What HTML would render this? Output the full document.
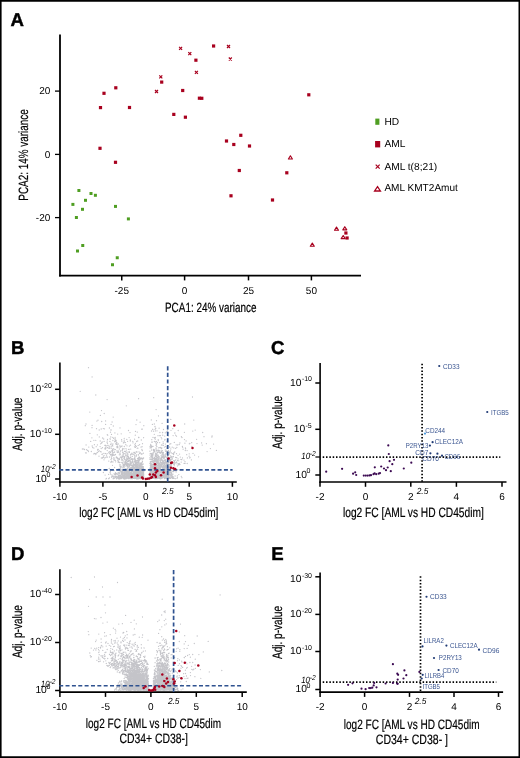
<!DOCTYPE html>
<html><head><meta charset="utf-8"><style>
html,body{margin:0;padding:0;background:#fff;}
svg{display:block;will-change:transform;}
text{font-family:"Liberation Sans", sans-serif;text-rendering:geometricPrecision;}
</style></head><body>
<svg width="520" height="758" viewBox="0 0 520 758">
<rect x="0" y="0" width="520" height="758" fill="#fff"/>
<path d="M133.2 469.7h0M132.2 465.5h0M125.7 477.8h0M121.2 469.7h0M126.9 470.8h0M134.3 478.4h0M129.9 472.1h0M138.9 469.7h0M134.9 444.6h0M140.1 474.5h0M130.2 457.4h0M131.3 477.8h0M135.6 477.5h0M120.1 477.9h0M141.0 468.1h0M131.0 477.1h0M121.4 477.8h0M135.2 474.2h0M129.1 476.1h0M128.0 477.6h0M135.3 474.3h0M129.3 477.7h0M136.5 472.8h0M123.1 471.1h0M134.7 475.1h0M131.6 459.0h0M128.7 472.7h0M113.1 478.7h0M135.9 475.0h0M121.0 471.4h0M129.6 477.9h0M122.3 471.7h0M143.4 478.7h0M142.6 471.6h0M132.7 467.7h0M128.2 474.0h0M122.1 467.8h0M139.0 478.6h0M122.5 473.3h0M135.1 473.9h0M125.5 463.1h0M131.2 459.4h0M130.9 473.7h0M120.1 474.9h0M128.3 467.2h0M124.1 464.6h0M130.0 460.3h0M129.9 477.7h0M123.3 473.1h0M134.5 461.1h0M137.2 474.2h0M135.5 475.8h0M124.5 473.4h0M123.5 476.9h0M129.2 468.4h0M129.1 449.3h0M127.9 463.1h0M138.2 471.0h0M130.9 475.9h0M118.9 469.0h0M143.8 471.6h0M120.0 471.0h0M127.9 464.6h0M143.5 478.8h0M136.1 474.7h0M141.2 466.0h0M125.7 477.4h0M127.7 466.3h0M140.5 464.5h0M132.0 469.1h0M115.5 476.8h0M131.2 477.7h0M142.6 470.6h0M135.7 473.6h0M140.6 476.8h0M138.8 475.6h0M141.3 464.9h0M120.9 476.0h0M124.6 476.7h0M124.7 470.4h0M139.6 468.7h0M139.1 472.3h0M138.6 467.6h0M138.5 468.5h0M140.7 474.9h0M129.4 452.4h0M129.2 471.4h0M131.9 476.1h0M123.7 467.0h0M125.7 477.7h0M128.2 475.7h0M128.5 470.2h0M129.6 469.9h0M133.0 464.9h0M123.1 464.7h0M129.7 474.5h0M142.3 475.8h0M132.9 475.4h0M140.7 475.0h0M131.8 472.6h0M130.2 463.6h0M136.3 469.5h0M137.4 468.0h0M142.4 476.3h0M139.6 444.7h0M133.0 477.9h0M139.2 470.8h0M142.5 469.8h0M126.8 464.4h0M132.3 458.7h0M126.8 476.6h0M138.9 460.5h0M137.3 464.8h0M118.5 476.9h0M139.1 457.4h0M132.9 461.7h0M136.1 473.4h0M127.4 467.0h0M136.5 475.4h0M141.8 464.0h0M139.2 460.8h0M134.9 465.6h0M137.4 475.0h0M130.6 473.3h0M135.0 475.1h0M140.9 466.6h0M114.1 478.0h0M130.4 476.6h0M139.9 469.0h0M139.4 473.0h0M140.6 476.6h0M121.0 475.1h0M137.1 477.7h0M140.4 471.7h0M129.5 470.1h0M138.4 459.1h0M118.2 472.4h0M139.6 465.2h0M136.1 468.8h0M133.9 471.4h0M134.9 467.0h0M134.9 477.2h0M134.0 473.2h0M142.4 467.2h0M137.0 475.1h0M143.8 475.1h0M140.6 468.6h0M140.5 477.6h0M141.7 473.1h0M134.8 457.4h0M127.9 454.6h0M136.3 471.7h0M133.5 464.0h0M143.1 458.7h0M125.5 473.4h0M119.8 472.6h0M125.0 466.3h0M136.5 475.7h0M141.2 477.7h0M139.6 474.6h0M124.1 474.7h0M140.5 474.0h0M116.9 477.2h0M143.7 472.9h0M129.7 476.3h0M133.3 476.3h0M130.9 478.6h0M142.8 469.0h0M122.4 472.0h0M140.3 458.3h0M124.4 477.4h0M129.6 465.5h0M133.9 469.2h0M119.8 475.3h0M121.9 473.2h0M140.2 459.6h0M127.9 452.2h0M142.5 443.7h0M126.2 471.2h0M133.6 471.9h0M138.9 472.8h0M134.0 474.4h0M126.6 478.2h0M125.9 478.2h0M127.2 469.1h0M132.3 476.3h0M136.0 475.3h0M143.2 476.3h0M141.3 476.4h0M142.1 475.1h0M125.0 471.0h0M136.3 478.1h0M133.9 469.0h0M142.0 464.1h0M105.9 478.9h0M123.7 465.7h0M133.8 473.9h0M132.1 465.2h0M138.4 476.6h0M124.4 479.0h0M126.2 477.9h0M138.1 470.2h0M141.7 468.7h0M126.4 475.1h0M120.7 478.2h0M133.8 473.2h0M128.9 471.8h0M130.7 449.1h0M127.1 463.7h0M136.3 467.5h0M105.1 475.1h0M135.0 472.8h0M139.9 472.5h0M128.1 475.6h0M138.2 459.0h0M135.0 462.3h0M141.2 476.3h0M129.9 477.7h0M134.2 472.2h0M132.7 469.7h0M135.1 472.6h0M138.7 472.2h0M136.2 463.2h0M127.9 474.4h0M136.0 477.3h0M138.2 476.5h0M126.4 474.5h0M126.8 463.5h0M124.4 476.8h0M141.9 477.7h0M142.0 467.7h0M116.2 476.3h0M117.2 478.0h0M117.5 473.8h0M140.1 422.2h0M131.3 477.2h0M142.4 475.5h0M115.6 474.2h0M130.7 464.6h0M135.8 462.6h0M127.7 476.4h0M130.7 468.3h0M129.1 470.3h0M141.0 463.1h0M123.5 473.2h0M140.7 465.4h0M136.2 470.1h0M126.4 473.5h0M139.2 471.5h0M138.6 458.9h0M134.0 458.7h0M137.0 466.4h0M129.1 470.8h0M129.2 478.2h0M138.4 474.1h0M136.8 420.0h0M133.2 463.4h0M128.2 476.1h0M122.1 477.7h0M126.4 476.0h0M138.8 472.3h0M133.8 467.0h0M115.4 476.9h0M132.8 470.8h0M143.7 471.2h0M114.6 460.2h0M132.8 476.1h0M123.1 465.5h0M120.2 468.8h0M141.1 475.6h0M135.7 476.2h0M126.1 476.2h0M123.3 476.0h0M112.1 476.2h0M121.3 472.8h0M142.1 475.3h0M129.9 475.1h0M132.7 476.2h0M134.4 470.8h0M137.3 472.5h0M143.6 468.8h0M137.1 473.1h0M134.5 469.6h0M142.2 466.5h0M130.6 455.1h0M136.0 475.5h0M125.1 472.1h0M134.6 478.6h0M131.7 471.9h0M138.6 477.8h0M118.6 472.9h0M135.1 476.7h0M128.4 467.3h0M134.7 474.9h0M120.8 477.4h0M127.0 477.0h0M128.2 478.1h0M141.9 470.4h0M131.7 471.4h0M129.6 473.1h0M135.2 471.7h0M103.4 472.5h0M129.7 475.8h0M139.6 470.8h0M143.3 478.3h0M130.0 474.0h0M128.0 473.5h0M124.8 476.5h0M131.8 476.6h0M125.1 476.5h0M141.2 472.8h0M126.6 465.0h0M137.4 476.1h0M135.1 472.4h0M138.9 473.1h0M128.1 459.0h0M140.9 474.0h0M118.5 476.3h0M126.4 471.2h0M143.1 467.3h0M132.4 474.2h0M142.5 461.4h0M138.6 458.9h0M132.9 474.7h0M131.5 472.6h0M132.2 474.6h0M142.6 478.5h0M128.5 465.0h0M138.4 475.6h0M132.0 465.4h0M142.7 472.1h0M127.6 474.6h0M133.4 474.7h0M130.3 476.6h0M136.8 473.4h0M132.5 476.7h0M141.1 472.6h0M127.4 478.2h0M133.0 467.1h0M140.7 478.5h0M130.1 475.3h0M132.5 466.0h0M126.4 474.3h0M120.5 470.8h0M143.4 472.5h0M140.3 476.9h0M117.9 476.5h0M131.3 476.2h0M138.0 462.0h0M124.1 474.3h0M137.0 469.8h0M141.4 468.1h0M127.9 474.3h0M138.9 474.0h0M142.4 476.6h0M136.3 472.9h0M137.2 475.3h0M140.1 469.4h0M131.3 477.4h0M128.5 458.1h0M129.7 476.7h0M134.8 475.1h0M139.6 459.8h0M139.1 473.6h0M126.4 469.9h0M141.0 447.1h0M130.0 464.4h0M130.0 468.0h0M131.6 462.6h0M138.1 464.7h0M108.7 478.7h0M134.9 474.5h0M135.0 468.4h0M143.4 453.2h0M130.7 474.9h0M126.9 464.7h0M138.3 470.0h0M138.0 467.5h0M135.3 465.1h0M135.4 473.0h0M125.3 478.0h0M133.4 475.9h0M136.1 478.0h0M141.3 440.0h0M113.0 476.0h0M138.1 473.1h0M143.5 474.5h0M130.0 469.9h0M136.6 452.0h0M126.1 454.0h0M132.3 461.3h0M137.5 467.0h0M130.7 464.7h0M126.0 474.5h0M129.6 477.6h0M142.2 458.5h0M139.9 473.4h0M143.0 478.8h0M131.9 469.1h0M131.1 474.2h0M116.6 478.2h0M125.8 476.4h0M138.9 474.7h0M143.4 476.4h0M131.3 465.6h0M137.5 464.1h0M128.1 471.0h0M122.2 467.8h0M124.1 467.7h0M142.7 466.9h0M132.1 469.7h0M131.7 471.1h0M139.6 458.1h0M139.7 472.3h0M115.1 475.1h0M114.6 467.5h0M133.3 475.2h0M137.3 470.9h0M132.6 474.8h0M142.2 477.8h0M134.3 475.3h0M126.2 470.5h0M135.4 473.0h0M142.8 478.3h0M124.1 477.7h0M124.1 469.4h0M109.4 477.9h0M123.7 476.9h0M138.8 473.5h0M136.3 464.8h0M134.8 461.3h0M132.2 473.4h0M121.2 466.3h0M137.6 474.0h0M128.2 472.8h0M125.5 473.7h0M138.1 473.3h0M135.8 474.5h0M123.5 475.9h0M142.2 458.5h0M140.7 472.0h0M135.9 471.3h0M141.4 463.1h0M121.7 474.6h0M130.9 472.3h0M141.9 449.4h0M119.2 478.2h0M124.2 474.6h0M141.7 429.2h0M122.6 473.5h0M135.0 470.7h0M109.2 468.5h0M142.4 461.7h0M126.6 473.6h0M132.4 475.8h0M134.6 476.8h0M127.5 476.9h0M137.5 458.4h0M118.2 478.0h0M116.7 478.8h0M135.1 468.6h0M123.1 475.8h0M125.3 477.5h0M134.1 469.5h0M133.9 472.1h0M134.8 467.9h0M126.0 473.7h0M119.6 477.7h0M138.7 476.5h0M132.2 474.4h0M136.2 464.1h0M126.8 477.9h0M134.0 477.2h0M142.8 464.6h0M126.5 471.6h0M131.7 473.3h0M135.7 471.5h0M118.4 478.4h0M131.1 469.0h0M136.3 472.8h0M132.4 470.5h0M137.2 478.8h0M135.9 466.4h0M137.4 472.9h0M143.1 466.7h0M130.7 474.4h0M138.9 475.1h0M134.0 474.6h0M111.5 477.2h0M121.8 462.5h0M120.6 478.5h0M131.0 468.8h0M138.5 458.0h0M138.8 462.1h0M133.6 454.1h0M139.2 456.8h0M133.5 477.1h0M137.5 477.1h0M141.1 463.4h0M133.2 474.2h0M133.7 468.0h0M134.5 468.7h0M126.7 477.4h0M139.7 471.6h0M136.7 462.4h0M136.5 472.5h0M123.6 477.2h0M126.6 476.5h0M132.2 467.1h0M128.9 473.4h0M131.8 467.5h0M127.9 463.9h0M138.2 474.9h0M140.7 477.9h0M125.7 473.3h0M127.5 471.7h0M143.3 474.5h0M121.4 471.9h0M133.6 473.7h0M120.3 477.2h0M142.5 466.5h0M135.8 461.5h0M121.4 476.2h0M142.1 459.8h0M137.1 468.5h0M135.0 474.4h0M129.0 475.3h0M128.3 475.3h0M132.8 441.4h0M141.5 466.2h0M138.4 463.2h0M135.8 478.0h0M123.3 476.5h0M124.9 470.5h0M134.3 477.2h0M111.9 474.8h0M128.2 478.5h0M137.7 440.9h0M141.2 469.2h0M137.7 468.8h0M137.1 460.4h0M141.3 470.4h0M136.7 476.8h0M123.3 452.8h0M125.2 469.7h0M135.6 465.6h0M133.1 469.4h0M138.9 437.5h0M134.5 446.8h0M136.7 469.0h0M136.2 451.8h0M131.8 473.9h0M119.4 476.7h0M135.4 468.9h0M142.3 475.5h0M134.5 475.1h0M131.8 475.5h0M137.9 475.0h0M124.5 476.9h0M140.1 459.1h0M128.3 456.4h0M121.6 476.6h0M128.8 472.9h0M143.8 425.7h0M130.0 473.2h0M132.6 473.7h0M143.3 467.4h0M131.3 471.0h0M125.0 474.3h0M136.1 475.8h0M113.8 476.8h0M143.0 476.9h0M130.7 477.0h0M139.4 472.9h0M140.6 477.8h0M112.9 476.8h0M139.4 477.0h0M130.9 469.2h0M136.1 474.0h0M126.2 477.0h0M142.7 468.1h0M129.7 471.7h0M130.5 476.3h0M134.8 455.7h0M137.4 476.3h0M136.6 475.6h0M135.1 469.7h0M143.5 478.7h0M135.7 478.2h0M134.7 474.0h0M126.9 473.3h0M134.8 469.5h0M138.6 466.8h0M130.9 477.5h0M126.2 471.8h0M138.0 478.9h0M138.7 464.7h0M123.7 478.0h0M135.4 471.2h0M134.8 446.8h0M137.8 469.5h0M114.7 474.3h0M136.4 474.4h0M137.3 475.9h0M127.7 464.7h0M141.6 475.3h0M124.8 474.9h0M135.3 465.7h0M123.5 478.2h0M143.2 477.4h0M130.9 476.3h0M143.6 457.9h0M141.0 453.7h0M140.9 467.7h0M130.7 464.9h0M141.4 474.1h0M131.4 462.8h0M123.3 475.4h0M129.8 474.2h0M141.6 469.4h0M117.0 474.0h0M132.6 476.0h0M136.6 473.2h0M127.9 473.1h0M136.0 471.5h0M125.4 461.4h0M130.7 469.3h0M141.6 469.2h0M136.8 476.6h0M140.6 474.8h0M138.4 455.1h0M140.2 471.6h0M133.1 477.8h0M140.9 477.0h0M128.5 464.5h0M121.5 473.7h0M132.4 477.8h0M141.9 470.5h0M136.1 473.9h0M130.7 475.8h0M131.1 470.1h0M124.3 476.1h0M140.1 473.1h0M134.5 465.3h0M143.0 471.5h0M120.3 475.4h0M119.1 475.3h0M139.8 457.9h0M141.2 464.0h0M131.1 475.7h0M123.4 478.7h0M136.3 465.5h0M117.4 477.5h0M124.4 456.7h0M132.1 472.8h0M141.2 457.8h0M137.3 467.6h0M120.9 467.0h0M139.2 468.9h0M123.9 477.2h0M125.1 475.6h0M142.2 466.6h0M134.3 468.9h0M123.1 478.1h0M142.8 475.0h0M139.3 472.8h0M137.6 476.6h0M120.3 476.8h0M133.9 452.4h0M134.2 474.9h0M137.9 448.2h0M139.4 475.7h0M140.1 470.5h0M130.3 468.4h0M129.8 475.9h0M137.7 476.6h0M143.2 472.1h0M127.7 476.8h0M139.1 475.5h0M134.9 478.1h0M120.7 478.4h0M140.8 473.4h0M132.7 478.6h0M135.3 476.3h0M142.2 474.7h0M126.7 474.4h0M137.0 474.0h0M128.5 475.4h0M130.5 470.2h0M123.9 469.3h0M141.4 472.2h0M137.4 468.7h0M131.9 453.1h0M138.6 437.5h0M130.5 463.4h0M137.5 472.3h0M113.7 478.5h0M124.3 472.0h0M139.5 476.7h0M140.3 467.8h0M141.0 471.6h0M131.7 475.8h0M126.9 470.4h0M129.8 465.1h0M136.3 477.8h0M114.6 474.3h0M142.4 450.7h0M143.2 478.4h0M132.7 470.8h0M131.7 474.1h0M134.0 464.8h0M143.0 468.4h0M133.6 470.0h0M136.6 477.9h0M128.7 475.8h0M128.1 467.1h0M139.6 478.0h0M128.6 474.4h0M131.9 470.2h0M126.0 470.1h0M130.9 477.8h0M121.6 478.6h0M133.1 465.7h0M136.0 478.1h0M133.4 477.2h0M132.2 476.2h0M132.6 476.5h0M123.0 472.0h0M129.2 470.6h0M126.3 472.3h0M142.2 472.7h0M141.6 472.9h0M125.4 475.6h0M137.1 460.7h0M133.0 442.8h0M127.6 477.5h0M138.4 473.0h0M115.7 473.7h0M142.8 464.5h0M130.6 468.6h0M128.8 466.8h0M143.4 476.3h0M124.4 451.4h0M137.9 461.2h0M127.2 469.9h0M136.6 478.9h0M137.1 474.6h0M139.6 459.8h0M140.0 470.3h0M122.0 474.4h0M131.7 458.8h0M139.5 453.5h0M142.6 476.0h0M135.7 471.9h0M134.7 458.6h0M132.7 478.3h0M135.4 447.4h0M143.2 473.3h0M138.6 468.7h0M138.9 466.1h0M140.0 462.9h0M132.8 467.3h0M141.2 465.1h0M119.7 478.9h0M138.3 469.4h0M123.1 470.2h0M118.7 476.6h0M138.2 469.5h0M122.8 473.2h0M135.9 472.2h0M139.7 476.7h0M142.4 466.8h0M134.1 473.0h0M136.8 477.9h0M135.6 475.7h0M139.8 476.7h0M139.2 463.8h0M122.2 470.7h0M115.2 477.6h0M116.1 476.7h0M126.6 478.4h0M128.8 475.6h0M127.1 474.9h0M137.8 473.5h0M142.6 471.2h0M131.9 464.9h0M133.5 473.0h0M123.1 477.6h0M139.4 466.3h0M135.3 435.2h0M128.8 473.6h0M126.0 474.6h0M126.5 465.8h0M127.3 475.8h0M122.1 475.0h0M126.1 477.2h0M133.7 475.1h0M139.8 475.5h0M127.7 476.4h0M133.3 464.8h0M140.2 452.6h0M131.1 478.7h0M142.4 478.4h0M115.0 476.5h0M128.0 477.3h0M125.9 473.6h0M130.0 432.6h0M136.4 470.4h0M140.1 468.9h0M142.4 469.8h0M142.1 453.9h0M132.3 471.7h0M133.9 467.8h0M135.4 443.3h0M124.0 477.9h0M137.0 477.8h0M135.5 462.9h0M138.0 470.7h0M139.3 476.8h0M141.5 469.0h0M106.5 478.3h0M136.5 456.1h0M130.6 477.2h0M139.8 475.4h0M127.2 477.3h0M143.4 475.5h0M140.5 471.5h0M135.1 471.0h0M139.3 467.5h0M127.3 477.9h0M134.2 478.4h0M143.2 477.0h0M130.5 478.7h0M135.1 476.1h0M120.6 464.9h0M140.8 473.3h0M126.4 455.9h0M131.2 474.5h0M139.5 475.9h0M128.9 478.2h0M140.0 475.2h0M126.7 474.6h0M134.0 472.1h0M135.8 472.2h0M137.6 462.4h0M135.3 470.0h0M137.5 474.3h0M133.8 470.4h0M130.0 472.0h0M132.4 454.2h0M136.4 469.8h0M137.0 452.0h0M124.0 467.4h0M140.0 469.0h0M135.0 456.7h0M139.7 466.4h0M125.9 474.2h0M133.5 476.5h0M126.4 471.9h0M123.4 475.7h0M129.7 460.5h0M136.8 477.6h0M137.5 478.3h0M140.8 473.7h0M118.9 477.9h0M139.4 477.2h0M121.8 474.6h0M131.6 475.7h0M133.4 466.2h0M128.1 476.2h0M137.6 475.3h0M132.1 475.1h0M110.1 472.5h0M142.8 458.5h0M137.6 468.9h0M143.8 476.9h0M123.9 476.7h0M112.5 465.3h0M143.4 468.4h0M139.4 477.9h0M135.4 462.4h0M140.5 475.9h0M142.6 472.7h0M136.0 471.9h0M129.9 478.6h0M143.5 473.9h0M138.9 462.1h0M140.1 463.1h0M127.7 454.3h0M138.8 465.6h0M136.7 441.5h0M125.6 478.8h0M137.8 473.2h0M143.7 474.6h0M132.0 477.1h0M128.4 474.3h0M132.8 474.4h0M125.1 475.6h0M138.3 468.6h0M142.1 450.3h0M130.2 462.5h0M125.7 462.2h0M119.2 477.7h0M138.3 465.1h0M119.0 473.8h0M116.7 478.4h0M137.6 474.2h0M129.8 474.4h0M110.8 462.2h0M137.5 477.5h0M117.8 469.3h0M118.7 478.4h0M137.0 471.1h0M138.0 468.9h0M139.9 459.5h0M121.5 471.6h0M138.5 474.5h0M122.7 475.0h0M110.4 471.4h0M136.9 466.6h0M135.4 465.7h0M134.3 475.4h0M135.6 469.9h0M135.1 472.9h0M119.2 473.4h0M123.1 466.7h0M134.5 461.8h0M138.2 476.5h0M116.8 474.0h0M120.4 478.3h0M116.5 476.3h0M131.5 473.5h0M131.3 469.3h0M130.3 475.3h0M136.7 467.9h0M126.8 463.6h0M139.6 475.9h0M139.7 477.5h0M124.2 473.9h0M119.5 458.9h0M120.4 475.2h0M129.1 477.8h0M122.5 470.5h0M125.9 469.3h0M127.3 456.1h0M131.4 476.9h0M130.4 478.5h0M135.4 445.5h0M134.6 473.4h0M136.1 471.5h0M120.0 453.0h0M140.5 474.8h0M122.8 477.5h0M131.0 477.9h0M127.7 453.7h0M131.9 471.7h0M133.8 472.2h0M140.7 471.8h0M136.1 476.5h0M129.8 465.6h0M130.5 472.2h0M135.1 467.8h0M130.7 478.5h0M140.1 478.7h0M136.8 474.6h0M122.8 476.0h0M138.2 462.2h0M116.2 476.4h0M141.1 464.4h0M134.9 465.8h0M135.2 477.4h0M126.2 475.7h0M123.6 456.0h0M141.6 467.8h0M128.1 466.6h0M138.5 478.4h0M129.0 469.6h0M142.9 468.7h0M129.1 437.6h0M129.3 474.9h0M138.4 476.2h0M130.7 475.0h0M133.3 469.2h0M143.7 471.4h0M142.7 475.9h0M136.1 472.8h0M138.7 476.1h0M125.1 474.2h0M138.5 478.6h0M139.9 457.8h0M143.7 477.6h0M140.3 476.4h0M141.0 469.5h0M132.3 477.6h0M108.6 474.4h0M136.0 476.4h0M129.5 477.4h0M134.8 452.4h0M114.0 473.8h0M143.2 478.2h0M136.4 476.5h0M133.0 466.5h0M131.8 475.5h0M139.8 475.1h0M131.0 475.3h0M139.0 471.4h0M116.2 473.5h0M141.1 477.5h0M133.7 470.0h0M136.8 473.9h0M122.4 476.6h0M140.0 470.4h0M126.5 476.5h0M142.6 467.4h0M136.7 469.5h0M130.4 475.8h0M127.8 471.0h0M137.4 477.6h0M134.9 477.6h0M135.4 476.0h0M135.9 476.7h0M122.7 473.9h0M137.6 460.5h0M135.4 477.0h0M131.8 474.8h0M124.9 473.5h0M126.4 460.1h0M141.0 472.4h0M140.6 469.1h0M125.8 478.9h0M142.9 472.6h0M137.5 466.2h0M141.5 454.2h0M127.6 475.7h0M129.7 466.4h0M136.1 478.5h0M131.8 478.7h0M138.8 475.4h0M139.8 469.5h0M135.6 476.1h0M133.5 466.6h0M143.6 437.7h0M128.7 463.9h0M137.0 463.1h0M132.3 466.2h0M136.5 460.9h0M128.3 474.7h0M133.6 465.0h0M135.0 459.0h0M133.5 464.1h0M132.0 468.4h0M138.1 474.6h0M136.0 424.6h0M135.0 478.6h0M129.2 451.4h0M133.5 476.3h0M128.7 471.1h0M131.4 474.7h0M132.1 478.0h0M130.9 467.7h0M125.3 464.1h0M132.5 474.6h0M141.8 466.7h0M138.5 475.8h0M140.0 465.1h0M139.6 470.6h0M126.2 477.2h0M135.3 468.9h0M135.5 472.2h0M142.1 473.6h0M115.5 477.3h0M139.8 472.6h0M143.0 474.0h0M131.5 477.6h0M128.2 474.1h0M124.8 453.6h0M127.4 468.7h0M141.6 473.2h0M138.0 471.7h0M138.0 476.7h0M135.8 471.9h0M122.8 473.8h0M112.9 476.8h0M140.5 473.8h0M136.6 478.1h0M139.3 474.5h0M130.9 478.5h0M136.8 477.4h0M143.2 470.6h0M134.4 469.1h0M118.2 475.7h0M133.8 477.3h0M142.9 477.8h0M138.6 398.7h0M141.7 466.6h0M130.1 472.0h0M124.0 478.4h0M123.8 472.9h0M125.7 459.6h0M139.7 478.3h0M127.1 472.8h0M129.0 474.2h0M134.0 471.7h0M125.5 478.3h0M138.5 470.3h0M143.2 466.7h0M133.6 472.7h0M137.0 470.5h0M139.5 467.9h0M129.2 465.2h0M137.8 476.2h0M133.7 478.3h0M129.8 476.5h0M132.0 471.2h0M125.9 475.8h0M135.6 464.0h0M134.5 475.1h0M131.8 471.1h0M137.6 477.8h0M137.3 477.1h0M128.7 467.1h0M120.6 478.3h0M137.6 478.3h0M142.1 446.7h0M139.2 476.3h0M143.8 476.7h0M136.5 477.7h0M114.8 474.1h0M141.3 458.4h0M128.5 471.0h0M134.4 464.6h0M140.1 478.4h0M115.2 473.1h0M143.1 464.0h0M135.4 473.0h0M129.0 469.4h0M120.0 466.3h0M130.9 474.9h0M142.7 471.5h0M118.6 478.7h0M125.1 471.6h0M131.4 475.7h0M136.1 466.7h0M139.4 475.0h0M123.1 476.9h0M138.7 468.7h0M118.8 475.9h0M138.7 465.0h0M135.1 463.8h0M133.0 469.0h0M138.6 477.2h0M134.0 454.7h0M132.9 470.7h0M137.9 478.5h0M123.8 478.0h0M115.5 474.5h0M135.0 453.5h0M142.9 472.0h0M139.7 477.3h0M134.5 466.9h0M123.4 475.1h0M140.5 466.4h0M127.4 474.3h0M132.1 465.9h0M138.8 469.3h0M136.7 476.8h0M138.8 466.9h0M138.1 476.3h0M140.4 465.2h0M130.9 472.5h0M140.9 471.1h0M134.6 468.3h0M131.1 476.9h0M143.2 478.5h0M141.8 474.3h0M139.6 478.0h0M118.9 478.9h0M126.2 474.4h0M130.0 478.7h0M133.9 470.4h0M117.9 474.3h0M123.3 464.5h0M132.1 477.3h0M127.5 475.8h0M132.1 462.2h0M141.1 476.1h0M143.3 476.0h0M121.9 474.8h0M142.1 462.3h0M136.2 477.5h0M137.5 471.4h0M133.1 475.8h0M137.2 448.2h0M135.3 466.7h0M125.3 468.9h0M139.5 465.1h0M128.6 475.2h0M133.4 467.6h0M130.0 463.5h0M128.2 470.2h0M128.4 478.6h0M134.5 473.5h0M133.7 477.6h0M138.5 476.1h0M133.9 476.0h0M137.8 477.5h0M141.6 472.2h0M135.2 464.1h0M133.5 464.9h0M127.1 474.1h0M126.9 468.8h0M114.9 478.1h0M125.7 476.3h0M130.3 475.2h0M120.4 471.0h0M130.8 469.5h0M139.4 468.3h0M126.0 474.6h0M137.9 475.7h0M127.7 472.7h0M134.7 475.0h0M137.8 470.9h0M141.4 474.6h0M132.8 478.3h0M124.2 476.1h0M129.1 476.4h0M138.2 445.4h0M134.7 473.6h0M136.8 478.8h0M122.5 476.9h0M121.9 477.3h0M128.6 476.0h0M129.9 460.2h0M110.5 474.0h0M140.9 478.1h0M135.4 475.2h0M139.3 475.8h0M139.0 451.8h0M138.3 454.6h0M139.0 470.1h0M119.9 475.3h0M132.8 470.6h0M128.5 475.5h0M138.4 471.6h0M132.7 477.1h0M143.1 472.6h0M137.7 477.7h0M119.9 473.0h0M128.6 477.2h0M127.7 456.9h0M139.6 467.6h0M119.5 464.9h0M124.9 465.4h0M131.5 478.6h0M134.0 473.7h0M135.4 459.2h0M141.4 471.0h0M133.5 474.5h0M127.1 460.7h0M120.0 475.1h0M119.5 475.6h0M123.4 478.1h0M115.5 472.7h0M135.3 461.6h0M134.4 469.9h0M125.1 478.3h0M134.6 473.7h0M142.1 477.5h0M120.3 467.9h0M138.4 465.1h0M142.6 466.5h0M125.0 478.5h0M131.6 476.0h0M143.3 475.7h0M124.1 470.2h0M130.6 473.2h0M123.2 469.4h0M142.4 477.6h0M135.4 463.5h0M122.6 475.0h0M133.4 476.2h0M134.5 458.7h0M138.5 473.1h0M139.2 472.8h0M123.3 466.8h0M137.2 465.1h0M138.4 475.5h0M128.6 470.8h0M134.1 469.5h0M139.7 473.4h0M137.4 477.0h0M114.3 478.1h0M139.3 476.7h0M114.1 470.6h0M142.4 429.1h0M135.7 460.7h0M139.2 471.2h0M138.1 460.1h0M121.2 476.9h0M136.3 473.9h0M124.2 440.2h0M121.6 439.7h0M111.5 434.4h0M102.6 458.0h0M82.4 449.0h0M104.1 455.3h0M124.3 446.5h0M116.7 443.1h0M120.3 454.7h0M84.6 449.6h0M134.1 459.3h0M97.3 434.8h0M130.7 457.5h0M110.2 452.1h0M86.6 449.6h0M122.2 455.8h0M118.5 452.0h0M112.9 444.0h0M125.8 455.9h0M93.9 448.1h0M115.1 438.7h0M112.8 453.5h0M117.2 452.2h0M111.4 457.0h0M112.2 450.4h0M102.7 457.4h0M123.0 454.3h0M106.7 457.0h0M125.0 451.4h0M109.2 446.7h0M115.5 441.2h0M122.3 459.2h0M111.1 430.0h0M107.1 453.6h0M115.4 449.6h0M90.7 441.4h0M102.7 437.8h0M101.5 443.0h0M117.7 446.2h0M112.5 445.5h0M121.2 457.8h0M117.6 446.8h0M96.1 453.6h0M119.3 449.0h0M111.2 446.3h0M99.2 430.0h0M105.3 457.3h0M102.5 447.7h0M122.9 456.6h0M127.7 456.2h0M123.2 461.9h0M130.9 459.7h0M115.6 461.8h0M132.7 459.4h0M117.9 452.6h0M125.6 451.8h0M97.5 452.3h0M128.3 456.9h0M124.5 458.3h0M107.2 450.6h0M110.9 430.0h0M128.5 449.3h0M117.7 434.1h0M112.1 422.0h0M112.9 450.3h0M110.5 439.1h0M121.9 458.8h0M116.2 440.3h0M122.6 452.7h0M105.6 445.5h0M117.9 460.4h0M97.7 449.5h0M126.4 452.2h0M91.9 437.8h0M124.4 457.7h0M122.8 448.4h0M100.6 443.8h0M110.5 452.1h0M96.9 421.1h0M112.5 454.9h0M105.3 447.7h0M107.8 447.7h0M111.3 451.1h0M115.4 460.3h0M133.6 465.1h0M120.4 451.2h0M99.0 456.2h0M101.9 442.7h0M112.5 449.2h0M109.4 428.0h0M116.9 450.8h0M107.5 443.6h0M118.1 443.6h0M97.8 450.3h0M128.8 461.4h0M111.5 461.2h0M135.5 431.4h0M137.1 462.7h0M95.1 453.6h0M98.3 449.3h0M116.9 446.7h0M92.0 427.7h0M125.8 455.5h0M107.1 399.6h0M102.2 441.9h0M114.1 458.3h0M107.5 439.5h0M110.5 444.6h0M92.7 447.5h0M132.7 467.1h0M118.0 462.0h0M129.4 458.5h0M107.1 442.6h0M94.4 444.7h0M116.7 457.1h0M88.8 447.1h0M104.5 428.8h0M100.2 441.0h0M116.9 444.6h0M94.3 453.3h0M96.2 446.7h0M135.1 460.3h0M101.1 451.9h0M116.4 444.4h0M127.1 465.4h0M117.1 447.7h0M131.0 454.2h0M108.8 452.6h0M121.5 459.9h0M120.0 427.9h0M102.5 438.1h0M132.8 461.6h0M125.7 455.7h0M121.8 441.2h0M124.5 457.9h0M111.1 454.2h0M114.6 441.7h0M125.4 442.6h0M112.6 454.3h0M97.4 444.9h0M114.3 452.3h0M120.4 450.9h0M83.8 449.0h0M111.7 458.4h0M109.4 453.6h0M129.8 458.5h0M130.7 461.5h0M118.7 459.1h0M111.1 443.2h0M130.3 440.0h0M132.6 466.1h0M125.8 460.1h0M100.1 446.6h0M127.8 459.4h0M113.9 457.7h0M132.5 460.6h0M112.8 446.1h0M125.1 464.8h0M127.6 441.3h0M109.9 441.4h0M103.2 453.3h0M126.8 462.7h0M125.9 454.2h0M122.5 449.5h0M125.8 444.7h0M121.4 457.9h0M109.5 457.0h0M121.9 460.1h0M130.7 454.5h0M118.9 458.4h0M136.4 455.0h0M127.7 465.3h0M85.3 425.7h0M122.2 457.2h0M124.5 463.8h0M124.5 457.3h0M109.9 438.8h0M115.1 437.3h0M114.6 451.9h0M126.3 450.1h0M105.0 453.3h0M123.0 460.3h0M105.5 453.6h0M116.4 456.9h0M102.2 454.5h0M111.9 444.8h0M106.1 447.9h0M121.9 446.3h0M122.0 446.0h0M112.5 452.0h0M124.5 462.2h0M119.5 459.6h0M111.4 448.2h0M120.3 457.2h0M121.1 457.0h0M119.1 462.5h0M121.2 433.8h0M110.5 432.2h0M134.6 439.2h0M125.8 460.5h0M101.4 458.0h0M103.6 456.1h0M118.2 450.8h0M131.4 463.3h0M93.9 440.3h0M86.3 452.9h0M126.4 457.9h0M114.6 455.2h0M124.1 442.5h0M130.3 441.0h0M123.4 442.9h0M127.5 464.2h0M118.9 459.4h0M122.1 450.4h0M125.2 463.9h0M101.2 429.0h0M124.1 448.8h0M113.1 452.8h0M95.8 440.3h0M117.2 446.5h0M117.6 458.8h0M119.9 462.5h0M126.5 463.0h0M124.6 465.2h0M114.9 432.9h0M127.6 455.7h0M126.9 461.3h0M110.8 455.0h0M130.7 457.1h0M127.7 465.9h0M132.3 456.4h0M100.6 451.6h0M113.8 459.2h0M104.8 445.3h0M107.1 453.7h0M122.5 463.2h0M98.5 451.6h0M112.5 449.9h0M117.7 452.4h0M128.2 464.4h0M97.0 452.7h0M101.2 448.5h0M114.2 449.7h0M120.4 447.0h0M111.9 461.8h0M101.5 410.6h0M106.5 455.2h0M124.2 441.6h0M135.3 453.4h0M101.9 454.3h0M127.0 459.0h0M123.8 458.2h0M131.2 454.2h0M123.6 454.0h0M104.2 413.5h0M128.6 460.4h0M126.8 439.4h0M112.9 440.5h0M130.3 461.9h0M120.2 447.2h0M117.4 457.9h0M120.0 446.7h0M122.9 456.2h0M116.2 457.8h0M130.5 454.9h0M110.6 452.5h0M114.9 439.8h0M126.4 464.4h0M137.3 432.1h0M103.7 439.0h0M114.2 460.2h0M98.0 420.2h0M105.5 449.0h0M107.7 435.2h0M115.8 443.6h0M88.5 451.6h0M112.6 451.1h0M115.5 454.5h0M122.4 450.9h0M127.0 445.8h0M124.2 440.1h0M104.0 459.8h0M104.8 448.8h0M93.8 453.9h0M119.9 445.3h0M107.5 457.1h0M87.3 450.3h0M126.0 448.6h0M111.9 455.1h0M128.1 461.4h0M123.5 464.2h0M130.4 464.1h0M124.2 464.1h0M119.5 459.0h0M113.3 455.3h0M113.0 461.9h0M118.1 444.2h0M107.2 441.1h0M109.9 448.0h0M85.5 452.8h0M112.9 452.5h0M115.9 444.0h0M110.4 454.7h0M124.2 438.3h0M120.8 446.8h0M105.2 445.3h0M91.3 451.5h0M88.2 450.8h0M129.5 458.8h0M86.1 444.9h0M119.3 459.1h0M99.3 436.9h0M109.3 451.6h0M111.1 424.4h0M104.8 458.0h0M113.3 454.6h0M129.4 446.1h0M128.5 430.5h0M108.8 445.3h0M113.5 438.3h0M105.4 448.5h0M115.4 440.2h0M112.8 437.4h0M117.8 447.5h0M113.2 417.1h0M133.5 464.7h0M106.0 446.2h0M119.3 454.8h0M122.8 448.9h0M89.9 433.4h0M111.0 459.4h0M130.1 462.9h0M105.6 420.9h0M125.5 464.0h0M119.2 458.8h0M133.1 462.7h0M99.5 450.8h0M128.5 457.2h0M118.5 461.2h0M130.5 445.2h0M113.7 448.7h0M110.8 437.0h0M112.3 455.8h0M116.9 442.6h0M107.3 434.7h0M109.0 448.4h0M122.1 457.3h0M127.2 461.3h0M104.1 441.4h0M107.6 447.7h0M136.3 446.4h0M132.8 460.8h0M103.3 428.6h0M114.4 455.1h0M127.9 458.5h0M107.2 445.5h0M125.4 463.6h0M92.2 446.0h0M103.4 457.3h0M95.8 454.6h0M120.0 453.5h0M108.8 461.1h0M116.2 441.9h0M124.4 459.7h0M154.1 472.4h0M181.3 476.3h0M168.5 477.7h0M163.0 474.5h0M162.2 472.4h0M156.8 473.9h0M170.6 478.4h0M151.5 442.1h0M151.4 455.7h0M153.0 466.3h0M158.1 459.0h0M162.1 473.9h0M153.4 477.1h0M162.1 423.4h0M151.5 465.4h0M155.9 461.1h0M154.7 471.8h0M164.6 466.5h0M168.7 468.0h0M153.7 467.7h0M166.4 469.9h0M152.5 466.9h0M150.3 474.2h0M158.5 476.3h0M154.1 474.2h0M151.1 470.3h0M160.0 468.9h0M154.9 471.6h0M152.5 442.1h0M163.5 473.8h0M156.4 465.0h0M161.1 465.4h0M156.0 468.1h0M159.7 471.2h0M150.8 473.2h0M160.4 435.7h0M152.6 466.2h0M162.5 474.1h0M161.8 475.9h0M155.8 472.3h0M165.3 450.0h0M155.4 472.9h0M150.6 459.1h0M152.1 464.1h0M155.9 478.0h0M161.8 448.0h0M157.8 474.2h0M159.8 469.2h0M157.6 462.7h0M154.0 473.1h0M150.2 471.2h0M153.2 474.9h0M150.1 447.9h0M173.2 477.1h0M154.2 466.6h0M161.8 473.7h0M164.4 464.3h0M156.5 454.0h0M161.6 465.5h0M153.1 472.8h0M157.1 469.8h0M152.5 476.1h0M155.4 455.5h0M160.5 478.5h0M156.1 472.6h0M152.9 474.6h0M163.2 476.8h0M168.2 476.5h0M151.4 463.8h0M159.8 467.6h0M156.7 463.2h0M164.7 465.9h0M178.8 474.6h0M161.6 459.4h0M159.5 463.4h0M149.9 451.2h0M166.6 474.0h0M150.4 467.4h0M155.1 474.2h0M150.3 465.6h0M159.9 468.4h0M152.5 472.7h0M156.3 470.8h0M167.6 476.7h0M155.1 472.2h0M154.3 470.2h0M150.4 476.9h0M159.8 465.0h0M156.6 450.3h0M155.8 472.6h0M156.1 465.5h0M150.4 474.6h0M170.6 475.2h0M150.8 470.2h0M161.2 478.5h0M151.4 471.5h0M150.6 453.6h0M156.9 475.2h0M156.2 464.8h0M152.2 469.4h0M156.0 449.0h0M155.2 456.8h0M154.7 463.2h0M166.5 475.2h0M152.7 471.9h0M158.5 464.4h0M156.1 409.6h0M156.6 459.0h0M167.9 455.9h0M153.3 470.8h0M150.4 474.7h0M149.9 473.5h0M155.5 474.2h0M158.7 475.9h0M152.2 467.0h0M156.6 454.6h0M153.8 474.6h0M151.5 446.2h0M159.2 469.2h0M152.4 473.0h0M156.9 477.8h0M173.0 474.1h0M164.6 476.7h0M162.2 472.8h0M157.7 463.7h0M154.8 463.3h0M159.7 442.6h0M164.6 475.5h0M163.3 452.3h0M168.7 474.5h0M151.8 456.2h0M156.1 476.3h0M156.2 464.3h0M160.0 471.8h0M164.7 470.8h0M150.2 478.3h0M156.9 450.2h0M159.9 465.1h0M173.1 476.6h0M155.5 459.4h0M155.6 471.9h0M167.6 476.8h0M150.5 466.9h0M155.5 475.4h0M157.7 475.8h0M154.5 457.4h0M156.1 447.9h0M165.5 474.5h0M158.0 469.9h0M166.0 472.8h0M152.3 459.9h0M158.3 463.9h0M167.8 467.3h0M151.0 474.6h0M150.6 473.1h0M159.7 476.7h0M160.6 452.8h0M158.2 457.2h0M152.7 476.5h0M150.1 471.0h0M164.4 462.9h0M162.7 455.8h0M158.2 459.4h0M160.7 464.3h0M155.8 461.2h0M164.0 462.1h0M154.4 477.2h0M172.7 474.6h0M164.6 460.3h0M162.3 473.5h0M152.4 424.4h0M166.4 475.2h0M156.4 441.4h0M157.7 475.5h0M162.2 456.1h0M150.8 467.9h0M168.4 470.9h0M150.8 474.6h0M166.2 476.0h0M158.9 472.8h0M154.9 469.1h0M161.2 458.1h0M158.2 450.2h0M160.6 458.8h0M153.6 462.9h0M166.8 470.2h0M152.8 466.2h0M150.8 473.8h0M154.8 467.7h0M158.4 473.0h0M161.6 476.8h0M169.1 477.6h0M164.2 473.3h0M164.2 477.6h0M161.5 465.9h0M171.5 477.5h0M162.0 476.8h0M158.1 457.8h0M161.5 464.2h0M157.5 474.8h0M151.0 471.2h0M163.7 475.1h0M154.8 475.2h0M164.3 462.4h0M156.5 467.8h0M159.2 467.7h0M172.4 476.5h0M164.4 447.1h0M161.5 476.6h0M154.5 477.4h0M155.4 430.9h0M152.3 468.3h0M162.0 452.1h0M176.2 471.9h0M154.0 460.6h0M154.5 476.6h0M161.4 476.7h0M163.4 472.1h0M160.2 476.6h0M166.2 478.3h0M160.6 478.9h0M167.5 471.4h0M150.0 471.1h0M159.0 471.1h0M162.9 464.2h0M162.0 474.6h0M162.0 472.6h0M154.3 471.1h0M154.5 471.1h0M166.9 457.4h0M151.4 472.5h0M155.3 439.2h0M159.8 465.5h0M155.1 469.7h0M159.5 472.3h0M162.1 472.8h0M156.4 473.8h0M164.7 474.1h0M155.5 474.0h0M158.3 466.3h0M151.1 470.2h0M152.9 455.7h0M153.0 454.5h0M152.7 474.5h0M159.2 458.3h0M156.2 444.8h0M158.4 475.6h0M153.1 466.5h0M154.6 450.7h0M158.9 470.2h0M160.6 474.5h0M154.9 468.6h0M164.6 464.6h0M165.3 475.8h0M151.2 472.6h0M166.6 472.5h0M159.7 474.5h0M151.8 471.9h0M153.7 466.1h0M163.7 467.8h0M163.9 470.3h0M156.5 458.4h0M161.2 476.8h0M154.1 470.9h0M159.1 474.9h0M166.8 478.5h0M159.6 466.4h0M163.4 466.4h0M149.8 457.8h0M159.9 474.6h0M159.5 473.4h0M156.9 469.2h0M162.7 456.2h0M157.0 430.8h0M165.9 467.7h0M157.0 472.1h0M171.2 474.4h0M160.6 478.6h0M152.0 464.6h0M153.6 475.7h0M154.1 450.4h0M159.2 463.9h0M158.3 476.5h0M151.3 475.6h0M150.7 477.0h0M161.3 471.4h0M156.4 465.4h0M161.3 478.4h0M155.1 460.0h0M149.9 468.3h0M155.0 472.9h0M151.0 469.1h0M168.3 476.0h0M169.8 477.6h0M156.4 468.5h0M161.4 445.1h0M162.1 454.4h0M156.8 471.5h0M154.9 426.7h0M165.0 476.1h0M166.5 474.0h0M151.3 419.9h0M167.2 467.9h0M162.7 475.0h0M168.8 471.9h0M165.9 470.0h0M156.2 460.9h0M155.7 428.6h0M155.4 455.8h0M165.6 470.3h0M150.8 474.3h0M156.5 478.7h0M158.2 439.6h0M153.8 469.4h0M177.9 469.6h0M155.5 468.3h0M150.5 477.1h0M158.1 450.9h0M164.0 470.2h0M157.6 469.9h0M150.0 455.1h0M160.8 471.4h0M156.0 459.5h0M152.0 476.1h0M161.6 448.7h0M169.4 469.3h0M161.4 465.8h0M156.0 465.8h0M160.4 461.2h0M168.5 472.6h0M162.0 474.3h0M158.3 475.7h0M175.1 476.0h0M165.4 477.9h0M155.0 463.8h0M168.3 478.2h0M154.2 472.4h0M152.3 469.5h0M154.3 466.9h0M150.7 470.8h0M154.4 449.8h0M155.1 426.3h0M157.5 461.3h0M150.7 464.5h0M158.8 475.8h0M161.6 466.8h0M157.0 461.4h0M160.0 475.3h0M154.3 434.3h0M155.0 429.3h0M154.4 473.7h0M153.5 431.2h0M170.7 477.8h0M153.0 469.9h0M159.0 475.4h0M152.3 477.0h0M156.6 462.0h0M151.5 431.0h0M162.5 432.7h0M155.7 474.8h0M154.1 472.5h0M154.8 464.8h0M150.4 472.3h0M158.5 468.6h0M158.1 473.7h0M161.5 451.0h0M162.2 473.4h0M161.3 472.3h0M162.7 472.4h0M177.4 477.7h0M164.4 463.7h0M158.5 477.0h0M151.3 473.6h0M162.6 467.3h0M152.6 459.0h0M153.2 471.2h0M155.6 441.8h0M152.6 470.4h0M153.9 477.7h0M155.3 476.5h0M157.1 468.5h0M154.1 472.3h0M152.3 473.6h0M150.0 474.1h0M162.5 473.0h0M161.0 477.2h0M151.7 446.0h0M161.1 457.9h0M151.9 455.4h0M153.0 437.4h0M157.5 477.7h0M159.7 447.7h0M157.1 467.7h0M169.8 477.5h0M162.0 444.9h0M154.3 476.8h0M169.3 478.0h0M152.8 466.3h0M164.7 457.0h0M171.2 468.9h0M155.6 466.8h0M162.5 472.8h0M162.5 462.4h0M153.4 450.4h0M160.9 462.8h0M156.3 471.5h0M159.0 468.1h0M160.0 470.2h0M167.7 461.0h0M154.8 478.5h0M165.5 477.6h0M154.4 460.8h0M152.5 471.3h0M167.1 462.6h0M162.0 478.3h0M160.6 469.5h0M152.1 469.2h0M154.3 460.3h0M163.8 469.5h0M159.7 475.0h0M163.9 473.7h0M163.1 474.5h0M159.9 432.5h0M167.1 469.6h0M162.8 476.8h0M159.1 476.7h0M162.7 477.5h0M177.0 478.3h0M151.7 458.8h0M154.8 458.1h0M160.2 477.8h0M166.0 469.2h0M155.3 437.5h0M155.0 467.4h0M160.8 465.7h0M154.8 451.9h0M153.1 462.7h0M162.5 462.5h0M161.0 448.0h0M157.7 471.0h0M158.3 440.6h0M151.4 467.6h0M153.7 477.1h0M153.6 474.8h0M166.6 471.8h0M157.6 466.2h0M166.4 472.6h0M155.2 472.3h0M158.4 471.5h0M158.4 472.7h0M162.6 469.3h0M153.9 473.8h0M156.9 464.8h0M163.4 463.0h0M155.6 472.2h0M151.0 461.1h0M165.7 463.3h0M163.1 470.1h0M162.1 473.2h0M156.7 468.2h0M164.2 469.5h0M152.5 469.1h0M157.9 470.9h0M162.0 477.4h0M155.5 467.4h0M153.8 477.9h0M157.9 471.7h0M154.2 472.5h0M155.1 466.4h0M154.1 460.0h0M176.5 462.4h0M162.5 470.1h0M166.7 476.7h0M153.0 464.3h0M151.3 454.2h0M162.3 467.8h0M155.3 468.0h0M158.4 450.6h0M172.6 478.4h0M151.6 468.4h0M162.8 474.6h0M156.5 478.6h0M166.9 475.9h0M158.6 477.2h0M154.1 464.4h0M159.9 466.4h0M160.7 476.7h0M169.8 474.9h0M153.3 460.8h0M164.1 472.1h0M164.8 476.2h0M150.9 476.2h0M154.5 469.4h0M159.8 474.9h0M153.1 465.4h0M162.7 432.3h0M158.8 460.5h0M153.8 473.4h0M152.1 458.8h0M160.0 452.4h0M159.9 450.9h0M151.5 450.0h0M155.5 469.9h0M161.1 475.0h0M157.3 463.2h0M153.5 460.7h0M171.5 473.4h0M158.9 473.5h0M154.7 467.7h0M162.0 476.4h0M155.1 474.1h0M153.1 478.4h0M173.9 478.4h0M157.6 478.6h0M166.0 474.0h0M160.0 477.6h0M155.0 477.4h0M159.0 477.0h0M156.4 475.1h0M169.9 472.7h0M159.1 465.8h0M166.9 469.0h0M158.2 465.3h0M170.8 475.0h0M153.7 462.0h0M158.8 473.4h0M163.5 456.8h0M150.9 473.7h0M158.7 477.8h0M152.6 475.6h0M155.6 472.7h0M154.3 464.0h0M156.2 455.9h0M156.3 474.2h0M152.7 457.0h0M170.5 474.8h0M151.0 470.2h0M160.4 447.5h0M152.8 475.1h0M152.1 476.5h0M158.0 458.3h0M158.2 465.1h0M160.8 466.8h0M161.7 473.3h0M152.9 465.6h0M151.0 467.0h0M160.8 478.4h0M161.7 470.4h0M155.2 471.0h0M155.9 477.1h0M158.0 435.7h0M152.7 429.4h0M150.7 444.4h0M165.8 465.6h0M150.5 476.7h0M165.4 460.5h0M154.4 467.9h0M165.8 467.6h0M164.3 460.0h0M163.6 472.2h0M155.4 472.4h0M156.9 476.6h0M160.6 476.7h0M158.8 462.4h0M152.4 457.3h0M157.5 476.9h0M154.8 459.4h0M155.4 476.6h0M157.2 471.3h0M162.4 472.3h0M158.2 455.2h0M154.8 463.1h0M162.1 476.6h0M154.7 472.2h0M168.5 468.6h0M150.2 446.5h0M169.6 472.1h0M154.1 472.0h0M161.0 464.6h0M156.8 466.7h0M162.4 476.3h0M154.1 476.1h0M153.1 446.3h0M155.9 442.9h0M157.8 452.4h0M155.7 475.9h0M154.6 464.8h0M156.2 468.6h0M161.1 452.5h0M156.3 473.5h0M154.4 473.8h0M156.7 460.6h0M158.7 475.9h0M160.3 476.7h0M164.6 470.2h0M168.9 476.0h0M162.5 461.3h0M161.0 465.5h0M164.9 474.7h0M151.3 447.8h0M150.9 456.4h0M164.3 478.7h0M153.8 467.3h0M162.3 461.0h0M163.0 476.5h0M155.3 475.1h0M153.6 475.7h0M150.0 446.3h0M163.8 473.7h0M164.0 469.7h0M156.4 470.2h0M153.2 475.4h0M158.5 477.6h0M170.0 478.4h0M173.8 471.7h0M158.6 464.8h0M158.8 475.2h0M150.2 473.0h0M151.2 459.3h0M165.3 476.8h0M165.9 473.6h0M160.9 465.5h0M154.2 463.7h0M155.7 453.3h0M154.3 467.0h0M149.8 470.7h0M150.8 472.7h0M157.3 473.2h0M151.4 475.9h0M156.6 474.6h0M158.2 476.2h0M163.2 443.5h0M155.4 476.4h0M152.9 467.7h0M151.0 475.2h0M154.1 471.1h0M165.1 473.3h0M163.0 477.3h0M155.9 465.1h0M157.9 477.7h0M164.4 466.5h0M163.2 463.9h0M155.8 478.5h0M165.8 478.0h0M162.5 474.2h0M152.3 473.6h0M167.1 467.0h0M166.1 473.1h0M155.7 455.1h0M160.2 477.7h0M157.5 476.5h0M150.6 471.0h0M153.1 467.4h0M159.8 478.1h0M168.7 478.5h0M156.5 420.7h0M159.3 478.5h0M152.1 467.1h0M157.6 476.4h0M165.7 472.0h0M152.9 466.9h0M163.9 473.3h0M160.6 462.3h0M151.5 476.6h0M153.9 469.3h0M158.4 477.1h0M156.3 475.2h0M158.9 471.2h0M152.0 474.1h0M172.3 477.9h0M155.4 470.9h0M150.6 475.9h0M156.6 468.8h0M161.4 464.4h0M163.4 457.3h0M159.2 463.1h0M170.6 471.9h0M170.8 474.0h0M163.5 429.5h0M156.6 467.3h0M158.8 461.1h0M154.3 474.0h0M171.3 473.9h0M153.4 453.0h0M161.2 471.9h0M151.2 474.2h0M159.3 475.6h0M175.9 471.8h0M171.8 475.5h0M154.4 473.0h0M157.1 474.3h0M165.7 471.4h0M166.9 469.2h0M159.5 475.2h0M171.5 470.7h0M149.9 472.4h0M157.5 442.5h0M165.6 451.3h0M161.7 472.9h0M153.5 465.1h0M158.5 415.9h0M154.1 470.2h0M164.6 470.7h0M162.3 475.1h0M173.0 477.6h0M159.3 478.5h0M150.8 470.2h0M164.5 472.1h0M168.5 473.0h0M153.4 449.4h0M173.0 478.2h0M151.5 476.9h0M152.8 469.8h0M160.5 467.6h0M151.0 475.5h0M169.5 471.9h0M151.3 475.1h0M157.9 461.2h0M155.4 471.1h0M165.3 469.5h0M154.1 460.0h0M164.8 472.1h0M161.4 476.7h0M152.8 466.2h0M163.6 461.8h0M152.3 476.4h0M163.0 476.5h0M162.1 471.2h0M168.9 475.8h0M165.7 471.6h0M156.7 460.3h0M169.6 470.5h0M161.3 476.1h0M167.2 472.9h0M150.8 462.5h0M160.2 472.1h0M150.7 466.7h0M155.0 460.3h0M156.9 467.2h0M163.5 471.3h0M173.4 468.4h0M155.0 456.9h0M158.9 469.3h0M153.9 467.5h0M156.3 459.8h0M156.3 463.6h0M160.9 474.5h0M155.7 470.9h0M154.2 470.4h0M157.1 477.5h0M157.0 467.5h0M154.4 441.5h0M156.0 478.4h0M159.1 478.1h0M156.0 462.8h0M153.9 451.6h0M164.0 475.5h0M157.2 454.0h0M158.1 476.0h0M164.6 474.5h0M155.4 466.5h0M175.3 478.7h0M163.7 471.1h0M160.7 453.4h0M159.1 472.3h0M161.6 478.2h0M162.6 475.3h0M154.5 438.0h0M152.7 453.2h0M164.4 465.9h0M157.5 469.9h0M155.7 475.3h0M156.6 475.8h0M152.6 461.7h0M157.0 474.0h0M156.1 463.9h0M157.4 465.7h0M162.3 478.1h0M157.2 455.7h0M153.2 476.3h0M156.0 453.2h0M162.9 474.6h0M155.8 470.2h0M151.0 469.7h0M157.8 470.3h0M151.3 463.9h0M156.8 475.1h0M150.3 473.4h0M155.0 478.0h0M158.7 469.5h0M156.2 471.1h0M155.7 475.8h0M150.7 474.2h0M160.2 461.8h0M151.3 471.3h0M151.1 472.4h0M152.2 455.0h0M160.3 464.4h0M152.0 478.4h0M150.8 469.0h0M157.4 452.4h0M157.4 460.5h0M164.9 474.0h0M157.5 467.9h0M152.4 461.5h0M165.6 471.0h0M154.9 477.8h0M168.5 475.1h0M162.0 476.2h0M152.3 469.3h0M162.3 469.7h0M157.0 474.7h0M167.2 473.7h0M159.5 476.4h0M172.9 471.2h0M156.1 470.7h0M161.3 463.8h0M158.7 475.8h0M155.3 470.3h0M152.1 459.5h0M158.8 476.5h0M162.5 475.0h0M153.9 470.0h0M150.6 470.0h0M156.8 472.0h0M163.6 473.1h0M152.4 459.6h0M165.0 476.2h0M154.0 460.7h0M152.7 472.4h0M162.0 475.5h0M155.2 455.1h0M158.9 471.0h0M152.8 476.9h0M149.9 478.3h0M153.9 470.6h0M149.8 477.3h0M156.5 475.7h0M159.4 471.4h0M161.4 474.9h0M160.4 468.4h0M155.0 464.7h0M160.4 470.8h0M155.8 473.6h0M159.7 467.3h0M167.5 472.0h0M157.9 469.9h0M158.5 478.1h0M156.2 477.4h0M167.3 467.2h0M155.4 454.0h0M162.6 473.6h0M156.0 460.1h0M169.7 470.9h0M164.0 477.1h0M172.7 471.4h0M166.3 447.1h0M155.3 474.1h0M163.1 476.4h0M154.2 469.1h0M156.9 466.4h0M156.4 473.1h0M167.7 472.4h0M163.2 476.7h0M152.6 473.3h0M164.5 472.6h0M158.8 463.7h0M159.6 470.2h0M162.5 474.6h0M154.1 466.1h0M163.0 471.7h0M156.3 457.0h0M150.8 464.7h0M154.2 476.6h0M161.2 437.6h0M167.6 469.9h0M170.1 476.3h0M163.0 470.2h0M156.8 462.7h0M159.8 478.3h0M162.5 469.3h0M149.8 463.3h0M156.0 474.2h0M162.1 466.3h0M166.4 475.1h0M163.5 476.8h0M160.5 458.8h0M162.4 450.7h0M163.5 475.8h0M162.8 470.8h0M155.3 461.0h0M152.1 461.5h0M158.7 476.7h0M156.8 474.2h0M165.5 473.8h0M157.8 459.1h0M169.4 473.3h0M150.9 470.2h0M160.1 471.5h0M162.1 465.1h0M156.6 456.7h0M164.7 473.8h0M156.3 463.7h0M151.2 457.3h0M166.3 474.6h0M158.6 471.4h0M165.4 461.3h0M167.3 465.2h0M164.4 458.0h0M157.1 468.5h0M163.5 469.6h0M169.4 469.7h0M151.6 469.9h0M162.6 474.2h0M161.1 478.4h0M163.3 463.8h0M156.1 472.4h0M159.1 428.2h0M150.8 467.2h0M165.2 469.8h0M166.0 477.9h0M165.5 476.6h0M155.8 456.0h0M155.0 437.6h0M171.2 472.1h0M156.8 446.4h0M157.6 463.0h0M166.7 478.3h0M164.9 469.6h0M155.0 472.7h0M154.4 469.6h0M160.7 460.5h0M150.7 461.5h0M158.3 468.7h0M155.7 475.7h0M164.9 468.4h0M155.9 458.6h0M151.4 471.3h0M153.6 476.2h0M162.9 453.7h0M153.0 477.5h0M170.4 472.6h0M156.4 470.8h0M164.7 478.4h0M157.2 468.1h0M164.2 474.3h0M161.4 463.4h0M150.7 445.4h0M150.0 459.4h0M161.3 470.2h0M156.2 467.0h0M156.2 467.3h0M155.3 476.7h0M150.8 476.9h0M163.2 474.9h0M153.7 463.4h0M158.7 464.0h0M151.8 456.1h0M181.9 477.7h0M158.4 473.8h0M150.2 461.8h0M150.6 463.3h0M151.3 472.1h0M151.9 466.0h0M157.5 475.8h0M151.3 474.3h0M168.8 466.7h0M158.3 469.4h0M164.8 467.0h0M159.0 476.9h0M166.1 475.1h0M150.6 470.0h0M161.2 452.5h0M155.6 473.4h0M152.7 470.4h0M154.8 463.6h0M153.5 452.6h0M151.3 471.7h0M157.6 470.3h0M161.7 463.1h0M156.1 445.4h0M153.7 397.7h0M166.0 466.3h0M164.8 473.7h0M159.4 477.4h0M158.5 469.5h0M149.9 468.2h0M154.8 464.3h0M158.4 465.3h0M163.9 463.2h0M157.5 476.4h0M152.0 456.9h0M162.5 463.8h0M170.6 457.7h0M161.2 470.0h0M152.0 454.4h0M151.4 476.2h0M160.4 462.8h0M150.2 453.3h0M150.6 475.6h0M155.7 428.2h0M153.5 477.5h0M158.7 469.6h0M157.5 461.9h0M155.3 459.3h0M174.0 478.1h0M152.8 429.5h0M168.4 474.9h0M155.5 476.1h0M152.2 466.4h0M154.3 424.0h0M152.3 469.4h0M162.8 477.1h0M168.0 469.1h0M156.2 463.8h0M160.8 472.8h0M166.4 471.3h0M163.6 462.2h0M166.3 473.8h0M158.5 473.2h0M154.5 469.5h0M158.9 470.8h0M152.9 477.8h0M154.5 471.8h0M161.8 438.8h0M158.2 473.8h0M160.1 469.4h0M164.4 460.5h0M169.2 468.5h0M160.7 459.5h0M169.8 466.5h0M164.3 476.0h0M158.1 472.6h0M170.0 451.9h0M159.9 432.6h0M151.8 439.7h0M158.5 470.2h0M155.6 475.2h0M151.2 447.3h0M151.5 476.6h0M152.2 471.2h0M154.0 467.8h0M151.0 476.6h0M154.9 478.8h0M159.5 452.8h0M162.1 464.6h0M154.8 474.3h0M150.3 471.8h0M157.8 469.2h0M153.7 475.4h0M162.9 457.5h0M155.4 460.7h0M156.3 451.0h0M167.6 466.1h0M162.1 460.3h0M158.0 467.7h0M150.0 472.8h0M158.4 447.8h0M154.6 450.0h0M161.1 455.6h0M154.7 465.5h0M166.0 475.7h0M164.5 477.1h0M154.4 461.5h0M163.1 475.9h0M162.5 463.6h0M154.1 470.1h0M151.0 465.8h0M153.7 463.5h0M156.6 444.0h0M166.7 478.0h0M157.2 460.2h0M163.8 458.6h0M158.9 465.6h0M165.6 471.6h0M161.5 458.1h0M158.6 467.1h0M156.6 475.6h0M167.5 474.1h0M156.5 468.0h0M169.8 472.2h0M159.1 470.6h0M169.4 474.3h0M152.1 476.7h0M151.2 471.9h0M150.4 464.9h0M161.7 458.6h0M153.7 469.3h0M155.1 463.5h0M153.6 478.3h0M153.9 458.7h0M171.3 465.3h0M159.7 469.7h0M156.4 477.1h0M154.8 476.5h0M154.5 469.6h0M178.5 464.6h0M152.5 459.5h0M151.1 468.5h0M154.5 471.1h0M166.3 478.6h0M153.3 476.4h0M158.1 470.9h0M154.7 471.7h0M169.8 472.1h0M151.9 453.3h0M164.9 469.4h0M152.9 458.0h0M160.8 469.8h0M156.7 474.9h0M160.5 462.7h0M158.9 451.9h0M157.7 469.8h0M162.4 478.0h0M165.6 475.1h0M173.0 478.3h0M159.0 450.3h0M150.8 469.7h0M162.0 476.2h0M159.4 457.0h0M157.1 473.4h0M164.3 478.0h0M166.6 475.2h0M152.1 446.7h0M153.6 469.4h0M166.6 470.8h0M157.8 470.2h0M159.7 435.7h0M154.0 473.1h0M152.0 470.9h0M156.9 457.0h0M162.2 463.5h0M158.7 474.6h0M150.7 469.2h0M168.4 462.6h0M161.8 475.6h0M153.9 477.6h0M154.0 466.9h0M153.1 477.0h0M153.8 471.8h0M162.9 473.1h0M159.3 476.5h0M159.1 476.4h0M160.7 471.8h0M161.0 475.9h0M155.4 474.4h0M166.4 471.1h0M167.5 430.9h0M151.7 455.2h0M157.5 457.5h0M171.8 473.0h0M150.3 476.3h0M151.4 476.0h0M157.5 468.7h0M170.1 470.9h0M153.8 472.3h0M154.2 470.6h0M157.7 473.2h0M160.9 469.2h0M165.1 464.9h0M165.9 473.8h0M154.5 459.8h0M159.6 465.5h0M152.2 468.9h0M150.8 478.7h0M150.1 469.2h0M151.5 464.4h0M177.4 475.9h0M171.3 476.1h0M154.8 478.4h0M163.3 472.5h0M153.0 462.2h0M156.5 474.1h0M152.6 474.5h0M151.3 469.7h0M160.3 478.6h0M161.2 457.2h0M155.2 461.6h0M152.5 468.1h0M155.8 477.5h0M165.9 469.3h0M164.3 476.3h0M157.4 461.2h0M170.6 462.4h0M163.4 465.6h0M151.0 472.9h0M151.4 471.3h0M167.7 473.4h0M154.7 465.9h0M162.3 474.9h0M154.1 478.0h0M153.8 472.3h0M159.4 460.0h0M162.5 476.4h0M158.5 456.3h0M155.6 453.7h0M162.8 476.2h0M151.6 461.5h0M157.6 471.7h0M152.1 456.3h0M172.2 447.2h0M168.6 466.7h0M172.0 457.3h0M165.3 461.9h0M167.1 464.2h0M166.8 467.9h0M184.5 439.6h0M176.2 444.8h0M162.6 452.7h0M185.1 463.3h0M163.9 458.1h0M164.1 466.6h0M173.9 453.0h0M170.1 465.5h0M167.7 458.4h0M176.7 462.4h0M164.4 463.3h0M178.3 463.6h0M165.4 466.5h0M168.8 464.8h0M165.3 462.1h0M174.6 460.9h0M171.8 456.3h0M206.4 443.7h0M204.0 436.7h0M163.0 455.7h0M187.1 450.6h0M182.0 437.5h0M197.0 443.6h0M166.0 462.4h0M180.9 459.4h0M168.9 454.5h0M185.3 450.5h0M167.5 445.8h0M172.7 453.6h0M164.8 440.0h0M176.5 453.7h0M170.8 419.4h0M185.0 461.7h0M169.1 458.7h0M165.4 444.1h0M165.7 453.8h0M166.8 466.7h0M191.4 459.9h0M179.2 444.5h0M178.7 464.6h0M174.7 452.0h0M165.0 439.4h0M175.8 459.9h0M173.4 464.2h0M178.0 455.3h0M171.1 464.9h0M171.0 464.2h0M169.9 460.2h0M169.3 460.7h0M168.7 464.6h0M164.2 455.1h0M176.7 457.7h0M162.0 459.7h0M174.7 433.1h0M174.4 461.6h0M163.5 452.9h0M173.8 447.9h0M168.9 458.6h0M184.1 463.4h0M166.9 448.7h0M166.6 469.0h0M179.6 454.1h0M186.7 454.7h0M164.7 462.7h0M167.1 463.3h0M170.4 460.4h0M168.4 450.4h0M177.0 463.9h0M196.6 439.3h0M166.4 465.1h0M175.6 457.3h0M169.3 464.7h0M168.9 461.1h0M172.4 459.0h0M170.0 460.6h0M171.5 452.9h0M169.7 464.9h0M190.1 457.3h0M170.9 457.1h0M185.4 448.0h0M163.4 462.1h0M161.4 462.5h0M170.6 462.4h0M168.8 468.6h0M167.7 456.5h0M165.6 446.3h0M167.5 460.1h0M168.0 466.4h0M170.6 461.0h0M176.6 462.0h0M167.8 457.7h0M193.0 453.4h0M165.9 463.3h0M162.7 461.7h0M170.4 450.8h0M166.7 465.1h0M187.2 463.5h0M164.2 468.7h0M185.7 448.8h0M168.6 452.5h0M163.2 467.0h0M163.3 465.5h0M181.2 462.1h0M202.7 432.5h0M170.2 463.8h0M210.4 448.6h0M175.4 462.9h0M198.6 456.8h0M165.1 454.8h0M167.6 451.4h0M170.2 461.1h0M178.8 460.8h0M165.8 465.6h0M167.9 445.4h0M166.2 464.8h0M166.9 461.6h0M178.1 458.9h0M163.1 441.8h0M169.6 453.3h0M170.7 463.8h0M177.6 460.5h0M178.7 465.0h0M167.4 456.2h0M202.2 445.1h0M162.4 466.8h0M169.8 447.1h0M179.3 463.4h0M163.7 456.4h0M173.6 454.5h0M189.2 453.8h0M191.7 442.7h0M182.7 447.3h0M170.9 460.1h0M163.0 467.8h0M172.9 462.6h0M191.8 446.3h0M170.5 455.8h0M165.2 456.4h0M166.4 431.9h0M166.7 463.2h0M194.6 455.1h0M180.3 457.1h0M174.5 464.7h0M164.9 469.4h0M187.4 457.9h0M162.9 463.3h0M179.9 442.9h0M165.3 455.3h0M170.6 461.6h0M172.0 458.0h0M167.6 459.5h0M162.8 457.5h0M168.2 463.9h0M171.0 430.3h0M178.2 430.5h0M184.0 460.1h0M169.3 457.9h0M173.9 463.6h0M167.6 465.5h0M216.4 450.4h0M174.5 463.0h0M162.1 463.2h0M168.8 469.1h0M189.3 443.8h0M171.2 459.5h0M163.4 462.0h0M172.3 462.7h0M178.8 464.2h0M169.2 462.2h0M162.1 464.7h0M179.9 464.5h0M167.4 446.1h0M167.6 457.6h0M163.3 460.9h0M207.1 451.6h0M165.8 456.9h0M168.2 436.1h0M166.7 467.3h0M177.4 465.9h0M170.8 443.7h0M171.8 466.9h0M183.1 449.2h0M186.1 440.9h0M166.6 451.5h0M166.8 452.6h0M176.5 436.2h0M169.3 452.1h0M167.5 461.2h0M165.5 459.7h0M166.3 453.9h0M201.6 442.9h0M176.8 447.4h0M170.8 448.9h0M169.5 447.0h0M164.4 463.2h0M166.6 451.0h0M174.1 465.8h0M182.5 457.9h0M161.6 460.1h0M174.3 442.4h0M162.4 459.9h0M173.7 460.7h0M163.8 454.8h0M169.2 459.2h0M173.5 464.0h0M162.6 456.4h0M170.8 467.1h0M162.0 457.3h0M162.9 468.8h0M173.6 453.1h0M189.1 456.2h0M162.5 469.4h0M164.2 468.1h0M173.1 456.6h0M168.3 464.1h0M167.7 464.2h0M167.4 468.4h0M170.6 459.3h0M189.7 457.9h0M162.8 453.6h0M163.4 454.6h0M163.6 466.3h0M165.7 456.8h0M164.0 469.2h0M167.4 466.5h0M174.8 462.9h0M174.4 461.3h0M162.2 456.8h0M181.8 459.7h0M167.8 468.1h0M173.4 456.7h0M166.8 465.8h0M174.6 463.2h0M174.9 460.7h0M184.9 443.2h0M175.6 435.2h0M184.4 432.3h0M192.8 431.1h0M170.0 452.3h0M165.3 432.8h0M169.8 444.2h0M172.8 428.7h0M192.5 397.0h0M162.7 435.2h0M189.8 443.5h0M168.6 432.9h0M184.7 424.0h0M173.1 435.6h0M164.8 436.1h0M195.2 430.1h0M193.8 420.1h0M175.7 448.4h0M182.4 446.5h0M181.4 436.7h0M163.3 445.4h0M212.1 435.9h0M174.9 432.9h0M177.6 444.9h0M213.6 444.1h0M167.1 441.7h0M211.9 437.0h0M88.5 367.7h0M92.1 376.9h0M80.2 391.3h0M95.8 395.0h0M126.3 405.8h0M89.8 412.1h0M100.4 415.4h0M101.7 421.5h0M105.6 424.4h0M86.0 424.0h0M92.1 425.4h0M113.3 426.0h0M96.5 428.7h0" stroke="#c4c4c9" stroke-width="1.3" stroke-linecap="round" fill="none"/>
<path d="M137.9 672.4h0M131.9 686.6h0M139.3 670.5h0M144.2 688.1h0M130.4 689.6h0M124.6 689.8h0M144.2 689.4h0M132.7 681.4h0M119.9 689.8h0M141.4 688.1h0M143.4 687.6h0M143.2 683.1h0M147.5 684.5h0M145.1 669.7h0M127.8 686.4h0M141.6 670.8h0M135.3 684.2h0M135.9 689.9h0M135.6 686.8h0M130.7 689.1h0M134.3 689.8h0M128.4 686.4h0M131.2 687.6h0M136.9 681.0h0M137.4 687.6h0M143.3 666.4h0M135.8 690.3h0M138.8 689.6h0M147.3 681.7h0M146.2 687.0h0M126.8 684.9h0M141.4 685.3h0M119.9 688.9h0M141.0 669.5h0M141.2 671.1h0M133.7 688.4h0M145.2 682.7h0M136.9 678.1h0M121.4 681.1h0M137.2 684.2h0M140.8 690.1h0M127.7 683.2h0M148.2 684.8h0M144.1 679.2h0M134.1 688.5h0M142.3 686.2h0M147.7 685.7h0M137.6 684.9h0M137.0 664.9h0M132.6 689.9h0M143.0 681.9h0M143.6 686.5h0M146.4 684.7h0M137.2 686.7h0M131.5 682.1h0M135.0 676.7h0M132.0 686.9h0M130.3 687.5h0M139.2 671.7h0M148.1 675.2h0M140.6 679.9h0M147.0 685.8h0M138.2 683.1h0M129.6 688.9h0M133.6 676.9h0M146.5 684.2h0M135.4 687.1h0M130.0 689.7h0M141.6 683.9h0M141.3 644.7h0M135.6 687.0h0M132.8 688.0h0M138.7 685.2h0M137.0 688.6h0M133.3 680.2h0M141.9 674.3h0M145.3 683.2h0M145.9 671.2h0M131.3 684.0h0M144.2 676.5h0M137.5 690.3h0M143.5 688.5h0M126.6 688.2h0M143.2 681.1h0M139.5 678.3h0M148.5 687.2h0M125.8 687.7h0M141.0 675.9h0M133.9 681.6h0M139.4 654.2h0M144.1 648.1h0M133.0 681.9h0M147.1 684.9h0M147.0 684.4h0M132.6 686.7h0M132.5 688.9h0M143.2 678.6h0M143.6 677.6h0M142.7 680.1h0M132.6 687.9h0M137.8 683.7h0M132.8 685.3h0M147.7 686.9h0M133.9 687.8h0M143.0 686.5h0M124.4 682.8h0M147.8 682.9h0M144.8 670.4h0M139.1 667.6h0M129.8 677.7h0M141.5 683.1h0M147.3 685.8h0M142.1 685.0h0M138.4 688.3h0M146.8 678.1h0M133.3 688.2h0M128.3 686.1h0M128.0 682.7h0M147.3 686.7h0M136.5 675.6h0M142.0 652.3h0M145.3 690.0h0M146.8 684.8h0M123.5 685.6h0M131.1 659.7h0M143.0 660.4h0M138.2 659.1h0M131.5 681.5h0M147.1 676.1h0M140.6 675.8h0M136.5 687.5h0M125.3 688.5h0M143.4 677.9h0M145.5 667.8h0M139.8 664.6h0M146.6 677.1h0M131.9 684.0h0M134.5 678.6h0M144.3 685.1h0M146.6 687.4h0M136.9 687.5h0M140.6 655.5h0M125.5 686.0h0M140.0 672.6h0M138.2 680.7h0M134.3 673.6h0M137.7 671.7h0M135.3 682.1h0M131.7 687.7h0M134.6 685.0h0M129.5 676.9h0M147.3 687.6h0M136.5 673.8h0M144.6 685.0h0M141.1 687.5h0M141.0 688.8h0M147.8 680.3h0M130.3 686.9h0M141.2 686.1h0M140.0 687.6h0M136.5 672.7h0M124.8 689.4h0M135.8 682.3h0M138.6 685.1h0M137.1 682.0h0M134.4 689.0h0M148.4 686.4h0M138.2 684.4h0M140.8 685.8h0M140.9 688.3h0M126.7 688.8h0M140.6 681.9h0M128.6 645.4h0M134.6 671.9h0M135.8 686.2h0M140.6 686.5h0M139.7 671.3h0M132.7 673.4h0M144.0 682.1h0M140.3 684.8h0M140.2 683.0h0M142.4 688.2h0M138.9 681.1h0M139.9 684.9h0M133.1 688.4h0M134.4 670.4h0M134.6 686.8h0M127.4 672.3h0M141.1 688.8h0M128.6 674.0h0M142.1 680.8h0M135.6 682.6h0M131.1 688.4h0M137.6 680.9h0M137.9 667.1h0M145.4 687.9h0M142.6 635.0h0M138.2 662.2h0M145.5 679.5h0M147.4 677.3h0M126.6 687.1h0M145.0 686.7h0M142.0 687.3h0M134.8 686.9h0M130.6 684.5h0M134.4 684.7h0M128.6 683.6h0M118.8 690.4h0M123.8 680.7h0M127.7 684.9h0M136.6 674.4h0M133.0 680.2h0M147.4 687.7h0M123.5 689.5h0M133.1 682.8h0M143.6 689.4h0M136.4 688.6h0M144.1 678.6h0M144.9 687.1h0M134.8 681.1h0M142.4 662.6h0M138.8 678.5h0M147.7 669.5h0M143.8 688.4h0M135.1 686.9h0M148.2 682.6h0M132.9 681.5h0M142.3 679.6h0M141.5 690.2h0M135.4 676.8h0M141.2 676.4h0M143.3 687.5h0M147.3 664.3h0M132.3 688.9h0M146.1 683.8h0M125.2 677.2h0M134.7 688.3h0M135.2 683.5h0M144.8 688.2h0M137.9 666.0h0M125.4 683.5h0M137.4 677.1h0M143.0 685.9h0M145.1 685.1h0M129.4 688.4h0M147.8 686.3h0M140.0 687.8h0M135.5 677.8h0M140.2 688.3h0M138.2 666.1h0M147.6 663.7h0M145.0 670.2h0M125.5 683.6h0M146.7 677.5h0M138.1 681.1h0M145.2 684.8h0M147.0 688.5h0M138.2 687.6h0M147.5 677.8h0M130.8 687.6h0M134.0 670.8h0M142.7 686.6h0M137.9 688.6h0M144.6 682.3h0M135.2 686.9h0M146.7 679.6h0M134.2 679.6h0M146.5 688.4h0M134.4 686.9h0M138.3 685.1h0M129.4 685.1h0M146.3 667.5h0M146.1 689.9h0M135.6 688.9h0M147.2 663.2h0M133.4 683.2h0M147.3 681.5h0M140.3 684.1h0M141.4 681.3h0M139.4 679.1h0M124.3 685.2h0M128.0 686.6h0M134.8 678.8h0M142.5 679.3h0M140.9 675.6h0M146.4 678.8h0M127.3 685.7h0M145.7 680.8h0M147.3 677.2h0M145.2 680.9h0M144.5 680.7h0M141.6 653.0h0M142.4 682.2h0M140.7 677.6h0M140.6 683.8h0M140.7 685.2h0M146.8 686.0h0M142.6 684.3h0M143.2 684.4h0M139.0 681.6h0M142.7 666.5h0M123.7 689.5h0M132.9 682.8h0M137.2 675.9h0M132.6 689.6h0M136.2 675.0h0M138.2 683.7h0M146.0 668.4h0M145.8 688.2h0M134.9 670.4h0M143.0 689.7h0M132.6 681.3h0M133.5 685.4h0M138.5 686.4h0M146.0 686.4h0M122.8 689.0h0M147.7 688.6h0M139.5 681.6h0M143.4 681.0h0M137.0 687.3h0M127.1 687.1h0M140.0 657.4h0M147.3 685.1h0M147.3 681.3h0M140.5 675.1h0M147.2 687.6h0M136.4 688.0h0M146.0 683.4h0M135.6 683.5h0M130.9 688.7h0M143.9 688.2h0M130.3 685.3h0M131.8 683.4h0M140.5 664.1h0M135.0 680.3h0M139.8 660.8h0M142.2 689.1h0M133.7 680.8h0M136.1 686.5h0M139.6 680.1h0M128.9 679.1h0M148.3 686.9h0M134.5 683.9h0M142.3 681.3h0M134.7 687.5h0M127.8 683.2h0M138.3 686.0h0M148.1 675.3h0M135.0 674.7h0M127.7 689.8h0M142.5 678.3h0M146.0 670.7h0M127.5 689.7h0M142.9 681.3h0M136.8 688.5h0M147.5 686.5h0M141.9 681.2h0M124.4 688.7h0M136.6 671.9h0M127.7 687.6h0M138.1 689.6h0M139.3 680.4h0M143.9 689.3h0M141.4 685.9h0M144.4 685.9h0M134.7 684.8h0M135.4 679.8h0M136.8 656.3h0M138.8 669.8h0M132.9 683.7h0M131.5 687.6h0M126.8 647.5h0M120.9 685.2h0M135.9 682.2h0M127.4 688.3h0M135.7 687.2h0M145.2 660.0h0M134.5 673.9h0M143.0 685.8h0M146.7 670.9h0M136.9 660.1h0M134.5 679.0h0M140.4 686.0h0M145.7 679.3h0M142.3 686.7h0M140.8 686.2h0M137.8 675.2h0M137.3 685.0h0M142.0 686.9h0M137.4 688.7h0M141.2 683.8h0M128.9 686.4h0M144.0 647.8h0M143.8 683.1h0M135.6 690.0h0M137.0 665.6h0M131.3 685.0h0M142.1 683.8h0M135.8 683.9h0M129.7 682.0h0M142.2 688.7h0M145.7 687.5h0M142.3 687.1h0M140.2 687.6h0M138.2 679.0h0M142.2 674.8h0M147.4 682.2h0M130.1 684.5h0M133.0 685.4h0M135.1 682.5h0M135.9 689.8h0M147.1 687.1h0M127.9 688.9h0M131.2 687.2h0M129.7 670.6h0M139.4 688.4h0M133.4 686.8h0M143.9 666.5h0M137.1 687.8h0M144.7 689.2h0M139.8 686.6h0M148.1 684.8h0M133.5 673.9h0M137.4 688.7h0M145.5 685.0h0M139.9 688.5h0M136.6 680.2h0M142.1 687.3h0M135.9 680.3h0M130.8 689.2h0M142.8 679.1h0M140.9 684.3h0M138.5 666.2h0M140.9 669.6h0M146.3 689.2h0M127.0 677.6h0M133.5 683.8h0M127.6 686.9h0M147.3 688.0h0M143.7 686.0h0M146.9 688.1h0M136.7 676.3h0M137.5 670.9h0M132.3 686.2h0M142.5 617.0h0M133.3 684.3h0M138.0 672.4h0M125.4 682.0h0M147.6 690.3h0M135.7 683.2h0M139.3 689.3h0M137.2 686.0h0M130.6 685.5h0M141.6 686.5h0M144.3 685.8h0M139.4 685.5h0M143.9 690.4h0M136.7 687.8h0M130.6 687.6h0M144.2 689.3h0M144.7 688.7h0M138.9 686.3h0M137.4 668.5h0M131.0 685.2h0M124.6 686.6h0M137.6 688.3h0M140.1 681.4h0M142.7 687.1h0M141.1 687.4h0M131.0 689.8h0M123.5 689.9h0M132.0 684.5h0M146.7 678.2h0M140.8 689.1h0M146.1 687.3h0M138.1 677.0h0M142.3 681.8h0M125.1 676.9h0M140.3 661.4h0M132.7 685.4h0M138.5 689.8h0M143.2 683.7h0M138.0 672.1h0M139.3 682.9h0M124.8 689.3h0M137.0 680.0h0M134.3 680.9h0M141.4 685.3h0M137.3 679.7h0M132.7 687.3h0M136.7 688.2h0M140.1 669.2h0M138.0 668.4h0M136.1 684.6h0M129.2 664.9h0M129.3 680.2h0M138.1 688.8h0M134.9 685.8h0M144.6 669.0h0M129.7 680.6h0M138.3 688.6h0M136.6 651.2h0M135.3 684.0h0M127.3 683.0h0M141.5 688.4h0M133.1 681.4h0M142.5 673.2h0M140.0 687.8h0M147.7 676.7h0M121.3 685.2h0M139.9 686.7h0M129.9 684.1h0M147.4 688.9h0M139.0 671.0h0M146.1 685.0h0M136.1 684.4h0M137.7 687.0h0M137.5 688.5h0M132.0 689.4h0M133.0 676.9h0M148.4 679.1h0M129.6 688.1h0M137.1 687.3h0M128.3 671.6h0M143.7 686.2h0M136.7 679.3h0M142.2 681.0h0M145.9 687.6h0M137.7 679.5h0M139.0 681.4h0M136.4 683.1h0M126.3 690.0h0M139.9 688.5h0M145.7 682.5h0M148.4 686.8h0M131.3 675.1h0M144.3 687.0h0M143.7 682.0h0M144.0 682.1h0M129.5 689.4h0M132.9 688.8h0M130.5 686.2h0M130.1 686.3h0M125.7 685.1h0M144.5 660.4h0M142.1 673.8h0M132.4 685.6h0M144.7 684.1h0M145.3 676.8h0M137.4 681.7h0M140.7 689.0h0M143.3 674.6h0M132.1 677.0h0M138.7 678.6h0M125.0 682.5h0M137.7 682.9h0M147.7 688.2h0M139.2 672.0h0M146.7 685.5h0M134.7 685.9h0M135.6 687.7h0M144.2 671.3h0M128.0 687.5h0M144.2 684.9h0M133.8 685.2h0M139.4 670.7h0M126.2 688.2h0M140.8 689.0h0M136.9 688.5h0M144.7 665.3h0M146.2 687.3h0M127.9 688.3h0M139.2 689.5h0M146.9 673.5h0M135.3 682.1h0M136.4 672.9h0M136.6 680.6h0M145.1 689.4h0M135.9 687.1h0M147.5 687.4h0M136.5 689.9h0M133.3 670.4h0M140.4 689.4h0M142.1 685.1h0M137.9 678.7h0M132.8 674.2h0M141.9 679.0h0M146.2 660.7h0M137.4 681.6h0M144.1 686.9h0M139.7 667.9h0M136.1 669.2h0M146.3 682.8h0M146.9 682.5h0M148.2 688.2h0M137.0 667.0h0M132.0 684.5h0M133.1 678.6h0M135.9 687.6h0M118.9 689.3h0M120.7 684.0h0M146.7 661.9h0M142.9 670.3h0M136.4 663.9h0M148.1 681.6h0M128.3 686.7h0M143.7 680.8h0M143.9 675.7h0M132.8 670.3h0M137.8 674.9h0M144.4 687.7h0M135.3 686.4h0M140.1 686.0h0M135.8 675.9h0M139.8 665.4h0M142.1 682.7h0M140.7 681.9h0M138.1 673.7h0M133.4 683.8h0M142.3 682.9h0M146.1 680.8h0M133.2 676.7h0M126.4 677.6h0M129.9 690.5h0M143.0 671.7h0M135.8 667.9h0M131.1 688.8h0M133.1 679.5h0M129.8 685.4h0M143.6 656.6h0M144.1 685.9h0M138.6 664.9h0M127.3 687.0h0M119.7 682.1h0M130.6 675.5h0M140.1 684.5h0M131.3 687.1h0M142.6 681.2h0M137.0 674.5h0M137.2 688.5h0M138.6 676.2h0M131.4 687.0h0M138.5 683.0h0M137.5 688.7h0M140.0 684.9h0M136.9 682.1h0M144.2 685.5h0M128.9 687.0h0M139.9 680.8h0M140.9 690.2h0M141.3 678.3h0M138.9 661.2h0M135.5 671.7h0M143.0 674.2h0M143.1 671.6h0M140.6 654.7h0M134.4 678.8h0M135.3 687.6h0M139.5 674.9h0M138.6 686.9h0M141.5 689.4h0M131.8 681.0h0M121.7 687.5h0M138.7 683.0h0M134.5 679.9h0M141.3 686.3h0M134.9 661.7h0M148.3 688.3h0M131.6 673.6h0M142.8 690.2h0M142.6 678.7h0M146.2 685.7h0M144.3 686.0h0M132.4 687.3h0M142.8 682.5h0M125.7 682.3h0M137.6 649.2h0M138.9 688.5h0M128.5 682.2h0M138.5 683.5h0M136.6 686.0h0M137.5 677.1h0M138.1 682.0h0M142.7 685.9h0M137.1 674.8h0M139.2 686.9h0M144.1 684.7h0M143.3 651.2h0M134.7 683.6h0M147.0 687.7h0M137.8 672.0h0M125.0 688.6h0M137.5 658.1h0M146.7 675.5h0M135.9 683.7h0M137.3 687.4h0M142.4 674.6h0M135.5 680.1h0M137.9 683.7h0M136.3 687.1h0M144.5 671.7h0M140.8 690.5h0M124.6 688.8h0M123.9 687.0h0M125.4 684.7h0M142.0 681.8h0M145.8 689.5h0M129.4 682.1h0M141.9 678.2h0M146.9 684.1h0M137.7 689.5h0M129.6 688.7h0M131.2 687.2h0M145.7 660.7h0M133.5 677.5h0M142.3 685.8h0M143.5 682.2h0M129.4 687.8h0M145.0 687.8h0M139.0 687.3h0M129.1 676.0h0M132.3 685.2h0M134.7 679.6h0M137.7 666.4h0M146.2 684.2h0M137.8 678.5h0M140.6 677.0h0M139.5 689.5h0M134.5 671.9h0M142.9 671.5h0M133.9 681.8h0M123.4 689.1h0M137.7 682.6h0M130.7 688.0h0M143.6 685.8h0M119.4 684.7h0M134.4 687.8h0M140.2 654.8h0M144.5 677.3h0M134.0 689.9h0M146.6 677.5h0M142.1 686.3h0M137.1 670.0h0M147.1 685.8h0M125.2 688.7h0M142.8 673.9h0M145.2 685.7h0M119.8 689.5h0M143.3 689.8h0M133.2 679.8h0M143.1 686.6h0M145.2 686.1h0M134.7 678.3h0M147.9 688.4h0M139.9 678.1h0M136.4 687.7h0M130.0 666.8h0M134.5 669.5h0M145.0 661.9h0M138.8 678.2h0M143.2 685.6h0M135.7 681.8h0M142.1 687.3h0M138.5 690.2h0M144.2 690.1h0M144.3 676.0h0M146.6 684.8h0M146.0 682.2h0M139.4 689.0h0M132.6 687.2h0M136.7 667.4h0M144.9 661.0h0M137.7 686.4h0M140.1 687.3h0M139.8 686.6h0M139.7 685.3h0M143.1 680.8h0M137.3 685.7h0M142.4 673.9h0M136.1 683.7h0M146.2 681.7h0M136.5 680.1h0M137.4 679.9h0M127.4 687.7h0M145.0 682.9h0M129.7 688.9h0M146.6 687.0h0M136.1 680.7h0M135.0 666.4h0M137.2 686.2h0M144.4 688.3h0M123.3 686.0h0M137.4 685.7h0M135.0 683.3h0M143.5 677.2h0M139.7 683.1h0M134.9 675.8h0M143.3 660.7h0M142.1 680.4h0M145.2 684.7h0M144.8 674.6h0M140.7 689.1h0M139.9 688.9h0M131.7 678.9h0M146.9 676.2h0M140.8 678.8h0M131.6 690.1h0M141.7 686.0h0M141.6 683.1h0M147.1 680.2h0M128.3 690.3h0M124.5 684.9h0M146.8 689.8h0M141.0 668.9h0M144.6 684.4h0M137.9 673.5h0M129.8 684.3h0M146.4 680.9h0M127.7 678.7h0M133.8 688.4h0M138.3 672.9h0M131.9 688.7h0M139.7 668.7h0M130.2 681.0h0M133.2 686.6h0M136.0 690.3h0M130.1 669.4h0M121.5 686.5h0M139.6 680.2h0M131.5 689.6h0M141.6 683.7h0M137.3 676.6h0M143.8 684.8h0M148.4 685.1h0M140.3 687.0h0M129.2 690.0h0M143.0 674.1h0M134.2 646.0h0M146.6 678.3h0M138.0 678.6h0M148.2 681.2h0M131.3 683.8h0M136.0 666.8h0M145.5 669.7h0M139.0 689.9h0M140.3 690.0h0M130.6 687.7h0M131.5 685.0h0M138.6 689.7h0M144.4 687.4h0M135.0 677.5h0M147.9 681.8h0M138.9 681.2h0M133.0 675.7h0M137.7 684.1h0M133.9 689.6h0M124.3 687.8h0M142.0 678.9h0M142.6 690.2h0M136.7 688.0h0M133.6 687.8h0M133.2 677.8h0M133.3 689.4h0M137.8 668.2h0M136.6 681.6h0M125.3 689.3h0M137.5 688.2h0M147.5 689.1h0M125.4 681.7h0M138.1 667.0h0M147.4 689.8h0M135.2 689.3h0M135.4 666.3h0M141.3 680.0h0M128.2 683.1h0M142.6 673.7h0M135.1 683.1h0M137.1 679.8h0M141.2 680.2h0M137.8 684.1h0M144.6 681.4h0M133.1 680.1h0M147.1 689.3h0M137.6 671.0h0M138.4 680.4h0M146.7 669.0h0M145.6 682.8h0M139.3 690.2h0M143.8 675.9h0M124.9 680.7h0M133.9 682.6h0M136.7 681.8h0M127.7 689.1h0M136.1 687.4h0M145.1 674.3h0M140.3 686.4h0M129.8 688.5h0M144.3 681.6h0M142.4 682.9h0M147.0 688.7h0M127.1 683.2h0M140.9 686.2h0M146.5 684.0h0M145.8 690.1h0M139.1 681.2h0M133.5 661.7h0M135.8 679.6h0M147.3 678.7h0M134.5 681.5h0M141.7 677.9h0M145.3 685.2h0M141.1 674.1h0M145.0 682.3h0M139.8 672.2h0M137.3 687.3h0M142.2 679.5h0M133.9 681.8h0M129.5 683.5h0M137.0 684.8h0M136.6 665.4h0M133.7 680.3h0M122.5 686.1h0M135.5 687.0h0M140.6 689.6h0M139.0 673.1h0M136.3 685.8h0M140.6 674.3h0M131.7 664.5h0M140.4 680.0h0M142.0 683.9h0M143.5 680.3h0M136.0 666.7h0M136.6 664.6h0M130.7 685.3h0M135.3 663.5h0M138.4 688.9h0M145.5 689.2h0M123.3 687.5h0M137.9 684.1h0M139.1 687.2h0M138.8 683.2h0M130.3 690.1h0M143.3 689.0h0M129.2 681.2h0M134.6 682.6h0M142.8 678.2h0M134.9 688.0h0M147.1 681.2h0M142.1 680.7h0M131.9 672.0h0M143.6 687.1h0M126.9 671.6h0M144.1 680.1h0M144.1 689.2h0M139.1 690.3h0M137.2 646.9h0M134.4 690.1h0M130.8 686.7h0M140.7 673.9h0M131.6 685.0h0M137.6 684.8h0M144.6 659.7h0M146.6 686.5h0M145.9 687.8h0M146.1 676.6h0M147.6 683.2h0M125.2 674.1h0M133.0 683.1h0M139.6 669.3h0M140.5 680.5h0M138.3 681.3h0M134.2 673.5h0M143.1 681.3h0M133.7 689.7h0M148.2 686.0h0M138.7 688.1h0M145.8 662.0h0M148.5 690.4h0M134.8 662.3h0M132.0 684.1h0M143.9 677.8h0M140.0 676.3h0M134.9 689.9h0M136.7 685.2h0M137.3 684.0h0M132.3 671.4h0M146.1 687.9h0M141.8 682.2h0M131.2 687.2h0M130.3 683.8h0M146.8 669.5h0M137.5 679.7h0M132.3 683.0h0M139.6 681.0h0M143.9 681.9h0M140.9 682.2h0M140.5 674.0h0M148.3 687.4h0M141.8 685.7h0M136.9 684.8h0M138.2 688.5h0M141.6 688.9h0M145.4 689.9h0M141.3 660.3h0M147.4 670.7h0M123.7 686.8h0M127.6 686.5h0M129.8 679.4h0M146.9 687.6h0M145.0 675.7h0M140.2 680.2h0M146.3 688.7h0M145.1 686.1h0M139.3 690.3h0M140.5 685.4h0M137.0 686.0h0M129.8 687.0h0M135.2 682.2h0M146.9 688.9h0M139.0 682.1h0M138.5 686.5h0M140.0 680.3h0M143.1 688.3h0M147.3 681.5h0M141.8 678.5h0M144.3 686.0h0M138.5 679.8h0M138.8 690.3h0M138.9 688.4h0M138.1 684.4h0M122.3 686.1h0M142.1 690.0h0M135.9 673.7h0M124.1 685.3h0M142.5 683.9h0M145.6 684.7h0M135.4 681.6h0M134.4 685.6h0M145.9 689.0h0M132.7 682.7h0M140.0 679.3h0M139.5 687.3h0M143.7 674.1h0M142.4 683.8h0M131.8 687.5h0M137.1 681.9h0M127.4 686.9h0M126.0 686.1h0M147.5 677.9h0M131.3 676.5h0M131.3 683.8h0M144.2 675.9h0M133.7 690.1h0M138.9 676.0h0M137.8 671.3h0M144.1 682.1h0M125.4 688.2h0M121.0 684.7h0M128.7 659.0h0M130.5 672.3h0M136.0 677.5h0M135.4 690.1h0M142.7 679.2h0M126.5 683.7h0M128.4 688.7h0M145.0 689.3h0M134.1 682.4h0M140.7 686.5h0M147.6 680.5h0M140.6 686.5h0M139.1 686.4h0M124.9 681.8h0M139.6 683.3h0M143.9 690.2h0M141.1 674.5h0M146.7 677.7h0M147.8 689.9h0M130.5 678.1h0M131.7 666.8h0M142.6 685.1h0M142.6 684.7h0M136.1 677.2h0M137.9 681.1h0M147.9 688.5h0M132.3 681.7h0M125.8 685.0h0M140.0 685.2h0M142.3 675.1h0M128.2 689.6h0M140.7 680.6h0M123.9 686.1h0M139.3 686.3h0M143.5 679.3h0M143.3 681.5h0M143.2 679.2h0M146.8 676.3h0M128.8 672.1h0M137.5 666.0h0M125.1 685.9h0M144.0 689.8h0M134.4 628.9h0M144.3 688.2h0M139.6 684.5h0M134.8 688.5h0M131.3 685.6h0M146.6 686.8h0M140.6 687.7h0M139.8 669.7h0M129.5 688.4h0M146.6 687.7h0M136.0 689.3h0M132.0 679.2h0M129.3 680.3h0M116.6 687.4h0M143.9 682.0h0M137.4 680.4h0M144.2 663.3h0M134.9 682.4h0M128.3 683.5h0M142.5 687.2h0M145.0 681.1h0M135.2 680.0h0M133.2 684.2h0M146.6 674.5h0M146.3 684.8h0M140.2 680.4h0M144.0 685.9h0M141.6 679.4h0M131.6 654.5h0M133.6 669.4h0M126.7 682.9h0M143.2 673.2h0M148.3 686.5h0M145.1 681.7h0M135.2 681.0h0M145.0 683.6h0M133.4 680.7h0M132.6 678.4h0M139.9 675.9h0M141.4 686.3h0M138.1 664.6h0M133.3 688.2h0M139.9 681.6h0M140.2 654.5h0M137.9 687.0h0M136.7 689.3h0M143.8 676.0h0M133.0 681.2h0M144.6 686.7h0M146.5 673.0h0M137.2 675.6h0M138.9 687.2h0M140.3 689.7h0M139.4 665.0h0M138.2 677.5h0M128.8 687.2h0M127.9 675.2h0M141.3 677.1h0M145.9 674.5h0M133.1 653.5h0M142.8 677.3h0M123.4 687.6h0M126.9 684.1h0M139.7 685.4h0M146.2 671.5h0M131.7 687.5h0M143.6 682.4h0M141.5 684.7h0M142.3 689.3h0M137.2 685.7h0M147.4 681.6h0M141.9 680.3h0M138.0 690.3h0M134.7 680.6h0M125.6 683.4h0M141.9 677.5h0M140.9 688.2h0M126.3 686.5h0M137.1 689.9h0M137.6 666.2h0M148.2 684.9h0M140.5 682.4h0M147.4 681.5h0M132.8 667.1h0M141.5 689.5h0M131.5 678.5h0M141.6 665.6h0M132.7 689.7h0M143.4 684.6h0M146.0 688.3h0M140.0 683.4h0M144.6 682.9h0M136.2 686.2h0M130.1 684.6h0M147.8 689.0h0M141.9 684.7h0M145.5 683.1h0M142.7 682.7h0M141.7 686.3h0M147.8 678.8h0M128.1 682.6h0M145.0 688.8h0M134.0 684.0h0M138.7 688.4h0M143.1 677.2h0M138.6 683.4h0M127.5 670.9h0M134.1 660.7h0M134.3 665.0h0M133.6 687.2h0M139.2 684.4h0M142.3 686.9h0M137.5 683.1h0M126.8 682.2h0M147.5 682.4h0M135.1 684.4h0M143.7 673.0h0M129.6 683.3h0M138.4 677.8h0M142.5 681.4h0M134.1 679.1h0M142.3 680.0h0M142.6 686.6h0M130.2 683.8h0M137.6 669.0h0M130.5 685.4h0M135.0 685.7h0M147.1 687.2h0M132.5 682.8h0M130.5 690.1h0M134.8 683.9h0M148.2 668.3h0M134.0 679.3h0M134.3 674.9h0M142.4 664.7h0M146.4 674.2h0M143.2 676.5h0M148.5 683.9h0M133.4 678.2h0M142.1 677.6h0M117.5 687.0h0M138.2 669.2h0M134.2 685.9h0M136.8 680.4h0M139.2 688.5h0M129.7 682.1h0M145.5 687.1h0M129.6 686.6h0M137.2 665.7h0M134.7 689.6h0M139.1 688.4h0M125.2 689.1h0M144.6 690.2h0M132.7 682.0h0M146.4 690.3h0M136.0 662.5h0M129.1 686.8h0M144.5 690.0h0M146.9 685.5h0M130.8 687.7h0M139.1 683.3h0M139.9 677.9h0M136.6 687.9h0M127.9 679.6h0M141.4 667.4h0M133.8 686.8h0M136.3 679.2h0M144.2 686.0h0M135.0 684.5h0M136.0 665.2h0M122.9 689.8h0M148.0 689.4h0M144.0 687.9h0M128.0 685.3h0M145.4 686.8h0M141.8 675.6h0M141.4 674.8h0M128.4 686.1h0M143.7 677.8h0M131.9 685.5h0M134.2 678.6h0M134.8 679.1h0M124.4 682.4h0M138.3 689.6h0M140.7 674.7h0M137.7 688.9h0M142.6 670.4h0M130.3 687.2h0M143.1 683.0h0M140.6 679.9h0M133.2 685.5h0M145.8 685.7h0M141.0 660.1h0M139.6 674.0h0M132.2 682.0h0M134.3 680.0h0M119.3 687.2h0M136.9 682.4h0M137.3 676.0h0M128.9 688.4h0M137.7 675.6h0M137.7 679.6h0M126.0 687.5h0M134.4 676.4h0M133.3 689.1h0M129.5 684.5h0M137.5 669.0h0M133.4 678.6h0M135.0 685.7h0M135.4 687.4h0M139.0 680.8h0M140.1 683.0h0M146.6 664.1h0M136.4 689.8h0M129.2 680.6h0M123.7 688.9h0M144.6 657.5h0M137.7 683.8h0M139.0 685.0h0M129.8 680.5h0M133.5 675.4h0M145.3 668.7h0M142.0 678.1h0M147.8 688.8h0M138.3 682.5h0M141.6 688.1h0M128.4 676.7h0M128.1 679.7h0M145.6 672.9h0M129.8 674.4h0M140.2 689.8h0M147.6 688.1h0M141.1 679.7h0M129.4 683.6h0M138.0 686.8h0M143.8 680.1h0M138.8 685.6h0M139.1 685.4h0M133.6 684.4h0M145.7 689.1h0M124.1 687.8h0M138.2 683.1h0M126.9 687.5h0M129.7 687.1h0M139.7 686.9h0M138.9 683.0h0M141.6 687.6h0M130.6 688.1h0M126.2 687.9h0M138.5 682.4h0M142.1 689.1h0M128.0 689.7h0M136.0 678.6h0M133.7 670.0h0M140.2 677.4h0M131.8 675.9h0M135.1 688.1h0M146.2 688.3h0M140.2 677.8h0M140.9 685.1h0M137.4 688.0h0M128.6 688.0h0M134.6 678.7h0M142.9 672.9h0M143.8 681.1h0M141.5 677.0h0M146.0 690.0h0M134.2 669.7h0M135.4 687.5h0M136.7 665.9h0M127.9 677.7h0M138.3 677.5h0M146.9 687.6h0M138.6 685.2h0M144.9 689.6h0M115.2 689.3h0M127.7 681.6h0M139.3 670.1h0M128.6 684.3h0M133.4 679.6h0M131.8 688.6h0M145.5 679.2h0M133.1 676.0h0M135.6 663.1h0M138.7 684.2h0M135.6 687.6h0M142.3 688.8h0M138.6 683.5h0M133.4 676.1h0M138.4 686.8h0M141.7 678.6h0M135.5 686.3h0M143.6 686.1h0M146.9 682.7h0M136.8 671.0h0M128.2 689.3h0M138.7 686.5h0M146.7 679.2h0M142.6 683.3h0M141.4 688.1h0M135.1 686.5h0M146.8 686.7h0M138.9 658.5h0M142.9 684.6h0M121.6 680.8h0M146.0 667.8h0M131.6 685.1h0M139.1 677.4h0M136.9 685.3h0M136.6 676.2h0M121.9 683.9h0M137.3 687.1h0M141.3 690.2h0M128.8 684.3h0M134.8 677.0h0M142.1 687.8h0M134.7 675.5h0M134.3 680.8h0M139.0 685.2h0M145.0 680.8h0M135.1 677.5h0M133.2 687.8h0M148.3 676.0h0M135.9 672.5h0M135.4 680.8h0M146.8 684.2h0M139.9 674.2h0M137.5 684.0h0M133.6 689.7h0M121.9 689.7h0M134.4 682.0h0M138.4 674.7h0M139.5 680.4h0M143.9 685.4h0M138.4 677.8h0M145.7 687.5h0M136.2 687.7h0M147.3 688.1h0M139.9 687.4h0M146.2 673.1h0M138.3 676.3h0M133.2 679.9h0M143.7 679.1h0M142.3 673.7h0M130.7 687.1h0M142.8 686.7h0M136.2 682.8h0M139.1 675.3h0M146.4 685.1h0M141.5 661.6h0M148.3 688.8h0M135.7 689.1h0M146.9 681.4h0M139.3 674.7h0M127.4 688.6h0M133.5 685.4h0M143.8 688.9h0M134.3 686.2h0M147.1 669.4h0M139.4 689.0h0M130.3 689.2h0M128.4 672.3h0M141.5 684.9h0M114.6 690.1h0M142.2 637.3h0M123.4 681.8h0M144.9 683.3h0M138.8 678.1h0M144.4 678.6h0M142.0 686.6h0M134.8 688.2h0M140.0 681.5h0M147.8 684.4h0M135.9 688.1h0M147.3 680.0h0M137.5 684.3h0M136.1 684.3h0M147.7 687.1h0M135.0 685.5h0M134.1 690.4h0M143.4 660.8h0M134.6 670.9h0M135.8 681.9h0M141.7 688.1h0M140.5 689.7h0M145.9 687.9h0M134.4 686.5h0M142.4 688.1h0M131.4 678.8h0M131.5 683.3h0M146.4 680.6h0M120.2 688.3h0M136.0 686.8h0M124.8 685.1h0M139.0 685.0h0M132.2 676.1h0M136.8 687.8h0M138.0 689.6h0M141.6 687.6h0M137.6 668.4h0M142.6 680.5h0M144.9 687.4h0M134.8 675.7h0M143.6 676.3h0M141.2 685.8h0M134.1 676.2h0M145.5 681.1h0M143.5 689.4h0M142.1 687.6h0M139.7 687.5h0M122.3 689.8h0M143.5 679.7h0M143.0 683.6h0M132.8 678.7h0M135.2 685.5h0M141.2 678.4h0M137.0 686.0h0M131.6 679.7h0M131.2 685.7h0M132.3 684.6h0M134.9 681.8h0M140.8 676.5h0M144.5 670.6h0M135.0 677.1h0M145.4 677.2h0M139.8 689.8h0M147.0 690.3h0M142.6 686.2h0M142.5 669.6h0M140.1 689.0h0M148.2 685.0h0M139.5 683.2h0M147.0 675.6h0M145.2 687.2h0M132.2 682.2h0M136.2 687.2h0M139.2 680.6h0M141.4 679.3h0M139.0 667.6h0M132.4 673.2h0M139.2 689.1h0M128.1 690.4h0M132.9 681.1h0M138.8 687.5h0M147.3 682.1h0M137.8 687.7h0M139.8 685.0h0M116.5 688.7h0M121.4 687.3h0M148.3 689.3h0M131.4 688.1h0M140.9 687.5h0M143.8 686.3h0M144.1 687.9h0M126.6 685.8h0M143.7 684.2h0M140.9 683.9h0M133.6 657.6h0M142.7 688.4h0M137.3 677.3h0M139.3 637.2h0M133.0 686.0h0M134.0 673.2h0M138.9 684.6h0M133.6 667.0h0M139.8 679.8h0M141.0 670.9h0M136.0 681.9h0M136.7 684.7h0M142.4 677.0h0M126.8 687.6h0M130.1 678.4h0M139.4 677.8h0M146.1 685.4h0M142.4 675.5h0M125.4 689.1h0M133.1 685.1h0M135.5 686.8h0M142.2 679.0h0M139.5 688.9h0M134.9 689.7h0M124.2 678.5h0M141.3 681.8h0M141.0 684.1h0M131.3 684.9h0M136.6 682.2h0M145.9 689.5h0M130.8 681.3h0M141.2 687.4h0M129.3 685.4h0M130.8 689.6h0M133.1 685.5h0M129.9 685.8h0M139.0 685.5h0M142.8 678.3h0M148.5 689.3h0M138.3 687.9h0M136.0 676.6h0M126.5 681.9h0M140.3 687.8h0M126.3 681.9h0M141.6 672.6h0M135.6 681.1h0M147.8 689.1h0M143.8 667.5h0M139.3 676.8h0M140.4 663.8h0M141.3 677.4h0M133.4 685.3h0M118.0 684.7h0M122.1 687.8h0M135.0 672.6h0M131.9 683.7h0M134.3 685.5h0M139.8 685.1h0M128.6 680.7h0M140.5 687.1h0M137.1 685.3h0M135.7 670.7h0M131.7 690.1h0M128.4 680.3h0M136.4 650.2h0M141.8 675.1h0M136.2 656.2h0M140.9 671.4h0M133.2 663.4h0M133.6 681.5h0M140.7 681.3h0M129.8 688.8h0M134.7 687.1h0M138.8 688.7h0M136.8 689.9h0M134.6 684.0h0M133.7 689.6h0M142.2 687.6h0M136.9 689.8h0M140.3 688.8h0M133.3 681.8h0M136.9 688.4h0M135.6 688.3h0M137.3 689.1h0M135.0 680.6h0M133.0 680.0h0M147.2 686.3h0M126.8 674.8h0M141.0 686.3h0M135.3 679.2h0M126.1 674.7h0M145.4 673.6h0M137.2 686.6h0M140.3 681.4h0M129.3 685.1h0M145.7 683.0h0M146.1 686.1h0M146.0 670.0h0M142.1 688.0h0M134.5 668.1h0M131.7 685.8h0M134.5 684.8h0M130.6 689.0h0M134.5 689.1h0M130.7 686.2h0M140.6 685.6h0M148.0 679.2h0M134.0 685.5h0M132.7 688.9h0M141.1 683.7h0M147.3 672.2h0M128.2 680.2h0M132.3 667.8h0M146.4 688.5h0M134.4 687.2h0M148.0 688.1h0M142.4 664.1h0M137.3 681.0h0M147.3 666.8h0M127.8 688.8h0M134.3 678.4h0M145.5 677.2h0M126.9 674.2h0M142.8 688.3h0M130.9 674.6h0M144.4 686.5h0M131.0 690.3h0M143.9 665.8h0M137.2 664.2h0M138.9 677.2h0M134.6 670.3h0M145.0 656.2h0M145.2 686.7h0M143.0 687.3h0M148.0 687.9h0M146.0 680.3h0M141.1 687.8h0M138.9 685.6h0M122.5 688.5h0M135.7 690.3h0M139.7 690.0h0M130.6 673.4h0M136.8 684.8h0M147.2 688.7h0M135.5 673.3h0M143.9 687.0h0M138.4 689.4h0M142.8 687.0h0M143.0 669.5h0M131.8 674.8h0M134.6 683.6h0M134.0 684.2h0M144.9 673.6h0M122.6 688.1h0M118.6 687.1h0M146.6 666.9h0M141.0 683.4h0M144.1 676.8h0M136.3 679.3h0M143.0 679.8h0M146.1 688.0h0M133.3 688.9h0M136.7 675.5h0M134.6 689.4h0M134.1 687.1h0M136.1 688.6h0M134.9 680.9h0M146.4 679.4h0M143.5 664.9h0M141.5 661.4h0M146.5 679.4h0M135.7 683.0h0M131.8 680.3h0M138.2 672.7h0M145.1 683.5h0M132.9 676.5h0M143.8 680.3h0M128.6 678.7h0M146.1 679.8h0M141.6 677.6h0M131.5 674.3h0M129.9 683.1h0M140.4 680.9h0M141.5 663.3h0M147.3 679.2h0M134.3 690.4h0M138.2 684.9h0M140.2 689.0h0M135.6 689.8h0M121.1 685.0h0M131.6 688.2h0M133.2 687.6h0M136.7 688.6h0M138.5 669.5h0M143.8 685.8h0M127.4 684.7h0M137.8 675.4h0M134.8 659.7h0M137.8 685.4h0M130.8 687.0h0M144.2 671.4h0M142.6 677.2h0M136.9 678.3h0M137.3 656.7h0M143.4 680.9h0M145.9 685.8h0M141.9 686.2h0M129.9 683.3h0M122.0 684.2h0M130.8 669.2h0M148.1 688.2h0M128.1 689.8h0M141.7 679.9h0M123.4 689.2h0M130.6 688.6h0M137.0 679.1h0M120.9 690.3h0M142.0 685.4h0M140.5 681.6h0M135.0 679.8h0M145.5 666.9h0M137.6 678.6h0M138.6 683.2h0M136.4 688.4h0M127.5 677.5h0M138.2 686.2h0M145.6 683.4h0M130.7 685.6h0M140.9 689.5h0M131.4 685.1h0M143.4 689.7h0M143.7 684.2h0M145.4 650.9h0M130.3 682.6h0M132.0 682.6h0M138.3 654.5h0M142.7 687.8h0M139.9 689.2h0M136.5 672.6h0M133.4 688.3h0M145.3 686.1h0M128.3 685.6h0M141.9 677.3h0M148.5 686.9h0M134.7 681.4h0M130.2 682.1h0M121.5 688.2h0M140.2 682.0h0M141.4 671.4h0M142.8 685.2h0M119.7 688.2h0M145.8 678.8h0M115.3 688.9h0M127.6 686.1h0M136.0 671.8h0M143.8 679.3h0M140.4 685.9h0M147.4 690.4h0M142.2 675.2h0M134.0 681.5h0M145.4 687.1h0M135.0 683.7h0M142.4 669.0h0M144.9 689.5h0M141.8 686.2h0M144.8 689.9h0M131.7 690.1h0M125.9 669.6h0M144.2 688.6h0M126.5 686.4h0M142.8 686.9h0M135.0 685.0h0M140.9 687.2h0M140.6 673.4h0M136.6 688.8h0M137.6 686.1h0M145.2 686.1h0M139.3 676.6h0M138.3 672.4h0M140.5 657.2h0M133.0 689.8h0M140.9 676.1h0M139.4 683.1h0M131.5 685.2h0M136.8 661.4h0M135.3 678.5h0M138.7 674.3h0M135.8 687.8h0M136.6 667.2h0M126.4 688.5h0M122.9 689.3h0M131.2 689.8h0M144.3 686.8h0M126.5 681.1h0M146.0 677.0h0M140.3 682.3h0M138.5 686.0h0M144.6 678.4h0M137.0 662.5h0M135.6 680.8h0M135.3 679.2h0M143.0 684.3h0M133.4 678.6h0M135.5 676.2h0M137.8 685.0h0M138.0 675.9h0M143.8 684.0h0M133.6 673.2h0M134.6 675.0h0M140.2 688.9h0M132.3 680.7h0M138.7 675.3h0M126.2 690.4h0M130.5 680.0h0M139.5 675.5h0M126.0 680.4h0M134.8 689.2h0M143.6 686.4h0M128.9 680.3h0M139.0 675.1h0M134.7 683.4h0M134.9 688.3h0M130.1 687.4h0M130.6 687.9h0M144.7 684.0h0M127.9 683.8h0M121.0 681.9h0M142.5 671.4h0M140.9 676.8h0M146.9 674.3h0M136.3 686.2h0M141.0 685.4h0M134.6 676.5h0M124.2 689.6h0M130.6 674.4h0M133.3 678.4h0M144.2 684.6h0M123.5 690.1h0M144.3 686.0h0M121.9 687.9h0M134.3 684.5h0M132.1 683.1h0M140.5 663.9h0M136.8 682.1h0M146.6 686.8h0M143.5 676.4h0M137.4 687.7h0M130.9 689.1h0M133.3 684.3h0M125.1 675.2h0M146.8 684.0h0M136.7 671.5h0M119.7 681.2h0M139.4 662.0h0M147.2 689.6h0M147.0 685.9h0M145.5 681.7h0M128.4 680.6h0M140.2 689.6h0M142.7 689.7h0M146.0 683.2h0M132.1 685.8h0M133.7 688.0h0M148.5 678.5h0M147.0 683.1h0M145.3 682.9h0M129.6 683.7h0M145.7 675.0h0M124.8 689.4h0M143.2 686.8h0M143.5 681.2h0M137.5 690.0h0M118.4 683.0h0M133.6 674.8h0M133.5 673.7h0M135.6 673.5h0M131.9 681.8h0M142.8 685.9h0M147.4 683.3h0M128.2 685.6h0M140.1 689.6h0M130.7 690.5h0M138.2 675.9h0M136.1 670.2h0M136.1 676.9h0M126.9 689.7h0M126.7 688.9h0M137.9 679.5h0M144.7 684.7h0M129.3 686.2h0M140.9 689.3h0M144.9 687.1h0M145.2 689.7h0M139.4 679.5h0M138.0 688.1h0M133.3 674.3h0M135.7 682.1h0M142.5 689.9h0M133.0 684.1h0M143.5 675.7h0M141.4 648.0h0M138.6 670.1h0M138.6 672.0h0M144.8 680.2h0M131.2 688.9h0M119.7 686.7h0M134.7 682.4h0M138.4 684.2h0M136.3 681.1h0M141.3 678.6h0M144.7 674.9h0M139.9 675.8h0M129.8 683.3h0M146.3 671.2h0M116.9 689.9h0M148.2 664.3h0M142.8 663.1h0M141.2 688.3h0M132.8 680.9h0M141.4 682.5h0M134.2 685.9h0M147.8 687.4h0M139.4 672.8h0M142.7 690.1h0M135.0 686.5h0M131.4 659.2h0M148.0 640.2h0M131.9 683.9h0M137.9 683.3h0M147.6 686.2h0M134.6 686.3h0M133.2 676.2h0M146.1 690.3h0M143.0 686.5h0M144.9 687.5h0M137.6 677.7h0M136.7 667.5h0M127.2 676.0h0M125.0 688.6h0M141.2 689.1h0M128.3 677.1h0M139.0 687.6h0M136.8 673.8h0M122.9 659.9h0M125.0 665.2h0M130.7 668.4h0M102.8 646.8h0M129.7 667.7h0M124.8 644.9h0M122.7 672.4h0M129.3 669.9h0M125.2 669.0h0M90.8 657.1h0M117.9 666.3h0M135.1 649.4h0M91.2 648.1h0M127.5 656.6h0M128.4 654.9h0M130.5 679.1h0M100.4 661.1h0M116.7 661.2h0M120.0 653.1h0M108.0 643.5h0M104.6 632.7h0M134.7 676.1h0M125.5 661.7h0M122.5 662.3h0M136.5 675.9h0M127.1 671.1h0M118.4 663.5h0M115.6 655.4h0M128.4 663.6h0M123.5 641.4h0M118.9 667.7h0M115.2 640.4h0M122.3 657.9h0M130.0 670.3h0M131.7 670.1h0M118.8 665.6h0M115.0 661.7h0M115.4 660.8h0M132.8 664.7h0M116.0 663.6h0M132.9 678.2h0M134.5 665.0h0M115.3 657.7h0M114.9 643.3h0M120.3 667.7h0M132.9 671.4h0M95.6 641.6h0M99.2 650.8h0M124.4 665.3h0M129.0 673.9h0M109.6 654.4h0M121.7 662.8h0M116.7 665.2h0M125.6 667.7h0M128.4 672.4h0M132.9 675.7h0M126.6 654.6h0M120.0 663.8h0M125.3 647.9h0M138.5 653.7h0M120.8 650.3h0M116.5 660.4h0M119.8 662.5h0M132.9 666.7h0M103.6 658.2h0M128.9 643.7h0M136.3 623.8h0M134.9 675.5h0M121.0 642.8h0M122.8 671.7h0M124.9 670.2h0M136.9 666.5h0M115.5 657.0h0M134.6 674.4h0M135.5 644.4h0M126.6 674.1h0M113.8 658.7h0M133.8 672.8h0M101.1 639.0h0M125.1 663.5h0M124.2 657.2h0M117.6 661.8h0M124.8 666.3h0M126.3 674.8h0M127.7 655.6h0M118.0 644.5h0M137.3 671.4h0M113.9 665.0h0M123.0 674.3h0M129.5 656.5h0M133.5 660.6h0M122.9 667.1h0M132.2 668.9h0M98.5 649.6h0M113.7 653.1h0M124.7 674.4h0M121.1 656.6h0M118.3 666.6h0M121.7 664.3h0M125.0 652.1h0M127.2 642.6h0M132.7 675.2h0M106.2 641.9h0M130.1 668.5h0M98.8 652.5h0M133.6 675.8h0M132.9 677.7h0M130.3 668.4h0M126.6 675.6h0M135.5 678.3h0M107.7 658.5h0M127.6 657.9h0M134.4 673.9h0M114.6 660.0h0M131.9 670.3h0M134.2 643.8h0M129.5 666.8h0M126.8 654.6h0M88.8 634.7h0M122.8 670.2h0M133.7 664.3h0M105.0 658.6h0M127.8 656.5h0M133.6 673.8h0M129.9 673.4h0M126.2 658.1h0M104.6 656.6h0M132.7 676.7h0M100.9 655.8h0M102.4 657.5h0M130.7 673.8h0M125.0 640.0h0M131.7 663.5h0M132.3 648.2h0M119.8 646.3h0M112.5 649.3h0M118.9 668.3h0M108.9 662.4h0M117.0 638.2h0M119.1 648.0h0M110.6 655.5h0M133.9 657.5h0M130.2 661.8h0M116.6 664.8h0M122.4 669.6h0M115.2 656.3h0M105.5 612.8h0M131.8 667.6h0M104.8 636.2h0M113.2 664.8h0M132.3 664.1h0M130.3 673.3h0M121.4 670.7h0M135.2 675.6h0M127.8 650.2h0M131.8 668.3h0M128.1 657.2h0M122.0 659.5h0M131.0 654.8h0M115.9 668.4h0M136.0 672.4h0M125.9 655.9h0M115.3 654.3h0M133.1 645.1h0M116.9 667.9h0M135.2 642.4h0M133.0 668.3h0M116.7 666.0h0M130.2 673.7h0M125.8 668.7h0M116.4 661.1h0M128.3 670.4h0M127.9 677.4h0M126.2 667.5h0M95.9 650.0h0M132.8 665.3h0M132.1 644.2h0M125.9 667.4h0M122.4 623.7h0M124.4 637.5h0M127.2 657.4h0M114.5 667.9h0M124.7 646.2h0M127.0 672.5h0M114.3 646.4h0M118.3 659.3h0M130.0 647.1h0M131.1 670.6h0M123.9 670.6h0M119.3 672.4h0M116.0 653.1h0M133.6 665.7h0M116.6 662.6h0M124.3 664.4h0M130.7 659.1h0M133.1 670.3h0M123.1 668.8h0M112.2 653.0h0M110.8 648.6h0M122.6 655.2h0M138.6 675.4h0M132.1 662.5h0M112.1 659.8h0M128.9 663.2h0M115.2 666.0h0M129.8 674.9h0M129.6 673.6h0M122.6 660.3h0M134.1 675.7h0M115.0 642.6h0M112.0 660.6h0M115.1 659.2h0M134.6 677.0h0M120.1 664.6h0M123.2 638.7h0M115.7 653.7h0M131.7 676.2h0M119.4 662.9h0M132.6 670.1h0M127.9 669.4h0M112.0 664.6h0M136.4 668.2h0M111.6 665.2h0M111.4 641.0h0M122.2 664.8h0M133.3 670.2h0M123.7 671.8h0M112.6 663.3h0M112.8 652.1h0M115.6 633.1h0M120.1 658.5h0M122.2 670.0h0M127.3 672.3h0M136.1 679.0h0M132.7 665.4h0M105.1 656.2h0M123.5 666.7h0M130.3 675.8h0M112.2 657.4h0M137.2 676.1h0M118.9 654.8h0M122.5 673.5h0M113.6 646.7h0M136.1 677.7h0M128.4 670.5h0M127.4 668.8h0M126.0 665.4h0M121.8 654.7h0M129.8 672.0h0M128.3 667.7h0M125.2 655.8h0M132.7 673.3h0M129.7 668.2h0M120.9 656.5h0M117.6 668.8h0M135.8 663.1h0M127.8 669.6h0M107.2 649.5h0M130.2 651.9h0M110.6 666.8h0M106.2 646.1h0M134.1 672.0h0M109.3 663.7h0M130.3 676.3h0M129.5 670.5h0M113.2 656.8h0M103.6 661.8h0M124.8 660.2h0M125.0 672.1h0M116.8 650.0h0M129.9 643.3h0M113.2 653.2h0M114.4 661.6h0M131.7 646.9h0M125.9 665.0h0M125.8 670.0h0M137.3 645.5h0M125.7 664.2h0M105.0 656.1h0M131.9 676.4h0M118.1 655.9h0M136.7 681.3h0M128.7 676.2h0M106.9 665.4h0M125.3 635.8h0M123.7 632.5h0M128.6 667.4h0M119.5 672.1h0M112.7 644.2h0M115.1 667.3h0M129.8 667.8h0M134.6 668.9h0M129.4 678.4h0M123.5 657.5h0M127.0 637.9h0M118.8 624.1h0M135.4 679.5h0M100.6 647.4h0M132.0 663.3h0M130.2 670.5h0M118.8 651.0h0M129.3 673.0h0M115.4 669.6h0M133.4 660.2h0M108.5 666.0h0M119.0 652.3h0M120.2 650.9h0M123.2 652.2h0M125.2 667.7h0M118.2 645.9h0M128.8 667.2h0M132.6 663.5h0M127.8 666.3h0M137.8 673.1h0M105.6 642.9h0M138.2 676.3h0M125.3 661.2h0M115.3 641.8h0M134.1 664.0h0M134.8 661.6h0M113.7 664.0h0M133.7 663.5h0M98.5 661.6h0M133.0 660.7h0M117.3 671.9h0M125.1 670.0h0M131.5 675.4h0M129.7 677.1h0M91.4 656.7h0M116.8 667.8h0M120.5 637.1h0M134.8 680.6h0M131.0 622.4h0M134.2 673.3h0M88.3 631.6h0M112.4 658.4h0M132.7 674.8h0M109.3 645.3h0M135.1 663.7h0M123.5 656.8h0M116.5 665.6h0M111.5 654.6h0M98.7 657.2h0M121.3 653.3h0M127.6 670.9h0M134.9 671.7h0M135.1 675.1h0M121.9 662.4h0M117.6 664.2h0M124.6 668.0h0M107.5 666.0h0M120.9 671.7h0M119.9 661.5h0M131.9 676.7h0M123.7 672.2h0M125.5 671.4h0M127.3 676.4h0M127.5 676.1h0M133.9 655.2h0M94.4 618.6h0M123.4 656.4h0M111.8 660.8h0M129.8 672.7h0M120.3 648.0h0M119.7 663.0h0M136.1 677.8h0M117.9 647.2h0M115.9 660.9h0M113.0 660.6h0M130.7 658.1h0M103.0 655.8h0M138.4 647.3h0M125.1 665.9h0M124.5 666.1h0M127.7 657.1h0M122.2 664.9h0M136.3 677.2h0M126.8 660.5h0M129.6 645.1h0M129.6 664.1h0M101.2 645.9h0M126.8 657.0h0M132.0 674.0h0M135.6 668.1h0M128.2 670.1h0M121.2 666.8h0M123.0 665.8h0M126.9 648.4h0M130.4 673.2h0M104.6 658.9h0M138.9 676.2h0M133.7 670.2h0M134.2 679.3h0M118.2 670.4h0M123.8 673.9h0M122.7 663.4h0M121.0 641.9h0M131.8 678.3h0M123.6 671.5h0M134.0 665.2h0M131.3 659.9h0M111.2 658.5h0M125.9 670.2h0M139.1 659.5h0M125.1 662.8h0M129.5 674.3h0M125.1 667.5h0M109.5 654.5h0M131.1 668.4h0M106.4 635.8h0M123.8 660.3h0M130.9 658.6h0M118.5 655.3h0M129.9 641.5h0M130.9 677.5h0M105.9 652.2h0M113.6 662.1h0M120.2 646.0h0M111.4 643.0h0M126.6 671.5h0M112.6 649.4h0M115.6 660.5h0M111.2 652.5h0M121.7 665.5h0M114.3 650.9h0M130.8 664.8h0M106.3 663.4h0M123.6 652.6h0M137.2 681.4h0M112.8 652.1h0M136.0 674.0h0M134.6 665.9h0M137.1 664.0h0M113.5 667.6h0M117.5 662.7h0M126.1 655.4h0M129.6 674.1h0M123.6 654.4h0M131.7 662.7h0M114.6 663.1h0M125.8 671.2h0M122.1 664.7h0M112.8 659.6h0M119.7 649.1h0M89.8 653.0h0M123.0 633.0h0M120.0 672.8h0M127.9 648.3h0M129.3 674.1h0M93.5 650.1h0M126.0 674.4h0M124.9 670.6h0M135.2 679.5h0M132.7 668.5h0M102.0 656.0h0M115.1 629.4h0M113.4 628.2h0M110.3 662.7h0M115.8 630.9h0M120.1 649.9h0M136.9 676.3h0M101.2 642.3h0M130.2 656.0h0M128.4 676.0h0M129.6 673.5h0M112.2 665.9h0M128.8 660.7h0M110.4 652.3h0M129.5 642.1h0M119.6 648.5h0M135.6 671.3h0M133.2 672.2h0M132.2 673.2h0M130.6 675.9h0M125.2 671.2h0M125.6 615.4h0M128.4 671.0h0M115.1 664.7h0M126.8 645.2h0M126.7 631.5h0M96.9 660.3h0M121.6 656.0h0M123.6 672.1h0M99.1 661.5h0M132.9 676.2h0M134.6 678.2h0M111.7 663.7h0M110.7 646.2h0M123.0 671.4h0M122.4 665.4h0M99.2 654.7h0M131.3 660.7h0M126.3 665.4h0M123.0 665.3h0M125.0 658.5h0M111.0 664.4h0M126.0 653.1h0M137.4 667.5h0M132.8 670.4h0M98.7 647.6h0M131.0 675.6h0M129.8 673.5h0M96.7 648.2h0M135.1 670.7h0M116.7 669.6h0M104.5 654.7h0M109.3 665.4h0M134.9 634.5h0M132.6 667.6h0M88.5 606.3h0M127.0 657.8h0M118.5 664.6h0M122.2 653.5h0M128.3 667.0h0M110.2 634.6h0M134.3 667.3h0M131.3 650.9h0M124.5 666.4h0M124.8 663.9h0M112.8 654.8h0M105.8 660.8h0M111.4 660.9h0M110.4 651.0h0M130.5 674.3h0M123.6 645.2h0M102.8 650.4h0M112.5 653.3h0M123.6 662.0h0M110.2 667.5h0M120.5 665.6h0M120.9 666.6h0M127.7 667.0h0M138.7 665.7h0M129.8 677.0h0M98.5 659.0h0M127.1 655.5h0M129.1 662.2h0M122.3 661.6h0M114.8 663.6h0M126.5 663.8h0M134.2 659.4h0M116.9 666.3h0M122.5 658.3h0M130.3 640.8h0M129.4 664.8h0M138.3 670.0h0M127.2 634.7h0M138.1 680.7h0M105.0 652.7h0M131.7 672.5h0M127.2 658.1h0M136.0 673.3h0M90.3 655.7h0M129.0 664.6h0M137.3 673.8h0M121.7 663.4h0M100.5 648.0h0M128.4 672.4h0M124.9 657.7h0M101.7 645.5h0M112.4 658.1h0M113.9 640.8h0M132.0 675.8h0M98.8 634.1h0M117.6 666.8h0M131.1 677.8h0M99.9 659.1h0M94.8 648.5h0M117.0 667.3h0M134.7 679.2h0M136.4 655.9h0M115.5 666.6h0M130.8 671.9h0M131.5 673.3h0M96.2 640.1h0M136.0 651.3h0M134.7 678.2h0M122.6 640.5h0M129.0 666.3h0M111.5 639.4h0M134.2 662.8h0M125.5 647.8h0M128.5 650.4h0M127.8 664.1h0M135.7 664.5h0M121.3 665.2h0M135.1 677.2h0M138.0 672.0h0M122.5 673.5h0M136.0 660.9h0M121.2 662.9h0M107.2 622.1h0M128.2 671.4h0M135.7 671.0h0M129.5 657.7h0M130.7 675.7h0M126.2 666.7h0M132.8 660.6h0M114.7 654.9h0M121.9 665.8h0M114.7 666.2h0M130.7 671.7h0M132.4 653.9h0M137.8 670.1h0M132.6 663.4h0M117.2 642.9h0M137.7 672.5h0M129.3 653.6h0M109.6 663.7h0M131.7 665.9h0M129.4 670.3h0M138.2 671.9h0M137.2 680.3h0M112.9 665.7h0M126.2 662.0h0M102.9 623.1h0M125.5 649.0h0M129.9 662.1h0M120.9 655.9h0M122.0 649.8h0M123.8 664.7h0M133.2 635.0h0M129.0 677.0h0M133.8 678.2h0M130.9 650.9h0M137.1 667.7h0M127.1 674.6h0M127.5 663.0h0M134.2 620.2h0M122.8 660.7h0M125.5 665.3h0M128.9 671.8h0M113.0 667.9h0M131.2 662.4h0M118.2 640.9h0M131.0 676.2h0M162.5 689.1h0M156.2 676.0h0M177.5 689.9h0M165.6 675.6h0M156.3 685.9h0M168.8 675.6h0M159.8 687.8h0M161.6 687.0h0M167.1 687.0h0M157.9 678.1h0M159.7 689.6h0M166.9 672.8h0M163.7 683.0h0M162.6 676.0h0M170.2 683.9h0M166.2 682.8h0M170.0 686.1h0M167.3 685.3h0M174.9 683.7h0M161.1 676.6h0M159.3 650.4h0M158.5 680.1h0M164.9 666.5h0M157.5 659.2h0M160.8 683.5h0M161.4 665.2h0M159.7 682.5h0M170.2 681.9h0M159.7 679.5h0M162.6 674.1h0M170.3 689.2h0M157.9 660.0h0M158.9 675.7h0M158.0 677.5h0M160.2 682.3h0M157.4 680.0h0M169.5 682.8h0M159.8 686.1h0M168.8 686.9h0M168.3 682.1h0M154.3 683.8h0M160.1 668.5h0M155.2 689.3h0M164.7 652.7h0M164.9 690.2h0M174.2 689.1h0M171.5 690.0h0M164.8 671.4h0M163.7 652.3h0M157.9 687.3h0M177.1 688.5h0M161.7 684.4h0M160.6 660.5h0M154.3 687.8h0M154.2 677.2h0M163.9 684.0h0M167.7 680.8h0M161.7 681.1h0M172.4 686.2h0M164.8 658.9h0M161.3 689.4h0M158.1 686.3h0M165.9 680.0h0M168.5 682.9h0M161.2 676.5h0M165.5 686.5h0M153.4 687.5h0M161.7 687.3h0M158.7 665.2h0M171.6 685.0h0M167.3 686.8h0M157.7 686.0h0M160.0 689.1h0M161.4 670.2h0M172.3 680.8h0M170.2 679.7h0M166.6 679.7h0M168.5 680.2h0M157.4 673.9h0M171.4 689.1h0M157.0 689.0h0M158.8 648.6h0M166.7 686.8h0M167.7 656.9h0M165.0 688.3h0M161.4 690.1h0M171.3 687.1h0M169.5 687.2h0M163.5 667.9h0M164.6 684.2h0M161.2 670.6h0M165.9 671.2h0M163.4 688.4h0M159.5 686.9h0M164.8 682.7h0M165.1 683.8h0M167.7 686.8h0M168.4 684.6h0M159.8 678.4h0M166.7 669.0h0M154.5 690.1h0M163.5 676.5h0M181.6 685.1h0M168.1 680.8h0M168.8 689.9h0M177.8 688.5h0M174.2 688.5h0M153.5 678.7h0M159.7 675.9h0M156.3 689.6h0M172.3 677.7h0M162.1 664.2h0M154.3 689.4h0M168.1 683.7h0M157.0 686.3h0M154.8 684.7h0M165.3 682.8h0M158.3 684.3h0M154.2 674.3h0M165.8 684.2h0M165.8 681.9h0M167.3 683.5h0M159.4 675.2h0M163.2 677.9h0M165.6 690.1h0M161.5 676.4h0M159.1 679.8h0M177.5 689.4h0M177.4 687.9h0M168.6 687.2h0M168.7 685.1h0M154.8 676.1h0M166.2 671.7h0M165.7 619.2h0M164.8 682.3h0M165.7 688.3h0M161.4 671.4h0M154.2 685.4h0M166.4 642.9h0M166.3 685.6h0M166.6 686.5h0M177.8 690.2h0M166.9 666.9h0M164.5 685.2h0M161.2 684.6h0M153.8 688.2h0M156.5 685.2h0M163.7 687.1h0M161.6 674.9h0M163.2 689.2h0M162.5 670.4h0M160.9 683.2h0M168.2 689.2h0M161.9 688.9h0M155.4 676.3h0M164.6 676.6h0M162.6 679.2h0M163.9 654.8h0M165.5 678.8h0M156.4 689.8h0M163.3 683.5h0M166.8 672.8h0M158.8 685.8h0M166.7 689.7h0M162.9 666.4h0M166.9 676.8h0M170.6 686.1h0M167.8 687.6h0M170.7 689.1h0M158.6 670.3h0M163.6 678.8h0M158.1 675.9h0M164.0 685.8h0M158.9 683.6h0M166.0 660.8h0M161.0 680.8h0M165.5 689.3h0M161.8 626.8h0M170.6 687.7h0M156.6 688.4h0M156.8 689.1h0M171.0 687.8h0M160.6 663.8h0M168.7 679.3h0M160.2 677.3h0M163.0 680.1h0M160.8 667.0h0M157.3 672.6h0M154.7 677.9h0M168.3 687.6h0M160.6 654.7h0M160.5 670.3h0M169.9 689.6h0M160.7 678.3h0M159.5 681.6h0M157.7 689.2h0M168.0 685.7h0M160.2 687.8h0M161.1 688.9h0M163.9 682.2h0M169.0 678.2h0M164.3 682.8h0M164.2 681.3h0M163.1 677.5h0M166.1 672.5h0M162.2 676.2h0M168.3 670.0h0M171.1 685.9h0M165.0 681.4h0M163.8 687.4h0M171.2 682.6h0M159.3 683.0h0M163.5 658.0h0M167.9 681.6h0M159.9 679.1h0M165.9 678.9h0M160.9 680.2h0M164.2 672.0h0M169.8 688.8h0M168.5 673.0h0M169.6 686.6h0M158.4 680.2h0M158.6 679.3h0M159.2 686.6h0M172.4 688.9h0M169.2 686.1h0M159.9 683.5h0M161.3 685.3h0M166.1 665.8h0M162.0 684.5h0M169.7 675.8h0M166.7 669.6h0M164.9 681.7h0M163.0 682.0h0M158.4 689.9h0M165.6 660.5h0M164.0 688.4h0M161.0 676.9h0M160.3 645.7h0M164.0 666.4h0M165.2 675.2h0M166.6 682.0h0M162.5 655.2h0M155.4 680.7h0M161.5 683.9h0M168.3 677.0h0M162.0 656.5h0M156.9 681.1h0M155.7 688.5h0M167.0 683.7h0M168.2 688.3h0M166.7 643.7h0M164.2 678.2h0M158.5 646.3h0M173.4 679.2h0M168.7 676.3h0M168.6 687.5h0M159.8 686.7h0M154.4 682.8h0M161.8 688.7h0M171.4 681.4h0M164.6 684.7h0M164.5 667.2h0M160.8 672.6h0M158.3 677.5h0M167.4 688.5h0M161.6 685.8h0M158.0 686.0h0M164.3 659.4h0M168.3 683.2h0M164.0 683.0h0M157.6 670.4h0M169.3 676.7h0M165.6 676.8h0M166.3 672.9h0M161.2 686.6h0M156.1 686.0h0M155.4 685.9h0M163.2 647.2h0M156.5 685.4h0M164.2 667.7h0M167.2 685.9h0M158.3 669.2h0M159.2 620.2h0M154.8 686.2h0M163.3 671.0h0M161.7 645.1h0M172.0 679.1h0M162.5 674.8h0M154.0 689.5h0M160.5 681.4h0M164.8 683.3h0M172.3 684.2h0M163.4 672.0h0M164.8 678.7h0M174.1 687.2h0M161.8 679.1h0M167.3 686.4h0M155.1 657.8h0M166.7 659.8h0M158.8 660.1h0M164.7 680.8h0M162.7 673.2h0M161.4 688.5h0M158.3 688.2h0M169.8 676.4h0M158.4 678.2h0M155.7 680.7h0M158.3 687.0h0M163.6 669.2h0M159.8 663.1h0M170.5 687.5h0M158.4 674.8h0M165.3 689.1h0M165.7 683.8h0M157.9 688.5h0M167.1 690.2h0M160.2 659.9h0M159.5 663.5h0M156.2 687.1h0M162.7 653.5h0M169.2 684.6h0M167.7 673.5h0M162.8 689.1h0M153.3 681.8h0M162.7 673.8h0M165.0 669.0h0M159.4 643.2h0M164.0 675.8h0M162.7 675.2h0M156.4 682.5h0M173.5 689.0h0M161.5 685.2h0M161.9 683.0h0M158.2 663.3h0M169.8 668.6h0M164.0 683.1h0M163.9 674.2h0M155.0 687.2h0M160.3 688.2h0M164.2 684.2h0M169.5 670.6h0M162.7 673.6h0M166.3 623.8h0M169.6 690.3h0M157.9 670.4h0M164.1 675.4h0M172.3 686.8h0M171.1 670.7h0M159.9 679.0h0M159.2 681.7h0M157.9 675.4h0M154.4 684.5h0M169.1 653.2h0M169.3 689.3h0M157.3 688.7h0M167.0 680.9h0M170.9 690.3h0M171.5 684.8h0M159.9 685.8h0M172.3 689.3h0M160.3 674.6h0M153.2 689.1h0M164.6 690.3h0M167.2 679.8h0M157.8 668.3h0M156.2 676.7h0M158.0 679.4h0M169.9 678.9h0M163.6 639.0h0M162.4 678.5h0M155.4 685.6h0M159.6 674.8h0M154.2 689.9h0M171.1 688.7h0M160.0 658.9h0M164.1 685.4h0M164.1 670.7h0M167.2 688.7h0M160.4 688.7h0M161.7 682.0h0M170.9 688.8h0M159.0 666.1h0M153.8 688.9h0M162.1 657.8h0M170.2 688.6h0M161.9 657.8h0M164.0 667.6h0M163.3 682.3h0M160.9 673.7h0M162.1 681.2h0M160.9 681.7h0M173.7 683.0h0M156.6 654.8h0M158.4 689.2h0M166.2 661.9h0M171.2 657.9h0M162.8 688.4h0M155.6 684.6h0M155.0 678.5h0M153.3 687.3h0M159.1 665.7h0M163.5 672.9h0M154.4 673.5h0M166.6 654.5h0M158.9 674.5h0M162.2 677.9h0M167.9 655.3h0M154.6 685.3h0M160.8 689.1h0M163.4 690.4h0M162.4 667.9h0M162.9 687.9h0M165.8 673.3h0M154.4 681.0h0M172.2 685.8h0M164.9 674.1h0M159.8 685.0h0M153.8 685.5h0M163.4 679.7h0M159.1 685.0h0M156.7 685.8h0M160.6 687.9h0M161.0 675.0h0M166.4 641.0h0M165.3 682.4h0M168.4 674.6h0M168.6 686.2h0M158.3 677.4h0M161.0 684.4h0M178.6 690.3h0M162.0 681.6h0M167.4 685.2h0M160.4 666.3h0M167.0 679.6h0M168.0 688.7h0M166.8 676.4h0M172.4 685.2h0M169.8 685.1h0M154.3 689.8h0M169.2 689.8h0M169.0 674.8h0M172.5 685.6h0M163.7 664.6h0M170.8 688.8h0M168.9 689.4h0M159.9 682.8h0M157.9 681.6h0M153.2 687.9h0M166.8 681.2h0M155.1 687.7h0M165.8 688.0h0M158.1 682.8h0M163.7 650.5h0M156.8 684.6h0M169.1 680.9h0M158.8 682.4h0M175.4 687.5h0M159.9 629.7h0M157.0 679.6h0M157.0 687.3h0M158.6 682.9h0M164.7 673.6h0M175.7 687.2h0M173.0 690.2h0M156.5 686.5h0M155.3 683.6h0M175.9 689.8h0M167.9 684.7h0M170.6 686.1h0M163.9 671.9h0M154.1 683.6h0M158.9 676.5h0M162.1 662.3h0M157.2 674.0h0M165.7 686.5h0M155.5 679.8h0M159.9 671.8h0M173.7 688.1h0M160.3 684.8h0M156.5 660.9h0M164.5 640.7h0M167.8 660.4h0M167.6 679.1h0M157.7 669.1h0M166.0 685.4h0M158.7 684.8h0M175.0 689.4h0M170.0 686.7h0M164.3 688.6h0M163.1 682.5h0M165.8 661.0h0M164.3 680.8h0M169.0 683.5h0M166.9 681.1h0M164.1 688.9h0M154.4 687.5h0M168.5 678.4h0M157.5 684.2h0M167.8 683.4h0M160.9 683.1h0M161.0 685.6h0M167.2 679.5h0M163.2 683.2h0M163.4 676.4h0M161.7 682.6h0M153.4 688.0h0M165.7 677.9h0M161.5 674.7h0M165.5 687.1h0M160.3 652.2h0M168.7 680.1h0M166.4 690.1h0M166.0 660.5h0M157.7 621.6h0M162.7 669.7h0M173.8 687.8h0M160.9 671.9h0M162.3 677.9h0M161.9 681.8h0M164.4 687.4h0M156.5 679.7h0M154.5 690.2h0M162.8 675.5h0M161.6 689.8h0M160.6 686.2h0M156.8 665.5h0M167.5 673.0h0M157.7 684.0h0M173.3 688.3h0M161.6 673.9h0M163.8 666.8h0M166.2 689.5h0M157.5 662.9h0M166.2 664.9h0M160.7 659.3h0M164.8 624.9h0M164.6 662.8h0M163.8 685.0h0M156.5 684.5h0M167.0 669.6h0M154.7 677.5h0M169.7 686.7h0M158.2 682.0h0M166.4 683.9h0M168.3 685.5h0M167.8 682.4h0M160.8 669.8h0M154.6 682.2h0M168.6 688.9h0M155.1 662.7h0M163.3 680.2h0M155.5 680.2h0M157.4 669.0h0M165.2 683.2h0M173.0 690.3h0M163.2 655.3h0M154.6 681.7h0M163.7 688.7h0M163.9 646.3h0M161.7 683.8h0M159.7 679.0h0M160.8 678.5h0M161.1 684.7h0M171.7 685.3h0M163.4 679.4h0M162.3 671.6h0M160.6 678.0h0M167.5 678.1h0M174.8 686.6h0M159.7 687.4h0M161.9 683.2h0M160.2 683.7h0M161.5 653.2h0M163.7 688.8h0M176.1 689.5h0M169.6 685.1h0M171.8 689.0h0M171.1 689.4h0M155.5 689.7h0M164.9 671.8h0M162.6 682.6h0M164.0 689.5h0M160.1 676.4h0M164.9 688.5h0M162.4 675.5h0M161.6 677.5h0M158.1 686.3h0M163.7 668.2h0M167.6 649.7h0M164.4 648.9h0M158.3 679.9h0M158.3 689.5h0M164.3 685.6h0M167.3 660.3h0M162.6 671.8h0M166.9 650.1h0M154.7 682.4h0M166.1 669.8h0M172.8 690.0h0M163.0 677.2h0M165.7 678.5h0M157.1 642.5h0M163.2 688.8h0M163.0 678.6h0M165.6 671.1h0M170.6 687.3h0M163.9 677.9h0M154.2 687.6h0M167.6 663.3h0M161.1 664.2h0M155.0 679.8h0M166.1 657.9h0M166.2 680.7h0M167.6 663.7h0M160.5 688.4h0M160.9 686.9h0M160.5 671.8h0M165.6 687.2h0M172.7 687.9h0M165.3 684.2h0M164.5 684.2h0M168.0 664.4h0M172.8 686.9h0M164.3 687.9h0M169.8 680.9h0M168.8 678.9h0M169.2 669.4h0M169.2 689.5h0M159.1 670.5h0M173.1 682.8h0M160.0 689.1h0M159.0 687.6h0M162.3 664.6h0M166.0 686.1h0M160.9 650.3h0M159.9 689.5h0M157.2 671.5h0M161.4 687.3h0M163.8 685.3h0M170.7 682.3h0M162.1 649.1h0M159.6 675.9h0M167.3 680.3h0M171.7 685.5h0M161.7 687.8h0M157.9 689.9h0M154.4 687.7h0M167.1 687.3h0M167.8 670.8h0M159.4 665.2h0M170.8 675.3h0M173.1 684.5h0M168.0 689.8h0M160.6 677.5h0M156.3 679.9h0M160.3 684.3h0M165.5 688.7h0M171.3 689.1h0M157.2 657.8h0M162.4 653.6h0M160.0 685.8h0M161.4 664.1h0M159.1 685.4h0M169.1 682.2h0M157.8 686.1h0M172.1 686.7h0M156.9 682.1h0M155.2 674.0h0M158.5 682.0h0M160.6 684.2h0M161.6 687.5h0M162.5 653.0h0M168.4 653.6h0M167.3 689.7h0M164.7 642.4h0M168.1 687.9h0M166.2 660.4h0M157.3 689.3h0M161.4 680.5h0M159.3 676.8h0M163.3 687.0h0M166.5 685.7h0M153.9 687.8h0M167.3 682.4h0M155.8 689.1h0M163.8 676.2h0M153.6 681.1h0M164.1 611.7h0M162.5 673.5h0M154.8 689.6h0M163.3 665.2h0M163.8 682.0h0M164.7 686.6h0M159.3 681.5h0M158.6 663.5h0M163.7 676.2h0M166.6 671.3h0M155.2 689.8h0M171.7 680.8h0M170.0 687.3h0M162.1 671.0h0M167.0 690.2h0M160.9 685.4h0M166.0 689.3h0M166.4 686.2h0M163.1 677.2h0M154.2 688.5h0M163.4 687.6h0M167.8 679.9h0M167.3 686.8h0M158.6 633.4h0M159.7 687.8h0M165.1 668.3h0M159.5 676.7h0M165.5 667.2h0M164.6 683.9h0M156.1 681.0h0M159.8 674.5h0M167.3 683.5h0M157.5 684.1h0M159.6 685.1h0M156.5 686.0h0M156.4 688.6h0M161.7 636.7h0M165.0 677.0h0M157.1 681.1h0M157.7 688.0h0M162.6 670.4h0M169.6 680.9h0M162.2 674.6h0M169.1 690.2h0M163.8 689.8h0M153.7 686.4h0M163.3 676.6h0M175.0 689.8h0M156.3 681.2h0M158.4 683.3h0M161.6 677.4h0M166.9 680.6h0M169.3 689.2h0M160.4 668.7h0M161.5 679.6h0M171.3 686.1h0M171.8 686.9h0M168.0 682.9h0M163.4 656.8h0M172.0 681.3h0M165.1 681.3h0M162.5 657.3h0M167.3 682.0h0M167.2 667.5h0M172.4 688.4h0M155.0 680.6h0M162.4 677.4h0M167.3 688.4h0M166.1 681.2h0M161.5 675.2h0M167.9 664.4h0M167.7 689.1h0M163.4 682.4h0M157.1 667.1h0M160.6 687.9h0M168.6 659.6h0M168.1 677.7h0M160.1 676.3h0M165.7 673.4h0M155.1 689.4h0M164.4 678.5h0M158.2 682.2h0M162.1 669.4h0M159.0 687.1h0M157.0 675.3h0M162.9 678.5h0M164.0 684.8h0M157.4 679.2h0M161.9 665.9h0M169.2 686.7h0M164.6 687.6h0M167.1 666.6h0M160.4 669.6h0M165.9 679.4h0M160.7 666.7h0M162.5 680.1h0M154.6 683.3h0M164.5 684.2h0M160.0 675.5h0M153.8 685.8h0M176.6 679.6h0M158.6 680.9h0M161.3 659.1h0M154.0 689.0h0M164.7 688.2h0M169.2 680.5h0M172.7 688.7h0M172.3 687.4h0M166.6 684.2h0M173.5 689.2h0M159.4 687.5h0M162.4 677.3h0M157.8 677.2h0M165.1 687.5h0M156.6 685.5h0M164.0 684.4h0M174.8 687.5h0M157.4 685.1h0M158.6 671.8h0M163.5 689.7h0M165.3 686.6h0M165.6 689.3h0M161.1 656.2h0M172.8 683.4h0M168.3 688.0h0M165.7 663.4h0M163.5 675.0h0M157.6 676.9h0M165.2 667.3h0M173.6 685.8h0M166.3 676.0h0M161.2 666.5h0M158.3 689.9h0M167.7 673.3h0M169.0 666.0h0M156.5 685.1h0M157.5 683.5h0M168.0 686.8h0M159.3 666.5h0M162.9 679.0h0M166.7 666.3h0M164.4 683.5h0M164.1 677.0h0M173.7 686.8h0M157.5 657.6h0M172.2 688.0h0M166.2 687.1h0M171.3 678.4h0M173.5 681.1h0M171.8 689.3h0M160.8 670.6h0M168.4 680.2h0M166.1 683.3h0M167.6 657.6h0M159.1 650.5h0M170.9 682.0h0M156.7 684.9h0M166.4 669.0h0M169.7 676.2h0M163.1 687.0h0M161.4 686.0h0M172.4 687.5h0M154.6 687.6h0M168.6 682.0h0M163.9 687.1h0M163.0 646.0h0M156.0 686.4h0M174.9 687.7h0M161.7 615.0h0M163.2 676.9h0M182.9 688.9h0M164.5 685.5h0M181.1 689.8h0M162.8 688.0h0M153.4 678.7h0M163.4 683.0h0M155.1 686.0h0M154.7 690.0h0M164.6 666.9h0M167.1 687.3h0M157.9 686.4h0M162.2 668.2h0M167.0 685.3h0M171.8 689.0h0M174.5 689.1h0M164.2 681.1h0M166.7 656.7h0M163.5 686.8h0M164.9 645.6h0M162.6 687.2h0M159.6 679.3h0M157.1 661.2h0M158.6 690.2h0M172.8 681.1h0M154.8 684.5h0M158.5 667.4h0M166.0 680.2h0M167.4 672.6h0M167.6 683.5h0M155.8 689.8h0M157.3 652.6h0M169.2 678.8h0M162.3 679.9h0M162.0 682.0h0M162.4 689.8h0M161.0 683.9h0M157.9 689.2h0M167.7 685.3h0M163.7 680.7h0M166.6 680.5h0M155.6 677.5h0M163.4 676.1h0M160.5 653.0h0M162.5 683.8h0M167.0 672.7h0M153.3 689.7h0M166.9 684.0h0M161.8 689.8h0M169.6 678.6h0M166.7 672.5h0M163.7 684.3h0M167.1 688.4h0M165.1 681.3h0M164.6 681.1h0M158.2 657.3h0M163.5 685.6h0M166.7 676.8h0M159.4 677.8h0M166.1 642.0h0M167.6 665.3h0M162.3 667.3h0M166.7 668.6h0M158.2 681.3h0M167.4 668.5h0M165.5 688.9h0M161.2 688.7h0M155.8 689.4h0M155.7 671.1h0M160.5 683.9h0M163.2 680.3h0M159.8 685.4h0M159.0 663.3h0M171.1 687.9h0M161.8 656.0h0M157.5 681.3h0M163.0 677.8h0M161.6 687.5h0M168.3 649.3h0M165.8 688.5h0M157.5 686.2h0M160.6 684.5h0M158.7 688.3h0M160.9 674.4h0M164.0 677.8h0M172.0 684.7h0M169.6 684.3h0M169.1 689.2h0M167.4 683.9h0M159.2 676.4h0M173.6 676.1h0M162.6 680.6h0M162.2 666.0h0M164.5 684.1h0M161.3 687.4h0M160.8 664.2h0M155.8 689.0h0M172.3 673.2h0M158.6 687.7h0M166.0 684.8h0M167.7 682.1h0M168.4 681.1h0M161.4 665.3h0M160.8 659.0h0M164.1 689.6h0M171.7 686.7h0M158.9 676.6h0M164.0 685.3h0M155.2 689.7h0M171.1 683.3h0M159.4 683.4h0M163.4 682.0h0M158.0 680.6h0M164.6 686.7h0M159.1 669.7h0M172.4 683.0h0M155.8 671.5h0M166.4 678.6h0M170.0 688.5h0M161.2 690.1h0M160.2 669.6h0M169.5 678.4h0M167.0 690.1h0M163.4 657.8h0M165.2 680.7h0M154.9 684.9h0M164.7 672.4h0M153.8 683.5h0M165.1 611.0h0M161.8 688.1h0M164.6 678.8h0M153.8 685.7h0M164.8 683.2h0M168.1 682.2h0M157.5 676.5h0M166.4 681.9h0M157.8 683.1h0M166.2 681.7h0M167.8 681.4h0M165.6 665.5h0M156.3 688.7h0M168.0 681.9h0M156.4 688.1h0M162.3 682.2h0M154.5 683.0h0M154.1 689.9h0M165.4 684.8h0M158.0 678.1h0M153.8 687.2h0M155.1 682.2h0M161.0 688.9h0M172.5 678.5h0M170.2 675.3h0M168.8 680.4h0M162.7 657.3h0M165.8 660.7h0M170.5 678.7h0M167.2 689.5h0M161.9 683.2h0M166.8 682.8h0M163.9 686.0h0M164.5 656.9h0M159.8 662.2h0M170.6 688.8h0M168.7 679.5h0M159.2 688.5h0M173.8 675.5h0M168.5 686.6h0M171.4 688.8h0M159.7 670.8h0M171.8 688.8h0M165.3 675.5h0M160.1 677.9h0M171.8 685.1h0M155.9 680.6h0M160.6 676.4h0M167.4 646.7h0M162.4 687.6h0M154.9 674.7h0M164.2 689.7h0M154.0 685.5h0M154.4 680.8h0M163.2 685.8h0M163.9 675.8h0M159.8 680.9h0M153.9 676.9h0M167.0 656.6h0M168.2 677.0h0M168.2 684.4h0M161.9 681.1h0M157.1 678.9h0M160.5 687.8h0M170.9 684.5h0M168.9 687.4h0M163.9 687.7h0M160.0 645.6h0M159.8 690.1h0M159.9 688.7h0M169.0 680.1h0M161.4 680.0h0M169.8 647.8h0M155.0 670.0h0M175.3 681.5h0M162.1 676.9h0M165.1 685.3h0M159.6 669.1h0M173.7 688.2h0M164.7 649.7h0M157.5 651.5h0M163.9 666.7h0M171.8 682.7h0M158.9 680.0h0M162.9 681.9h0M160.5 685.7h0M163.0 664.6h0M169.9 678.4h0M163.9 682.4h0M163.7 678.4h0M159.6 680.6h0M157.6 685.1h0M153.3 684.0h0M154.6 683.4h0M166.2 660.3h0M165.2 683.2h0M167.0 665.0h0M163.9 676.6h0M160.7 688.9h0M166.4 681.3h0M160.2 677.8h0M164.4 684.4h0M167.8 688.9h0M159.1 665.7h0M166.2 685.4h0M160.9 686.7h0M164.0 652.1h0M164.9 671.9h0M156.6 663.9h0M160.2 676.3h0M162.4 687.3h0M161.9 648.2h0M164.1 657.2h0M160.0 688.1h0M169.1 683.9h0M168.7 675.9h0M174.9 689.7h0M157.7 680.0h0M162.4 678.6h0M162.7 675.5h0M167.0 669.1h0M163.4 666.1h0M158.0 666.3h0M163.1 682.1h0M160.5 687.6h0M166.6 678.8h0M158.8 681.0h0M162.7 663.1h0M164.7 672.3h0M161.7 665.9h0M166.3 689.7h0M169.2 686.6h0M156.3 666.1h0M156.6 679.9h0M164.4 685.2h0M161.1 684.3h0M171.0 690.4h0M160.4 654.1h0M168.6 688.2h0M163.3 677.9h0M159.5 685.1h0M163.9 689.0h0M158.0 688.7h0M161.6 688.2h0M162.5 668.3h0M159.5 673.4h0M153.4 685.9h0M168.9 683.4h0M154.2 687.9h0M156.2 682.2h0M162.0 676.7h0M154.1 684.4h0M164.6 665.1h0M156.4 671.8h0M154.1 682.8h0M167.2 680.1h0M161.8 682.8h0M156.9 687.4h0M160.6 674.8h0M160.6 684.1h0M167.7 681.1h0M156.7 650.7h0M161.7 686.8h0M157.8 687.7h0M170.3 671.6h0M156.8 679.9h0M170.6 685.7h0M168.3 658.8h0M164.0 666.9h0M158.2 669.8h0M164.8 686.4h0M160.5 671.9h0M167.4 688.4h0M174.7 686.0h0M155.0 682.2h0M165.9 644.2h0M167.1 676.6h0M164.6 678.8h0M159.6 678.3h0M163.0 671.0h0M160.8 688.3h0M162.7 652.8h0M162.1 674.2h0M163.3 663.9h0M159.3 688.2h0M166.4 689.6h0M164.4 689.3h0M162.9 684.7h0M164.9 685.6h0M155.8 681.9h0M161.8 686.2h0M155.9 686.2h0M158.9 685.3h0M154.9 676.2h0M162.9 647.1h0M156.3 679.7h0M163.1 669.6h0M158.1 678.2h0M161.0 672.0h0M168.0 667.7h0M174.9 680.3h0M160.5 685.0h0M159.1 684.8h0M154.0 685.8h0M160.6 690.3h0M158.5 676.1h0M177.3 689.8h0M162.7 687.9h0M167.2 689.5h0M162.9 689.0h0M167.2 685.0h0M164.6 670.0h0M160.0 675.3h0M156.4 690.4h0M160.7 680.7h0M171.0 687.2h0M157.4 680.4h0M169.1 686.1h0M163.9 658.5h0M155.7 668.5h0M158.2 684.5h0M153.7 684.8h0M154.6 685.5h0M161.6 663.1h0M153.7 684.9h0M155.0 671.1h0M158.7 680.4h0M165.5 677.5h0M168.5 673.6h0M169.6 681.8h0M162.3 684.5h0M164.0 671.6h0M162.6 672.1h0M158.1 685.9h0M154.2 680.2h0M160.9 674.6h0M163.8 683.1h0M157.4 689.8h0M168.0 684.9h0M162.2 599.2h0M166.5 666.0h0M159.1 678.7h0M166.1 688.6h0M163.0 690.1h0M167.8 676.1h0M164.4 686.7h0M170.3 684.9h0M162.7 676.0h0M159.0 685.1h0M158.8 667.4h0M166.1 684.7h0M175.6 689.7h0M157.1 675.6h0M162.3 682.9h0M156.1 680.3h0M158.4 683.3h0M163.8 668.8h0M159.2 670.1h0M165.8 665.6h0M157.3 681.1h0M158.2 689.4h0M162.6 685.9h0M161.6 681.8h0M164.4 681.2h0M161.7 688.1h0M167.6 687.1h0M157.7 670.3h0M161.7 684.3h0M168.7 662.0h0M164.1 689.0h0M163.2 689.5h0M154.3 683.4h0M167.7 683.9h0M165.6 688.6h0M158.5 680.9h0M161.4 679.7h0M172.7 687.3h0M164.9 682.7h0M156.2 685.4h0M165.1 612.6h0M155.8 681.2h0M165.8 639.5h0M163.1 689.4h0M165.8 673.0h0M161.0 682.8h0M157.7 663.8h0M157.7 684.3h0M172.8 687.4h0M168.0 688.2h0M171.7 681.5h0M155.0 686.7h0M158.2 676.5h0M157.5 683.7h0M173.4 680.4h0M170.0 683.3h0M168.4 657.3h0M162.3 670.0h0M157.3 684.6h0M157.4 689.3h0M158.1 684.5h0M160.1 651.8h0M164.1 690.3h0M173.1 687.9h0M155.1 685.0h0M156.7 671.5h0M156.0 678.0h0M161.3 665.4h0M168.2 664.6h0M155.7 686.9h0M169.1 684.7h0M161.0 682.2h0M163.7 686.4h0M169.0 688.3h0M171.0 654.8h0M170.2 688.0h0M166.4 655.9h0M157.8 688.4h0M160.0 679.5h0M160.2 677.8h0M168.1 686.6h0M167.8 676.3h0M167.3 680.3h0M173.9 687.8h0M168.2 672.6h0M165.1 684.7h0M163.6 686.9h0M165.4 670.2h0M165.9 687.7h0M159.0 690.1h0M162.7 647.4h0M169.9 686.3h0M153.9 682.7h0M167.1 687.9h0M164.7 671.9h0M166.4 675.1h0M160.4 686.2h0M161.7 668.9h0M167.2 674.1h0M167.9 689.2h0M166.0 669.1h0M159.1 684.3h0M165.5 670.8h0M157.0 669.1h0M162.3 640.1h0M160.2 681.8h0M157.5 672.6h0M163.6 686.2h0M169.1 682.4h0M161.3 678.7h0M166.5 659.0h0M168.6 676.3h0M155.5 689.7h0M160.7 651.2h0M173.3 688.2h0M160.9 679.6h0M156.6 685.7h0M174.7 686.1h0M168.5 682.6h0M156.5 685.5h0M167.2 690.0h0M169.2 678.3h0M162.4 690.1h0M158.1 684.5h0M164.0 673.4h0M167.8 689.0h0M158.2 689.9h0M154.7 684.0h0M162.7 669.5h0M154.3 685.3h0M162.7 684.5h0M159.9 676.7h0M169.2 690.0h0M171.3 682.5h0M160.7 663.2h0M163.7 688.0h0M153.4 680.7h0M164.6 680.7h0M153.9 688.0h0M154.3 666.3h0M162.2 686.4h0M164.8 687.1h0M164.6 669.6h0M160.1 688.0h0M160.8 686.7h0M164.2 680.5h0M167.2 686.9h0M171.3 678.7h0M165.4 685.9h0M160.5 674.1h0M166.3 686.1h0M161.0 660.3h0M165.2 683.3h0M166.7 686.9h0M158.6 667.8h0M162.4 681.5h0M164.2 684.5h0M161.3 690.1h0M166.4 675.9h0M176.6 685.7h0M155.9 682.7h0M164.6 688.2h0M153.5 686.1h0M168.4 674.8h0M163.3 688.8h0M158.0 685.0h0M159.7 688.0h0M164.5 673.9h0M164.0 666.4h0M162.3 679.1h0M158.0 685.8h0M162.8 665.7h0M169.3 678.2h0M164.0 675.1h0M171.8 684.9h0M156.3 681.0h0M162.4 671.3h0M161.6 670.5h0M158.7 683.4h0M157.7 670.2h0M160.3 683.5h0M172.2 685.5h0M161.7 689.2h0M172.6 689.8h0M160.6 688.7h0M167.3 679.6h0M159.5 682.0h0M166.4 686.0h0M159.7 688.5h0M166.6 667.2h0M158.7 673.2h0M167.3 689.8h0M155.0 688.3h0M154.3 670.1h0M159.4 685.5h0M162.5 681.5h0M153.9 685.5h0M167.1 677.8h0M159.0 666.9h0M154.7 688.9h0M166.8 680.1h0M169.7 687.9h0M160.6 686.2h0M159.4 672.6h0M159.3 671.1h0M160.5 674.8h0M161.7 676.8h0M158.8 673.3h0M164.1 688.5h0M155.5 678.8h0M159.9 686.3h0M166.0 689.5h0M162.8 677.5h0M158.7 674.6h0M155.6 685.6h0M177.5 689.1h0M160.1 665.8h0M166.5 680.4h0M160.9 674.2h0M163.7 673.9h0M164.7 685.7h0M163.0 663.4h0M168.6 674.8h0M166.8 686.9h0M164.2 660.7h0M162.5 677.5h0M161.9 658.1h0M164.7 681.8h0M170.3 683.7h0M157.5 665.2h0M156.1 676.1h0M161.6 687.3h0M172.4 687.8h0M159.5 680.3h0M160.3 684.0h0M161.4 683.7h0M162.1 681.0h0M158.7 677.4h0M168.0 681.7h0M163.0 678.3h0M170.6 690.0h0M176.2 687.1h0M165.8 664.1h0M172.8 687.2h0M169.5 686.0h0M176.8 686.4h0M163.2 664.0h0M160.9 687.3h0M162.7 669.7h0M160.8 667.3h0M171.3 689.3h0M168.8 680.4h0M171.8 685.5h0M169.2 677.8h0M161.0 661.2h0M165.7 681.0h0M153.9 685.8h0M170.5 686.9h0M156.0 688.1h0M166.6 677.7h0M167.0 688.0h0M167.3 690.1h0M167.7 683.2h0M172.8 689.7h0M164.3 674.7h0M164.3 689.7h0M162.7 683.8h0M167.6 676.1h0M154.1 690.2h0M167.1 678.5h0M158.0 681.8h0M162.3 672.5h0M159.3 681.9h0M167.8 673.9h0M159.8 685.4h0M170.5 688.9h0M162.9 682.2h0M167.3 679.8h0M167.3 687.3h0M170.6 677.0h0M162.2 668.2h0M161.3 676.2h0M159.3 681.6h0M159.7 680.4h0M165.9 679.0h0M169.6 682.9h0M159.5 678.0h0M167.9 672.5h0M157.5 676.5h0M164.3 620.6h0M157.9 682.8h0M168.0 689.0h0M169.7 677.4h0M164.8 686.3h0M159.2 668.9h0M173.6 687.8h0M157.1 679.3h0M157.4 677.8h0M160.6 673.1h0M162.1 656.8h0M166.6 667.4h0M163.8 674.7h0M159.1 662.5h0M171.9 679.4h0M166.5 678.6h0M155.0 673.1h0M154.7 686.4h0M159.3 682.4h0M164.3 686.6h0M163.3 665.1h0M174.5 688.5h0M159.9 670.2h0M162.2 687.6h0M168.7 671.0h0M165.7 667.8h0M155.1 658.2h0M170.7 686.4h0M160.0 659.5h0M163.3 656.6h0M157.4 682.7h0M162.9 683.8h0M165.0 678.6h0M164.6 663.0h0M163.3 664.3h0M160.3 643.2h0M167.3 689.0h0M169.8 673.7h0M156.9 680.2h0M165.4 686.7h0M161.9 685.3h0M159.0 680.8h0M163.0 680.7h0M164.2 675.2h0M160.4 686.5h0M158.9 677.8h0M157.9 668.5h0M169.3 669.3h0M165.9 681.1h0M160.8 686.2h0M165.7 686.5h0M167.3 661.5h0M158.0 690.3h0M166.5 686.9h0M162.4 685.2h0M159.4 684.1h0M164.9 680.6h0M159.3 686.3h0M173.5 677.4h0M160.2 685.7h0M163.1 688.2h0M159.7 685.3h0M158.2 678.9h0M169.9 682.6h0M159.6 687.6h0M161.2 682.9h0M158.9 686.8h0M170.0 681.2h0M169.7 678.3h0M164.7 667.1h0M163.3 664.5h0M169.0 681.0h0M159.9 681.6h0M167.2 672.5h0M162.7 673.0h0M167.2 689.8h0M175.6 683.4h0M167.8 687.0h0M154.6 672.3h0M166.9 654.8h0M164.2 681.0h0M164.6 663.7h0M163.0 673.7h0M159.0 680.8h0M165.0 667.5h0M166.6 681.4h0M162.0 675.9h0M172.9 680.0h0M197.7 665.5h0M191.8 669.3h0M178.1 648.2h0M181.9 679.1h0M179.3 641.5h0M179.8 651.3h0M179.5 663.7h0M176.2 651.3h0M177.9 678.2h0M181.0 668.2h0M176.8 676.9h0M184.2 643.9h0M220.1 594.9h0M177.5 673.0h0M187.1 648.4h0M200.4 669.6h0M188.3 645.3h0M179.5 659.9h0M185.5 641.6h0M190.4 657.2h0M184.7 635.7h0M195.1 665.0h0M179.3 675.6h0M208.2 641.4h0M176.6 648.8h0M185.5 673.5h0M187.2 667.4h0M179.9 670.5h0M175.7 683.5h0M185.0 678.6h0M172.0 654.4h0M198.9 654.6h0M186.6 668.2h0M173.7 682.5h0M187.6 655.5h0M177.8 658.7h0M184.2 648.6h0M190.4 672.6h0M195.3 659.2h0M197.2 636.0h0M195.4 668.3h0M221.8 670.5h0M186.5 676.0h0M194.9 676.7h0M194.3 643.5h0M186.0 662.4h0M188.0 678.1h0M180.5 624.1h0M175.5 671.0h0M173.7 684.7h0M183.9 676.6h0M173.3 668.2h0M179.9 649.7h0M189.9 662.5h0M179.1 677.4h0M177.2 675.9h0M176.2 671.8h0M200.8 678.3h0M191.6 666.3h0M184.4 657.7h0M182.6 667.4h0M187.0 678.3h0M186.3 681.5h0M178.2 665.4h0M192.7 654.5h0M181.0 665.6h0M181.6 666.3h0M192.9 669.9h0M179.7 670.1h0M190.5 675.6h0M189.3 654.6h0M180.8 677.7h0M192.7 662.5h0M181.9 678.4h0M182.0 662.1h0M209.3 671.9h0M185.5 656.4h0M203.3 651.9h0M193.8 669.2h0M181.7 661.1h0M172.1 669.2h0M177.5 660.7h0M185.4 670.2h0M180.7 681.8h0M187.0 663.8h0M184.2 657.5h0M174.6 657.4h0M183.6 673.7h0M179.3 632.0h0M71.2 577.5h0M94.5 577.0h0M117.5 582.5h0M89.5 589.5h0M102.5 587.0h0M96.2 597.0h0M103.0 597.0h0M110.0 597.0h0M105.0 605.0h0M96.0 618.8h0M101.0 617.5h0" stroke="#c4c4c9" stroke-width="1.3" stroke-linecap="round" fill="none"/>
<text x="10.60" y="25.90" font-size="18.6" font-weight="bold" stroke="#000" stroke-width="0.45">A</text>
<text x="11.00" y="353.50" font-size="18.6" font-weight="bold" stroke="#000" stroke-width="0.45">B</text>
<text x="270.90" y="353.60" font-size="18.6" font-weight="bold" stroke="#000" stroke-width="0.45">C</text>
<text x="11.00" y="559.60" font-size="18.6" font-weight="bold" stroke="#000" stroke-width="0.45">D</text>
<text x="271.20" y="559.60" font-size="18.6" font-weight="bold" stroke="#000" stroke-width="0.45">E</text>
<line x1="60.00" y1="34.50" x2="60.00" y2="276.40" stroke="#000" stroke-width="1.8"/>
<line x1="59.10" y1="275.60" x2="361.00" y2="275.60" stroke="#000" stroke-width="1.8"/>
<line x1="55.00" y1="91.10" x2="60.00" y2="91.10" stroke="#000" stroke-width="1.3"/>
<text x="50.30" y="94.40" font-size="10" text-anchor="end">20</text>
<line x1="55.00" y1="154.40" x2="60.00" y2="154.40" stroke="#000" stroke-width="1.3"/>
<text x="50.30" y="157.70" font-size="10" text-anchor="end">0</text>
<line x1="55.00" y1="217.60" x2="60.00" y2="217.60" stroke="#000" stroke-width="1.3"/>
<text x="50.30" y="220.90" font-size="10" text-anchor="end">-20</text>
<line x1="121.75" y1="275.60" x2="121.75" y2="280.40" stroke="#000" stroke-width="1.5"/>
<text x="121.75" y="293.70" font-size="10" text-anchor="middle">-25</text>
<line x1="184.60" y1="275.60" x2="184.60" y2="280.40" stroke="#000" stroke-width="1.5"/>
<text x="184.60" y="293.70" font-size="10" text-anchor="middle">0</text>
<line x1="248.50" y1="275.60" x2="248.50" y2="280.40" stroke="#000" stroke-width="1.5"/>
<text x="248.50" y="293.70" font-size="10" text-anchor="middle">25</text>
<line x1="311.40" y1="275.60" x2="311.40" y2="280.40" stroke="#000" stroke-width="1.5"/>
<text x="311.40" y="293.70" font-size="10" text-anchor="middle">50</text>
<text x="165.00" y="311.70" font-size="13.4" textLength="91.50" lengthAdjust="spacingAndGlyphs" stroke="#000" stroke-width="0.2">PCA1: 24% variance</text>
<text x="28.40" y="200.70" font-size="13.4" textLength="91.50" lengthAdjust="spacingAndGlyphs" transform="rotate(-90 28.40 200.70)" stroke="#000" stroke-width="0.2">PCA2: 14% variance</text>
<rect x="77.40" y="189.00" width="3.0" height="3.0" fill="#4f9e22"/>
<rect x="89.50" y="192.00" width="3.0" height="3.0" fill="#4f9e22"/>
<rect x="93.90" y="193.80" width="3.0" height="3.0" fill="#4f9e22"/>
<rect x="84.00" y="198.80" width="3.0" height="3.0" fill="#4f9e22"/>
<rect x="71.40" y="202.90" width="3.0" height="3.0" fill="#4f9e22"/>
<rect x="81.00" y="207.80" width="3.0" height="3.0" fill="#4f9e22"/>
<rect x="114.00" y="204.90" width="3.0" height="3.0" fill="#4f9e22"/>
<rect x="74.90" y="216.00" width="3.0" height="3.0" fill="#4f9e22"/>
<rect x="126.90" y="217.40" width="3.0" height="3.0" fill="#4f9e22"/>
<rect x="81.25" y="244.00" width="3.0" height="3.0" fill="#4f9e22"/>
<rect x="76.00" y="249.50" width="3.0" height="3.0" fill="#4f9e22"/>
<rect x="115.75" y="256.25" width="3.0" height="3.0" fill="#4f9e22"/>
<rect x="111.00" y="263.25" width="3.0" height="3.0" fill="#4f9e22"/>
<rect x="98.90" y="106.00" width="3.2" height="3.2" fill="#a8001e"/>
<rect x="102.40" y="91.70" width="3.2" height="3.2" fill="#a8001e"/>
<rect x="114.20" y="86.20" width="3.2" height="3.2" fill="#a8001e"/>
<rect x="127.90" y="105.90" width="3.2" height="3.2" fill="#a8001e"/>
<rect x="160.10" y="80.50" width="3.2" height="3.2" fill="#a8001e"/>
<rect x="172.20" y="112.80" width="3.2" height="3.2" fill="#a8001e"/>
<rect x="194.30" y="58.60" width="3.2" height="3.2" fill="#a8001e"/>
<rect x="212.00" y="44.40" width="3.2" height="3.2" fill="#a8001e"/>
<rect x="181.10" y="88.90" width="3.2" height="3.2" fill="#a8001e"/>
<rect x="197.80" y="96.60" width="3.2" height="3.2" fill="#a8001e"/>
<rect x="200.20" y="96.70" width="3.2" height="3.2" fill="#a8001e"/>
<rect x="183.80" y="115.60" width="3.2" height="3.2" fill="#a8001e"/>
<rect x="98.40" y="146.70" width="3.2" height="3.2" fill="#a8001e"/>
<rect x="113.90" y="160.70" width="3.2" height="3.2" fill="#a8001e"/>
<rect x="224.90" y="139.40" width="3.2" height="3.2" fill="#a8001e"/>
<rect x="239.20" y="133.70" width="3.2" height="3.2" fill="#a8001e"/>
<rect x="232.20" y="142.90" width="3.2" height="3.2" fill="#a8001e"/>
<rect x="247.90" y="144.40" width="3.2" height="3.2" fill="#a8001e"/>
<rect x="237.70" y="168.90" width="3.2" height="3.2" fill="#a8001e"/>
<rect x="285.20" y="171.20" width="3.2" height="3.2" fill="#a8001e"/>
<rect x="229.40" y="194.20" width="3.2" height="3.2" fill="#a8001e"/>
<rect x="270.90" y="198.40" width="3.2" height="3.2" fill="#a8001e"/>
<rect x="307.20" y="93.20" width="3.2" height="3.2" fill="#a8001e"/>
<rect x="344.30" y="231.40" width="3.2" height="3.2" fill="#a8001e"/>
<rect x="345.50" y="236.40" width="3.2" height="3.2" fill="#a8001e"/>
<path d="M155.00 90.00L158.00 93.00M158.00 90.00L155.00 93.00" stroke="#a8001e" stroke-width="1.2"/>
<path d="M159.30 75.40L162.30 78.40M162.30 75.40L159.30 78.40" stroke="#a8001e" stroke-width="1.2"/>
<path d="M179.10 46.90L182.10 49.90M182.10 46.90L179.10 49.90" stroke="#a8001e" stroke-width="1.2"/>
<path d="M188.30 52.10L191.30 55.10M191.30 52.10L188.30 55.10" stroke="#a8001e" stroke-width="1.2"/>
<path d="M194.90 70.80L197.90 73.80M197.90 70.80L194.90 73.80" stroke="#a8001e" stroke-width="1.2"/>
<path d="M227.00 45.00L230.00 48.00M230.00 45.00L227.00 48.00" stroke="#a8001e" stroke-width="1.2"/>
<path d="M228.80 57.50L231.80 60.50M231.80 57.50L228.80 60.50" stroke="#a8001e" stroke-width="1.2"/>
<path d="M290.40 155.80L292.40 158.95L288.40 158.95Z" fill="none" stroke="#a8001e" stroke-width="1.15" stroke-linejoin="round"/>
<path d="M312.30 243.10L314.30 246.25L310.30 246.25Z" fill="none" stroke="#a8001e" stroke-width="1.15" stroke-linejoin="round"/>
<path d="M336.50 227.10L338.50 230.25L334.50 230.25Z" fill="none" stroke="#a8001e" stroke-width="1.15" stroke-linejoin="round"/>
<path d="M344.80 226.70L346.80 229.85L342.80 229.85Z" fill="none" stroke="#a8001e" stroke-width="1.15" stroke-linejoin="round"/>
<path d="M343.20 235.50L345.20 238.65L341.20 238.65Z" fill="none" stroke="#a8001e" stroke-width="1.15" stroke-linejoin="round"/>
<rect x="375.3" y="118.6" width="4.1" height="6.2" fill="#4f9e22"/>
<text x="384.40" y="124.90" font-size="10.2">HD</text>
<rect x="375.1" y="141.0" width="5.1" height="6.4" fill="#a8001e"/>
<text x="384.40" y="147.40" font-size="10.2">AML</text>
<path d="M375.70 164.60L379.70 168.60M379.70 164.60L375.70 168.60" stroke="#a8001e" stroke-width="1.2"/>
<text x="384.40" y="169.60" font-size="10.2">AML t(8;21)</text>
<path d="M377.5 186.7L380.4 191.0L374.6 191.0Z" fill="none" stroke="#a8001e" stroke-width="1.3"/>
<text x="384.40" y="191.40" font-size="10.2" textLength="73.50" lengthAdjust="spacingAndGlyphs">AML KMT2Amut</text>
<line x1="59.90" y1="362.50" x2="59.90" y2="482.80" stroke="#000" stroke-width="1.6"/>
<line x1="59.10" y1="482.00" x2="236.80" y2="482.00" stroke="#000" stroke-width="1.6"/>
<line x1="55.10" y1="389.30" x2="59.90" y2="389.30" stroke="#000" stroke-width="1.5"/>
<text x="29.80" y="392.00" font-size="10.3">10</text>
<text x="41.70" y="387.50" font-size="7.0">-20</text>
<line x1="55.10" y1="434.30" x2="59.90" y2="434.30" stroke="#000" stroke-width="1.5"/>
<text x="29.80" y="437.00" font-size="10.3">10</text>
<text x="41.70" y="432.50" font-size="7.0">-10</text>
<line x1="55.10" y1="479.00" x2="59.90" y2="479.00" stroke="#000" stroke-width="1.5"/>
<text x="35.40" y="481.70" font-size="10.3">10</text>
<text x="46.40" y="477.20" font-size="7.0">0</text>
<line x1="59.90" y1="482.00" x2="59.90" y2="486.80" stroke="#000" stroke-width="1.5"/>
<text x="59.90" y="499.60" font-size="10" text-anchor="middle">-10</text>
<line x1="102.90" y1="482.00" x2="102.90" y2="486.80" stroke="#000" stroke-width="1.5"/>
<text x="102.90" y="499.60" font-size="10" text-anchor="middle">-5</text>
<line x1="145.90" y1="482.00" x2="145.90" y2="486.80" stroke="#000" stroke-width="1.5"/>
<text x="145.90" y="499.60" font-size="10" text-anchor="middle">0</text>
<line x1="189.20" y1="482.00" x2="189.20" y2="486.80" stroke="#000" stroke-width="1.5"/>
<text x="189.20" y="499.60" font-size="10" text-anchor="middle">5</text>
<line x1="232.40" y1="482.00" x2="232.40" y2="486.80" stroke="#000" stroke-width="1.5"/>
<text x="232.40" y="499.60" font-size="10" text-anchor="middle">10</text>
<text x="79.20" y="517.30" font-size="13.6" textLength="139.20" lengthAdjust="spacingAndGlyphs" stroke="#000" stroke-width="0.2">log2 FC [AML vs HD CD45dim]</text>
<text x="21.80" y="450.70" font-size="13.6" textLength="53.00" lengthAdjust="spacingAndGlyphs" transform="rotate(-90 21.80 450.70)" stroke="#000" stroke-width="0.2">Adj. p-value</text>
<line x1="320.10" y1="363.00" x2="320.10" y2="482.80" stroke="#000" stroke-width="1.6"/>
<line x1="319.30" y1="482.00" x2="506.50" y2="482.00" stroke="#000" stroke-width="1.6"/>
<line x1="315.30" y1="383.00" x2="320.10" y2="383.00" stroke="#000" stroke-width="1.5"/>
<text x="290.00" y="385.70" font-size="10.3">10</text>
<text x="301.90" y="381.20" font-size="7.0">-10</text>
<line x1="315.30" y1="429.30" x2="320.10" y2="429.30" stroke="#000" stroke-width="1.5"/>
<text x="293.80" y="432.00" font-size="10.3">10</text>
<text x="305.50" y="427.50" font-size="7.0">-5</text>
<line x1="315.30" y1="475.00" x2="320.10" y2="475.00" stroke="#000" stroke-width="1.5"/>
<text x="295.60" y="477.70" font-size="10.3">10</text>
<text x="306.60" y="473.20" font-size="7.0">0</text>
<line x1="320.00" y1="482.00" x2="320.00" y2="486.80" stroke="#000" stroke-width="1.5"/>
<text x="320.00" y="499.60" font-size="10" text-anchor="middle">-2</text>
<line x1="365.50" y1="482.00" x2="365.50" y2="486.80" stroke="#000" stroke-width="1.5"/>
<text x="365.50" y="499.60" font-size="10" text-anchor="middle">0</text>
<line x1="410.80" y1="482.00" x2="410.80" y2="486.80" stroke="#000" stroke-width="1.5"/>
<text x="410.80" y="499.60" font-size="10" text-anchor="middle">2</text>
<line x1="456.40" y1="482.00" x2="456.40" y2="486.80" stroke="#000" stroke-width="1.5"/>
<text x="456.40" y="499.60" font-size="10" text-anchor="middle">4</text>
<line x1="502.00" y1="482.00" x2="502.00" y2="486.80" stroke="#000" stroke-width="1.5"/>
<text x="502.00" y="499.60" font-size="10" text-anchor="middle">6</text>
<text x="343.00" y="517.30" font-size="13.6" textLength="140.80" lengthAdjust="spacingAndGlyphs" stroke="#000" stroke-width="0.2">log2 FC [AML vs HD CD45dim]</text>
<text x="281.80" y="448.90" font-size="13.6" textLength="53.00" lengthAdjust="spacingAndGlyphs" transform="rotate(-90 281.80 448.90)" stroke="#000" stroke-width="0.2">Adj. p-value</text>
<line x1="59.90" y1="569.30" x2="59.90" y2="692.90" stroke="#000" stroke-width="1.6"/>
<line x1="59.10" y1="692.10" x2="246.80" y2="692.10" stroke="#000" stroke-width="1.6"/>
<line x1="55.10" y1="594.50" x2="59.90" y2="594.50" stroke="#000" stroke-width="1.5"/>
<text x="29.80" y="597.20" font-size="10.3">10</text>
<text x="41.70" y="592.70" font-size="7.0">-40</text>
<line x1="55.10" y1="642.50" x2="59.90" y2="642.50" stroke="#000" stroke-width="1.5"/>
<text x="29.80" y="645.20" font-size="10.3">10</text>
<text x="41.70" y="640.70" font-size="7.0">-20</text>
<line x1="55.10" y1="690.50" x2="59.90" y2="690.50" stroke="#000" stroke-width="1.5"/>
<text x="35.40" y="693.20" font-size="10.3">10</text>
<text x="46.40" y="688.70" font-size="7.0">0</text>
<line x1="59.90" y1="692.10" x2="59.90" y2="696.90" stroke="#000" stroke-width="1.5"/>
<text x="59.90" y="710.20" font-size="10" text-anchor="middle">-10</text>
<line x1="105.50" y1="692.10" x2="105.50" y2="696.90" stroke="#000" stroke-width="1.5"/>
<text x="105.50" y="710.20" font-size="10" text-anchor="middle">-5</text>
<line x1="150.90" y1="692.10" x2="150.90" y2="696.90" stroke="#000" stroke-width="1.5"/>
<text x="150.90" y="710.20" font-size="10" text-anchor="middle">0</text>
<line x1="196.30" y1="692.10" x2="196.30" y2="696.90" stroke="#000" stroke-width="1.5"/>
<text x="196.30" y="710.20" font-size="10" text-anchor="middle">5</text>
<line x1="242.20" y1="692.10" x2="242.20" y2="696.90" stroke="#000" stroke-width="1.5"/>
<text x="242.20" y="710.20" font-size="10" text-anchor="middle">10</text>
<text x="85.80" y="728.20" font-size="13.6" textLength="135.40" lengthAdjust="spacingAndGlyphs" stroke="#000" stroke-width="0.2">log2 FC [AML vs HD CD45dim</text>
<text x="119.40" y="743.20" font-size="13.6" textLength="68.50" lengthAdjust="spacingAndGlyphs" stroke="#000" stroke-width="0.2">CD34+ CD38-]</text>
<text x="21.80" y="658.10" font-size="13.6" textLength="53.00" lengthAdjust="spacingAndGlyphs" transform="rotate(-90 21.80 658.10)" stroke="#000" stroke-width="0.2">Adj. p-value</text>
<line x1="320.10" y1="572.60" x2="320.10" y2="692.90" stroke="#000" stroke-width="1.6"/>
<line x1="319.30" y1="692.10" x2="503.10" y2="692.10" stroke="#000" stroke-width="1.6"/>
<line x1="315.30" y1="576.80" x2="320.10" y2="576.80" stroke="#000" stroke-width="1.5"/>
<text x="290.00" y="582.00" font-size="10.3">10</text>
<text x="301.90" y="577.50" font-size="7.0">-30</text>
<line x1="315.30" y1="614.40" x2="320.10" y2="614.40" stroke="#000" stroke-width="1.5"/>
<text x="290.00" y="617.10" font-size="10.3">10</text>
<text x="301.90" y="612.60" font-size="7.0">-20</text>
<line x1="315.30" y1="651.50" x2="320.10" y2="651.50" stroke="#000" stroke-width="1.5"/>
<text x="290.00" y="654.20" font-size="10.3">10</text>
<text x="301.90" y="649.70" font-size="7.0">-10</text>
<line x1="315.30" y1="689.50" x2="320.10" y2="689.50" stroke="#000" stroke-width="1.5"/>
<text x="295.60" y="692.20" font-size="10.3">10</text>
<text x="306.60" y="687.70" font-size="7.0">0</text>
<line x1="320.10" y1="692.10" x2="320.10" y2="696.90" stroke="#000" stroke-width="1.5"/>
<text x="320.10" y="709.60" font-size="10" text-anchor="middle">-2</text>
<line x1="364.60" y1="692.10" x2="364.60" y2="696.90" stroke="#000" stroke-width="1.5"/>
<text x="364.60" y="709.60" font-size="10" text-anchor="middle">0</text>
<line x1="409.50" y1="692.10" x2="409.50" y2="696.90" stroke="#000" stroke-width="1.5"/>
<text x="409.50" y="709.60" font-size="10" text-anchor="middle">2</text>
<line x1="454.00" y1="692.10" x2="454.00" y2="696.90" stroke="#000" stroke-width="1.5"/>
<text x="454.00" y="709.60" font-size="10" text-anchor="middle">4</text>
<line x1="498.50" y1="692.10" x2="498.50" y2="696.90" stroke="#000" stroke-width="1.5"/>
<text x="498.50" y="709.60" font-size="10" text-anchor="middle">6</text>
<text x="343.80" y="728.50" font-size="13.6" textLength="135.80" lengthAdjust="spacingAndGlyphs" stroke="#000" stroke-width="0.2">log2 FC [AML vs HD CD45dim</text>
<text x="375.80" y="744.20" font-size="13.6" textLength="72.20" lengthAdjust="spacingAndGlyphs" stroke="#000" stroke-width="0.2">CD34+ CD38- ]</text>
<text x="281.80" y="659.00" font-size="13.6" textLength="53.00" lengthAdjust="spacingAndGlyphs" transform="rotate(-90 281.80 659.00)" stroke="#000" stroke-width="0.2">Adj. p-value</text>
<line x1="315.40" y1="457.00" x2="320.10" y2="457.00" stroke="#000" stroke-width="1.2"/>
<line x1="322.70" y1="457.10" x2="500.30" y2="457.10" stroke="#000" stroke-width="1.6" stroke-dasharray="1.5 1.83"/>
<line x1="422.10" y1="363.75" x2="422.10" y2="482.00" stroke="#000" stroke-width="1.7" stroke-dasharray="1.5 1.83"/>
<line x1="322.70" y1="682.10" x2="496.30" y2="682.10" stroke="#000" stroke-width="1.6" stroke-dasharray="1.5 1.83"/>
<line x1="420.50" y1="576.30" x2="420.50" y2="692.00" stroke="#000" stroke-width="1.7" stroke-dasharray="1.5 1.83"/>
<circle cx="326.20" cy="471.70" r="1.1" fill="#3c0a52"/>
<circle cx="342.10" cy="468.80" r="1.1" fill="#3c0a52"/>
<circle cx="353.10" cy="473.70" r="1.1" fill="#3c0a52"/>
<circle cx="355.20" cy="472.30" r="1.1" fill="#3c0a52"/>
<circle cx="356.20" cy="475.00" r="1.1" fill="#3c0a52"/>
<circle cx="363.80" cy="475.60" r="1.1" fill="#3c0a52"/>
<circle cx="365.80" cy="475.60" r="1.1" fill="#3c0a52"/>
<circle cx="367.70" cy="475.60" r="1.1" fill="#3c0a52"/>
<circle cx="369.60" cy="475.40" r="1.1" fill="#3c0a52"/>
<circle cx="371.00" cy="475.20" r="1.1" fill="#3c0a52"/>
<circle cx="373.50" cy="474.20" r="1.1" fill="#3c0a52"/>
<circle cx="374.60" cy="473.30" r="1.1" fill="#3c0a52"/>
<circle cx="376.20" cy="474.20" r="1.1" fill="#3c0a52"/>
<circle cx="378.70" cy="473.70" r="1.1" fill="#3c0a52"/>
<circle cx="380.00" cy="473.10" r="1.1" fill="#3c0a52"/>
<circle cx="374.80" cy="467.30" r="1.1" fill="#3c0a52"/>
<circle cx="381.20" cy="466.50" r="1.1" fill="#3c0a52"/>
<circle cx="384.00" cy="468.50" r="1.1" fill="#3c0a52"/>
<circle cx="386.00" cy="470.20" r="1.1" fill="#3c0a52"/>
<circle cx="387.70" cy="467.50" r="1.1" fill="#3c0a52"/>
<circle cx="388.30" cy="445.40" r="1.1" fill="#3c0a52"/>
<circle cx="388.80" cy="454.00" r="1.1" fill="#3c0a52"/>
<circle cx="389.60" cy="461.20" r="1.1" fill="#3c0a52"/>
<circle cx="394.00" cy="459.80" r="1.1" fill="#3c0a52"/>
<circle cx="392.30" cy="464.20" r="1.1" fill="#3c0a52"/>
<circle cx="390.80" cy="471.20" r="1.1" fill="#3c0a52"/>
<circle cx="403.80" cy="468.50" r="1.1" fill="#3c0a52"/>
<circle cx="411.30" cy="462.70" r="1.1" fill="#3c0a52"/>
<circle cx="348.10" cy="684.80" r="1.1" fill="#3c0a52"/>
<circle cx="352.50" cy="683.30" r="1.1" fill="#3c0a52"/>
<circle cx="361.50" cy="688.70" r="1.1" fill="#3c0a52"/>
<circle cx="365.60" cy="689.20" r="1.1" fill="#3c0a52"/>
<circle cx="369.20" cy="688.10" r="1.1" fill="#3c0a52"/>
<circle cx="370.80" cy="688.10" r="1.1" fill="#3c0a52"/>
<circle cx="372.30" cy="687.70" r="1.1" fill="#3c0a52"/>
<circle cx="373.70" cy="685.40" r="1.1" fill="#3c0a52"/>
<circle cx="374.20" cy="682.90" r="1.1" fill="#3c0a52"/>
<circle cx="376.50" cy="687.30" r="1.1" fill="#3c0a52"/>
<circle cx="385.60" cy="683.50" r="1.1" fill="#3c0a52"/>
<circle cx="392.90" cy="664.20" r="1.1" fill="#3c0a52"/>
<circle cx="392.90" cy="682.90" r="1.1" fill="#3c0a52"/>
<circle cx="397.30" cy="673.70" r="1.1" fill="#3c0a52"/>
<circle cx="398.10" cy="674.80" r="1.1" fill="#3c0a52"/>
<circle cx="397.70" cy="679.60" r="1.1" fill="#3c0a52"/>
<circle cx="397.10" cy="683.50" r="1.1" fill="#3c0a52"/>
<circle cx="397.70" cy="683.80" r="1.1" fill="#3c0a52"/>
<circle cx="404.40" cy="670.40" r="1.1" fill="#3c0a52"/>
<circle cx="406.30" cy="675.20" r="1.1" fill="#3c0a52"/>
<circle cx="403.50" cy="678.50" r="1.1" fill="#3c0a52"/>
<circle cx="419.40" cy="671.90" r="1.1" fill="#3c0a52"/>
<circle cx="439.25" cy="366.00" r="1.1" fill="#1f3a75"/>
<circle cx="487.25" cy="412.00" r="1.1" fill="#1f3a75"/>
<circle cx="432.60" cy="442.20" r="1.1" fill="#1f3a75"/>
<circle cx="429.90" cy="445.60" r="1.1" fill="#1f3a75"/>
<circle cx="430.40" cy="453.30" r="1.1" fill="#1f3a75"/>
<circle cx="437.40" cy="453.70" r="1.1" fill="#1f3a75"/>
<circle cx="442.00" cy="455.70" r="1.1" fill="#1f3a75"/>
<circle cx="425.00" cy="433.60" r="1.1" fill="#4d9de0"/>
<text x="443.00" y="368.80" font-size="7.2" textLength="16.50" lengthAdjust="spacingAndGlyphs" fill="#3a5590">CD33</text>
<text x="491.00" y="414.50" font-size="7.2" textLength="17.80" lengthAdjust="spacingAndGlyphs" fill="#3a5590">ITGB5</text>
<text x="425.30" y="432.80" font-size="7.2" textLength="19.80" lengthAdjust="spacingAndGlyphs" fill="#3a5590">CD244</text>
<text x="434.70" y="443.90" font-size="7.2" textLength="28.30" lengthAdjust="spacingAndGlyphs" fill="#3a5590">CLEC12A</text>
<text x="405.70" y="448.00" font-size="7.2" textLength="22.60" lengthAdjust="spacingAndGlyphs" fill="#3a5590">P2RY13</text>
<text x="415.20" y="455.00" font-size="7.2" textLength="13.10" lengthAdjust="spacingAndGlyphs" fill="#3a5590">CD7</text>
<text x="422.20" y="460.80" font-size="7.2" textLength="16.80" lengthAdjust="spacingAndGlyphs" fill="#3a5590">CD70</text>
<text x="444.40" y="459.40" font-size="7.2" textLength="15.80" lengthAdjust="spacingAndGlyphs" fill="#3a5590">CD96</text>
<circle cx="426.50" cy="596.75" r="1.1" fill="#1f3a75"/>
<circle cx="422.50" cy="646.40" r="1.1" fill="#1f3a75"/>
<circle cx="446.40" cy="645.60" r="1.1" fill="#1f3a75"/>
<circle cx="479.00" cy="649.70" r="1.1" fill="#1f3a75"/>
<circle cx="434.00" cy="658.00" r="1.1" fill="#1f3a75"/>
<circle cx="438.60" cy="670.00" r="1.1" fill="#1f3a75"/>
<circle cx="422.70" cy="674.80" r="1.1" fill="#1f3a75"/>
<circle cx="421.70" cy="678.50" r="1.1" fill="#1f3a75"/>
<text x="430.00" y="599.30" font-size="7.2" textLength="16.70" lengthAdjust="spacingAndGlyphs" fill="#3a5590">CD33</text>
<text x="423.50" y="643.20" font-size="7.2" textLength="20.30" lengthAdjust="spacingAndGlyphs" fill="#3a5590">LILRA2</text>
<text x="450.00" y="648.20" font-size="7.2" textLength="27.70" lengthAdjust="spacingAndGlyphs" fill="#3a5590">CLEC12A</text>
<text x="482.50" y="652.50" font-size="7.2" textLength="16.80" lengthAdjust="spacingAndGlyphs" fill="#3a5590">CD96</text>
<text x="438.80" y="660.10" font-size="7.2" textLength="23.00" lengthAdjust="spacingAndGlyphs" fill="#3a5590">P2RY13</text>
<text x="442.50" y="672.50" font-size="7.2" textLength="16.30" lengthAdjust="spacingAndGlyphs" fill="#3a5590">CD70</text>
<text x="424.50" y="678.10" font-size="7.2" textLength="19.80" lengthAdjust="spacingAndGlyphs" fill="#3a5590">LILRB4</text>
<text x="422.50" y="688.80" font-size="7.2" textLength="17.50" lengthAdjust="spacingAndGlyphs" fill="#3a5590">ITGB5</text>
<text x="40.80" y="471.80" font-size="9.0" textLength="8.80" lengthAdjust="spacingAndGlyphs" font-style="italic">10</text>
<text x="49.70" y="468.90" font-size="7.2" textLength="5.90" lengthAdjust="spacingAndGlyphs" font-style="italic">-2</text>
<text x="162.00" y="493.90" font-size="8.8" textLength="11.60" lengthAdjust="spacingAndGlyphs" font-style="italic">2.5</text>
<text x="301.30" y="459.40" font-size="9.0" textLength="8.80" lengthAdjust="spacingAndGlyphs" font-style="italic">10</text>
<text x="309.80" y="455.70" font-size="7.2" textLength="5.90" lengthAdjust="spacingAndGlyphs" font-style="italic">-2</text>
<text x="416.70" y="493.90" font-size="8.8" textLength="11.60" lengthAdjust="spacingAndGlyphs" font-style="italic">2.5</text>
<text x="40.80" y="686.60" font-size="9.0" textLength="8.80" lengthAdjust="spacingAndGlyphs" font-style="italic">10</text>
<text x="49.65" y="683.60" font-size="7.2" textLength="5.90" lengthAdjust="spacingAndGlyphs" font-style="italic">-2</text>
<text x="167.90" y="703.80" font-size="8.8" textLength="11.60" lengthAdjust="spacingAndGlyphs" font-style="italic">2.5</text>
<text x="301.20" y="683.40" font-size="9.0" textLength="8.80" lengthAdjust="spacingAndGlyphs" font-style="italic">10</text>
<text x="309.70" y="680.00" font-size="7.2" textLength="5.90" lengthAdjust="spacingAndGlyphs" font-style="italic">-2</text>
<text x="414.70" y="703.90" font-size="8.8" textLength="11.60" lengthAdjust="spacingAndGlyphs" font-style="italic">2.5</text>
<line x1="59.20" y1="469.90" x2="232.60" y2="469.90" stroke="#2f5290" stroke-width="1.6" stroke-dasharray="4.0 2.336"/>
<line x1="167.70" y1="366.30" x2="167.70" y2="482.00" stroke="#2f5290" stroke-width="1.7" stroke-dasharray="4.2 2.35"/>
<line x1="59.20" y1="685.80" x2="241.50" y2="685.80" stroke="#2f5290" stroke-width="1.6" stroke-dasharray="4.0 2.354"/>
<line x1="173.60" y1="570.00" x2="173.60" y2="692.00" stroke="#2f5290" stroke-width="1.7" stroke-dasharray="4.2 2.35"/>
<circle cx="131.60" cy="476.90" r="1.25" fill="#a8001e"/>
<circle cx="137.50" cy="475.50" r="1.25" fill="#a8001e"/>
<circle cx="142.10" cy="477.50" r="1.25" fill="#a8001e"/>
<circle cx="142.90" cy="478.40" r="1.25" fill="#a8001e"/>
<circle cx="145.80" cy="479.00" r="1.25" fill="#a8001e"/>
<circle cx="147.50" cy="478.80" r="1.25" fill="#a8001e"/>
<circle cx="149.20" cy="478.40" r="1.25" fill="#a8001e"/>
<circle cx="151.00" cy="477.80" r="1.25" fill="#a8001e"/>
<circle cx="152.10" cy="477.10" r="1.25" fill="#a8001e"/>
<circle cx="149.80" cy="474.60" r="1.25" fill="#a8001e"/>
<circle cx="153.30" cy="474.40" r="1.25" fill="#a8001e"/>
<circle cx="155.00" cy="475.20" r="1.25" fill="#a8001e"/>
<circle cx="155.90" cy="476.90" r="1.25" fill="#a8001e"/>
<circle cx="155.90" cy="472.60" r="1.25" fill="#a8001e"/>
<circle cx="157.30" cy="470.90" r="1.25" fill="#a8001e"/>
<circle cx="155.00" cy="468.30" r="1.25" fill="#a8001e"/>
<circle cx="155.00" cy="464.20" r="1.25" fill="#a8001e"/>
<circle cx="161.00" cy="475.20" r="1.25" fill="#a8001e"/>
<circle cx="163.60" cy="472.60" r="1.25" fill="#a8001e"/>
<circle cx="168.60" cy="458.50" r="1.25" fill="#a8001e"/>
<circle cx="171.10" cy="463.10" r="1.25" fill="#a8001e"/>
<circle cx="172.00" cy="462.50" r="1.25" fill="#a8001e"/>
<circle cx="170.90" cy="467.70" r="1.25" fill="#a8001e"/>
<circle cx="173.40" cy="468.30" r="1.25" fill="#a8001e"/>
<circle cx="175.20" cy="469.10" r="1.25" fill="#a8001e"/>
<circle cx="174.25" cy="425.50" r="1.25" fill="#a8001e"/>
<circle cx="192.50" cy="448.00" r="1.25" fill="#a8001e"/>
<circle cx="176.25" cy="631.00" r="1.25" fill="#a8001e"/>
<circle cx="174.70" cy="663.10" r="1.25" fill="#a8001e"/>
<circle cx="184.80" cy="662.80" r="1.25" fill="#a8001e"/>
<circle cx="198.30" cy="665.50" r="1.25" fill="#a8001e"/>
<circle cx="179.40" cy="670.90" r="1.25" fill="#a8001e"/>
<circle cx="181.40" cy="678.30" r="1.25" fill="#a8001e"/>
<circle cx="162.30" cy="674.60" r="1.25" fill="#a8001e"/>
<circle cx="166.90" cy="678.50" r="1.25" fill="#a8001e"/>
<circle cx="164.30" cy="681.00" r="1.25" fill="#a8001e"/>
<circle cx="168.00" cy="681.90" r="1.25" fill="#a8001e"/>
<circle cx="166.20" cy="683.60" r="1.25" fill="#a8001e"/>
<circle cx="173.40" cy="679.30" r="1.25" fill="#a8001e"/>
<circle cx="174.70" cy="681.60" r="1.25" fill="#a8001e"/>
<circle cx="174.00" cy="683.60" r="1.25" fill="#a8001e"/>
<circle cx="162.60" cy="686.10" r="1.25" fill="#a8001e"/>
<circle cx="164.30" cy="687.00" r="1.25" fill="#a8001e"/>
<circle cx="159.20" cy="686.60" r="1.25" fill="#a8001e"/>
<circle cx="154.90" cy="687.00" r="1.25" fill="#a8001e"/>
<circle cx="154.20" cy="688.60" r="1.25" fill="#a8001e"/>
<circle cx="153.20" cy="690.00" r="1.25" fill="#a8001e"/>
<circle cx="155.20" cy="689.70" r="1.25" fill="#a8001e"/>
<circle cx="149.10" cy="690.10" r="1.25" fill="#a8001e"/>
<circle cx="150.90" cy="690.40" r="1.25" fill="#a8001e"/>
<circle cx="152.20" cy="690.40" r="1.25" fill="#a8001e"/>
<circle cx="143.70" cy="688.00" r="1.25" fill="#a8001e"/>
<circle cx="145.50" cy="686.60" r="1.25" fill="#a8001e"/>
<path d="M0 0H520V758H0Z M1.6 1.7V756.3H518.5V1.7Z" fill="#000" fill-rule="evenodd"/>
</svg>
</body></html>
